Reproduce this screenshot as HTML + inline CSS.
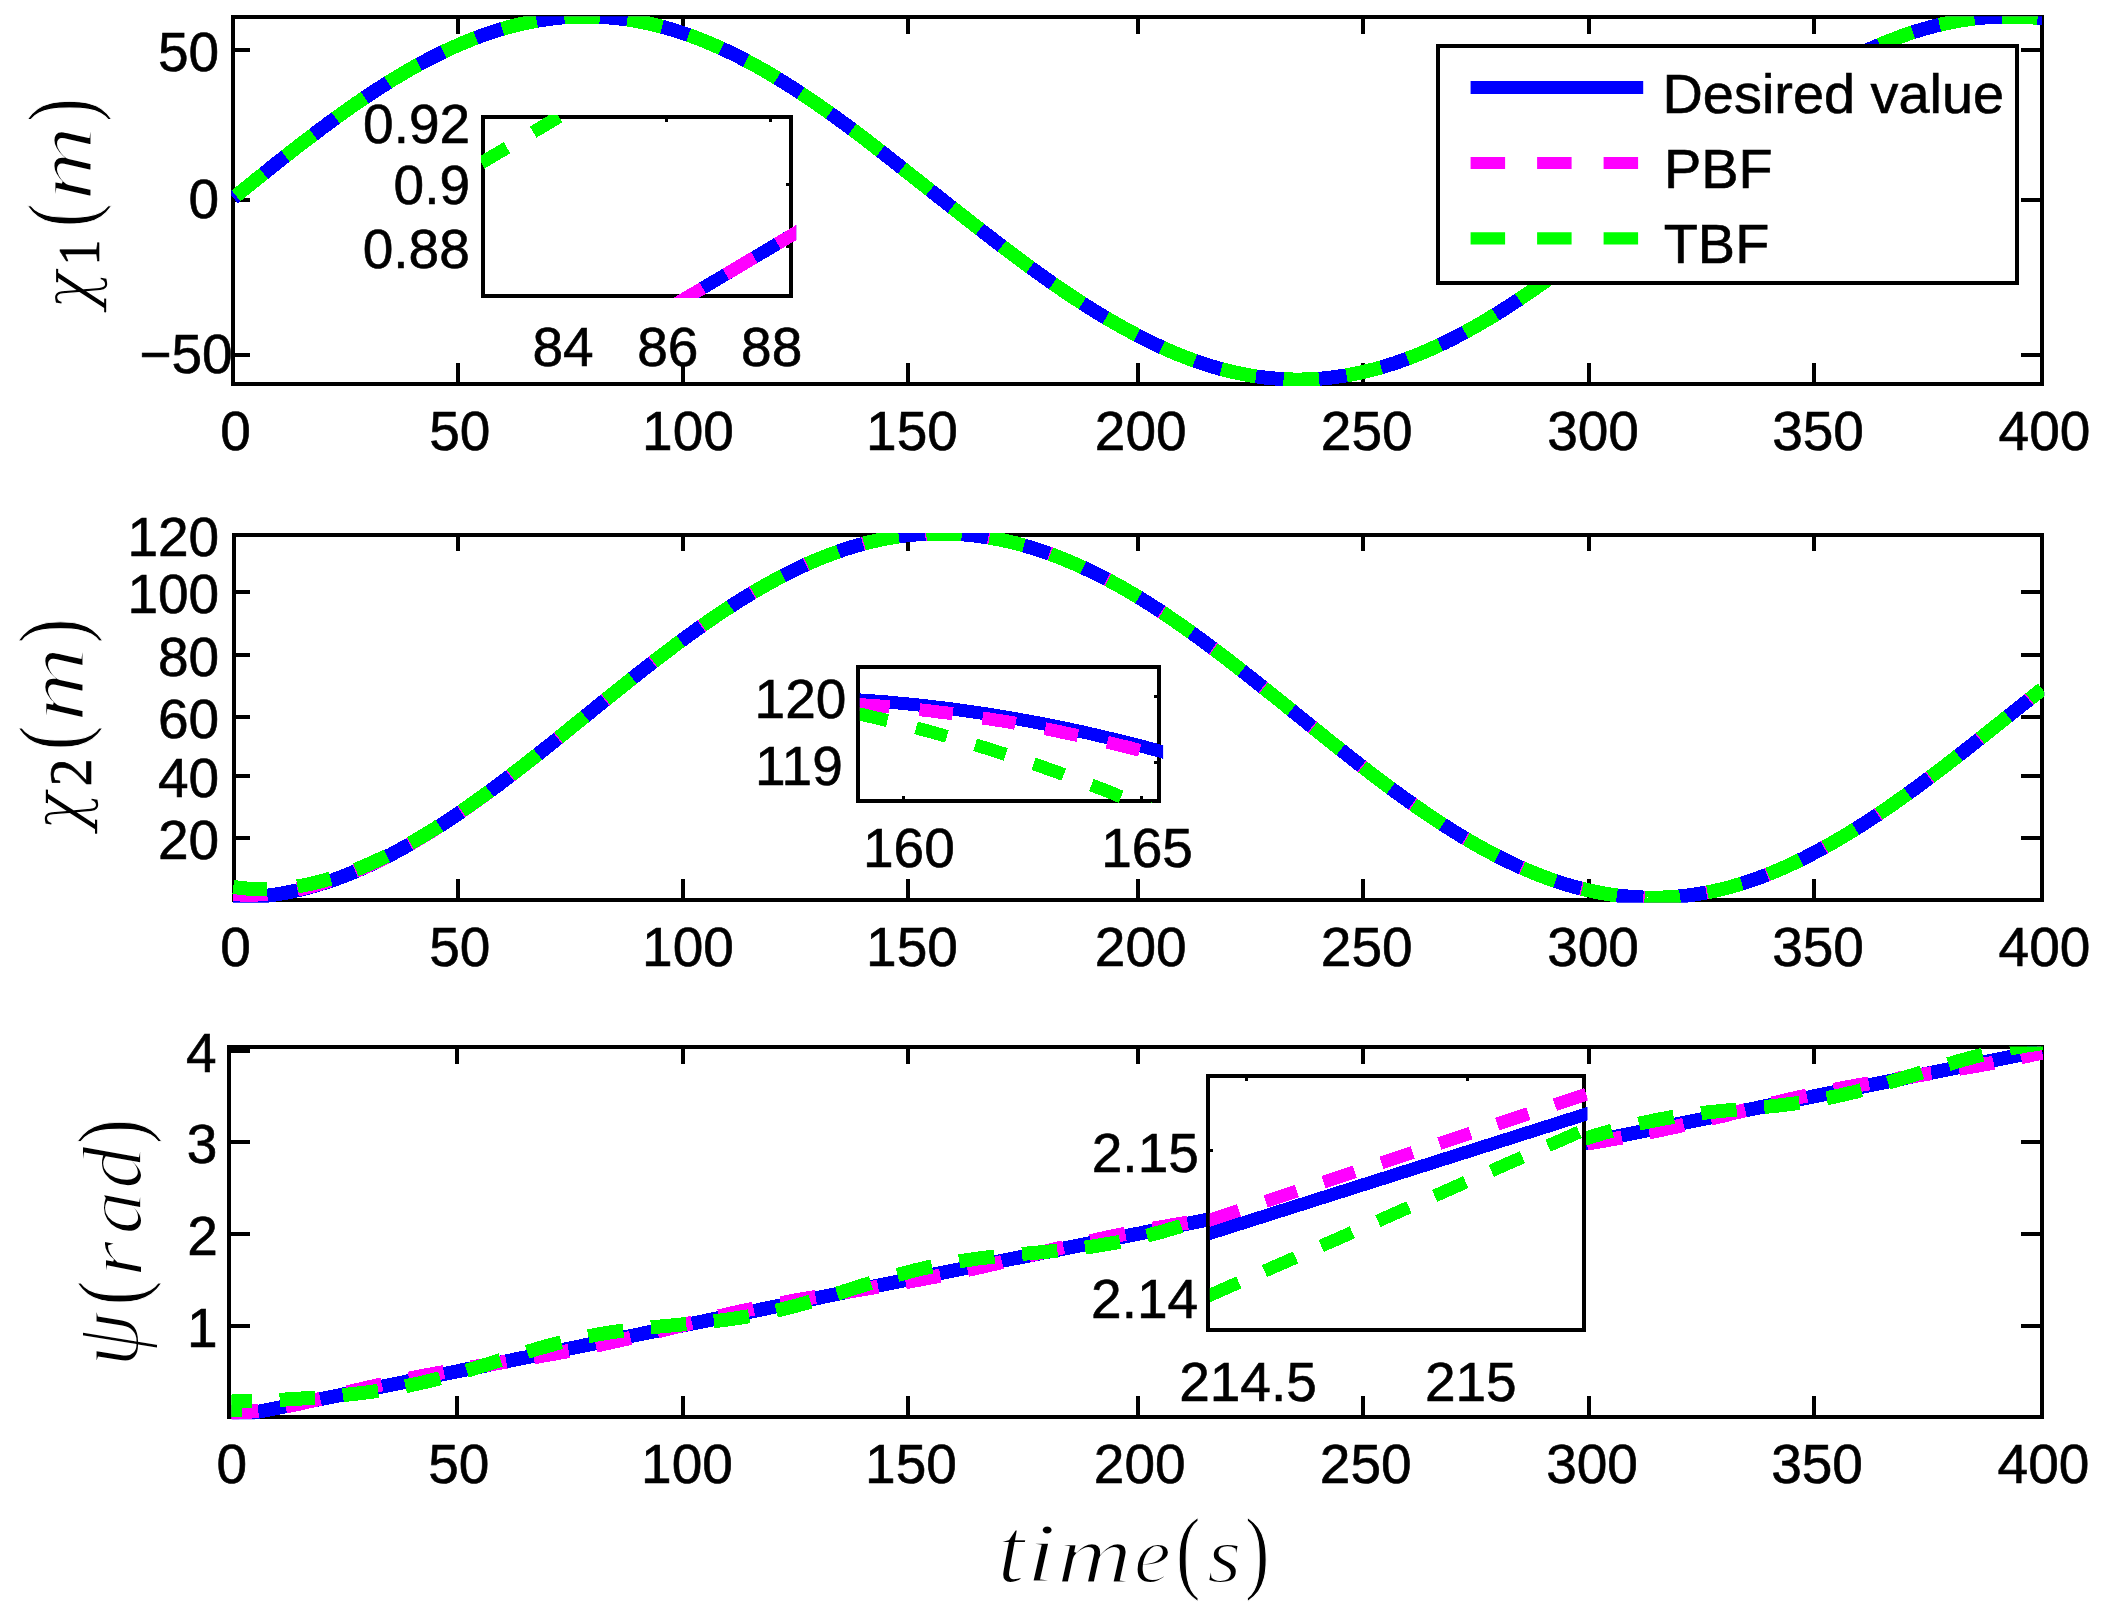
<!DOCTYPE html>
<html><head><meta charset="utf-8"><title>figure</title>
<style>
html,body{margin:0;padding:0;background:#fff;}
svg{display:block}
text{font-family:"Liberation Sans",sans-serif;fill:#000;white-space:pre;stroke:#000;stroke-width:0.6px}
.si{font-family:"Liberation Serif",serif;font-style:italic;stroke:#fff;stroke-width:2px;vector-effect:non-scaling-stroke}
.di{font-family:"DejaVu Serif",serif;font-style:italic;stroke:#fff;stroke-width:1.6px;vector-effect:non-scaling-stroke}
.sd{font-family:"Liberation Serif",serif;font-style:normal}
.sr{font-family:"Liberation Serif",serif;font-style:normal;stroke:#fff;stroke-width:1.2px;vector-effect:non-scaling-stroke}
</style></head>
<body>
<svg width="2111" height="1623" viewBox="0 0 2111 1623">
<rect width="2111" height="1623" fill="#fff"/>
<rect x="233.30" y="17.00" width="1808.90" height="367.00" fill="none" stroke="#000" stroke-width="4" shape-rendering="crispEdges"/>
<line x1="457.70" y1="384.00" x2="457.70" y2="362.50" stroke="#000" stroke-width="4" shape-rendering="crispEdges"/>
<line x1="457.70" y1="17.00" x2="457.70" y2="33.50" stroke="#000" stroke-width="4" shape-rendering="crispEdges"/>
<line x1="682.50" y1="384.00" x2="682.50" y2="362.50" stroke="#000" stroke-width="4" shape-rendering="crispEdges"/>
<line x1="682.50" y1="17.00" x2="682.50" y2="33.50" stroke="#000" stroke-width="4" shape-rendering="crispEdges"/>
<line x1="907.50" y1="384.00" x2="907.50" y2="362.50" stroke="#000" stroke-width="4" shape-rendering="crispEdges"/>
<line x1="907.50" y1="17.00" x2="907.50" y2="33.50" stroke="#000" stroke-width="4" shape-rendering="crispEdges"/>
<line x1="1137.50" y1="384.00" x2="1137.50" y2="362.50" stroke="#000" stroke-width="4" shape-rendering="crispEdges"/>
<line x1="1137.50" y1="17.00" x2="1137.50" y2="33.50" stroke="#000" stroke-width="4" shape-rendering="crispEdges"/>
<line x1="1363.00" y1="384.00" x2="1363.00" y2="362.50" stroke="#000" stroke-width="4" shape-rendering="crispEdges"/>
<line x1="1363.00" y1="17.00" x2="1363.00" y2="33.50" stroke="#000" stroke-width="4" shape-rendering="crispEdges"/>
<line x1="1589.00" y1="384.00" x2="1589.00" y2="362.50" stroke="#000" stroke-width="4" shape-rendering="crispEdges"/>
<line x1="1589.00" y1="17.00" x2="1589.00" y2="33.50" stroke="#000" stroke-width="4" shape-rendering="crispEdges"/>
<line x1="1814.00" y1="384.00" x2="1814.00" y2="362.50" stroke="#000" stroke-width="4" shape-rendering="crispEdges"/>
<line x1="1814.00" y1="17.00" x2="1814.00" y2="33.50" stroke="#000" stroke-width="4" shape-rendering="crispEdges"/>
<line x1="233.30" y1="50.00" x2="249.80" y2="50.00" stroke="#000" stroke-width="4" shape-rendering="crispEdges"/>
<line x1="2042.20" y1="50.00" x2="2020.90" y2="50.00" stroke="#000" stroke-width="4" shape-rendering="crispEdges"/>
<line x1="233.30" y1="199.70" x2="249.80" y2="199.70" stroke="#000" stroke-width="4" shape-rendering="crispEdges"/>
<line x1="2042.20" y1="199.70" x2="2020.90" y2="199.70" stroke="#000" stroke-width="4" shape-rendering="crispEdges"/>
<line x1="233.30" y1="354.50" x2="249.80" y2="354.50" stroke="#000" stroke-width="4" shape-rendering="crispEdges"/>
<line x1="2042.20" y1="354.50" x2="2020.90" y2="354.50" stroke="#000" stroke-width="4" shape-rendering="crispEdges"/>
<clipPath id="c1"><rect x="231.30" y="16.20" width="1812.90" height="369.80"/></clipPath>
<g clip-path="url(#c1)" fill="none" stroke-width="14" stroke-linejoin="round" shape-rendering="crispEdges">
<path d="M233.3,198.0 L235.5,196.2 L237.8,194.4 L240.0,192.6 L242.3,190.7 L244.5,188.9 L246.8,187.1 L249.0,185.3 L251.3,183.5 L253.5,181.7 L255.7,179.9 L258.0,178.1 L260.2,176.3 L262.5,174.5 L264.7,172.7 L267.0,170.9 L269.2,169.1 L271.4,167.3 L273.7,165.5 L275.9,163.7 L278.2,161.9 L280.4,160.2 L282.7,158.4 L284.9,156.6 L287.2,154.9 L289.4,153.1 L291.6,151.3 L293.9,149.6 L296.1,147.8 L298.4,146.1 L300.6,144.4 L302.9,142.6 L305.1,140.9 L307.4,139.2 L309.6,137.5 L311.8,135.8 L314.1,134.1 L316.3,132.4 L318.6,130.7 L320.8,129.0 L323.1,127.3 L325.3,125.7 L327.5,124.0 L329.8,122.3 L332.0,120.7 L334.3,119.1 L336.5,117.4 L338.8,115.8 L341.0,114.2 L343.3,112.6 L345.5,111.0 L347.7,109.4 L350.0,107.8 L352.2,106.2 L354.5,104.7 L356.7,103.1 L359.0,101.6 L361.2,100.1 L363.5,98.5 L365.7,97.0 L367.9,95.5 L370.2,94.0 L372.4,92.5 L374.7,91.1 L376.9,89.6 L379.2,88.2 L381.4,86.7 L383.6,85.3 L385.9,83.9 L388.1,82.5 L390.4,81.1 L392.6,79.7 L394.9,78.3 L397.1,77.0 L399.4,75.6 L401.6,74.3 L403.8,73.0 L406.1,71.7 L408.3,70.4 L410.6,69.1 L412.8,67.8 L415.1,66.5 L417.3,65.3 L419.6,64.1 L421.8,62.8 L424.0,61.6 L426.3,60.5 L428.5,59.3 L430.8,58.1 L433.0,57.0 L435.3,55.8 L437.5,54.7 L439.7,53.6 L442.0,52.5 L444.2,51.4 L446.5,50.4 L448.7,49.3 L451.0,48.3 L453.2,47.3 L455.5,46.3 L457.7,45.3 L459.9,44.3 L462.2,43.3 L464.4,42.4 L466.7,41.5 L468.9,40.6 L471.2,39.7 L473.4,38.8 L475.7,37.9 L477.9,37.1 L480.2,36.2 L482.4,35.4 L484.7,34.6 L486.9,33.8 L489.2,33.1 L491.4,32.3 L493.7,31.6 L495.9,30.9 L498.2,30.2 L500.4,29.5 L502.7,28.8 L504.9,28.2 L507.2,27.6 L509.4,26.9 L511.7,26.3 L513.9,25.8 L516.1,25.2 L518.4,24.6 L520.6,24.1 L522.9,23.6 L525.1,23.1 L527.4,22.6 L529.6,22.2 L531.9,21.7 L534.1,21.3 L536.4,20.9 L538.6,20.5 L540.9,20.1 L543.1,19.8 L545.4,19.5 L547.6,19.1 L549.9,18.8 L552.1,18.6 L554.4,18.3 L556.6,18.1 L558.9,17.8 L561.1,17.6 L563.4,17.4 L565.6,17.2 L567.9,17.1 L570.1,17.0 L572.3,16.8 L574.6,16.7 L576.8,16.7 L579.1,16.6 L581.3,16.5 L583.6,16.5 L585.8,16.5 L588.1,16.5 L590.3,16.5 L592.6,16.6 L594.8,16.6 L597.1,16.7 L599.3,16.8 L601.6,16.9 L603.8,17.1 L606.1,17.2 L608.3,17.4 L610.6,17.6 L612.8,17.8 L615.1,18.0 L617.3,18.3 L619.6,18.5 L621.8,18.8 L624.1,19.1 L626.3,19.4 L628.5,19.7 L630.8,20.1 L633.0,20.5 L635.3,20.8 L637.5,21.2 L639.8,21.7 L642.0,22.1 L644.3,22.6 L646.5,23.0 L648.8,23.5 L651.0,24.0 L653.3,24.6 L655.5,25.1 L657.8,25.7 L660.0,26.2 L662.3,26.8 L664.5,27.5 L666.8,28.1 L669.0,28.7 L671.3,29.4 L673.5,30.1 L675.8,30.8 L678.0,31.5 L680.3,32.2 L682.5,33.0 L684.8,33.7 L687.0,34.5 L689.2,35.3 L691.5,36.1 L693.8,36.9 L696.0,37.8 L698.2,38.6 L700.5,39.5 L702.8,40.4 L705.0,41.3 L707.2,42.3 L709.5,43.2 L711.8,44.1 L714.0,45.1 L716.2,46.1 L718.5,47.1 L720.8,48.1 L723.0,49.2 L725.2,50.2 L727.5,51.3 L729.8,52.3 L732.0,53.4 L734.2,54.5 L736.5,55.6 L738.8,56.8 L741.0,57.9 L743.2,59.1 L745.5,60.3 L747.8,61.5 L750.0,62.7 L752.2,63.9 L754.5,65.1 L756.8,66.3 L759.0,67.6 L761.2,68.9 L763.5,70.1 L765.8,71.4 L768.0,72.8 L770.2,74.1 L772.5,75.4 L774.8,76.7 L777.0,78.1 L779.2,79.5 L781.5,80.9 L783.8,82.2 L786.0,83.6 L788.2,85.1 L790.5,86.5 L792.8,87.9 L795.0,89.4 L797.2,90.8 L799.5,92.3 L801.8,93.8 L804.0,95.3 L806.2,96.8 L808.5,98.3 L810.8,99.8 L813.0,101.3 L815.2,102.9 L817.5,104.4 L819.8,106.0 L822.0,107.6 L824.2,109.1 L826.5,110.7 L828.8,112.3 L831.0,113.9 L833.2,115.5 L835.5,117.2 L837.8,118.8 L840.0,120.4 L842.2,122.1 L844.5,123.7 L846.8,125.4 L849.0,127.1 L851.2,128.7 L853.5,130.4 L855.8,132.1 L858.0,133.8 L860.2,135.5 L862.5,137.2 L864.8,138.9 L867.0,140.6 L869.2,142.4 L871.5,144.1 L873.8,145.8 L876.0,147.6 L878.2,149.3 L880.5,151.1 L882.8,152.8 L885.0,154.6 L887.2,156.3 L889.5,158.1 L891.8,159.9 L894.0,161.7 L896.2,163.4 L898.5,165.2 L900.8,167.0 L903.0,168.8 L905.2,170.6 L907.5,172.4 L909.8,174.2 L912.1,176.0 L914.4,177.8 L916.7,179.6 L919.0,181.4 L921.3,183.2 L923.6,185.0 L925.9,186.8 L928.2,188.6 L930.5,190.5 L932.8,192.3 L935.1,194.1 L937.4,195.9 L939.7,197.7 L942.0,199.5 L944.3,201.3 L946.6,203.2 L948.9,205.0 L951.2,206.8 L953.5,208.6 L955.8,210.4 L958.1,212.2 L960.4,214.0 L962.7,215.8 L965.0,217.6 L967.3,219.4 L969.6,221.2 L971.9,223.0 L974.2,224.8 L976.5,226.6 L978.8,228.4 L981.1,230.2 L983.4,232.0 L985.7,233.8 L988.0,235.6 L990.3,237.3 L992.6,239.1 L994.9,240.9 L997.2,242.6 L999.5,244.4 L1001.8,246.1 L1004.1,247.9 L1006.4,249.6 L1008.7,251.4 L1011.0,253.1 L1013.3,254.8 L1015.6,256.5 L1017.9,258.3 L1020.2,260.0 L1022.5,261.7 L1024.8,263.4 L1027.1,265.1 L1029.4,266.7 L1031.7,268.4 L1034.0,270.1 L1036.3,271.7 L1038.6,273.4 L1040.9,275.0 L1043.2,276.7 L1045.5,278.3 L1047.8,279.9 L1050.1,281.6 L1052.4,283.2 L1054.7,284.8 L1057.0,286.4 L1059.3,287.9 L1061.6,289.5 L1063.9,291.1 L1066.2,292.6 L1068.5,294.2 L1070.8,295.7 L1073.1,297.2 L1075.4,298.7 L1077.7,300.2 L1080.0,301.7 L1082.3,303.2 L1084.6,304.7 L1086.9,306.2 L1089.2,307.6 L1091.5,309.1 L1093.8,310.5 L1096.1,311.9 L1098.4,313.3 L1100.7,314.7 L1103.0,316.1 L1105.3,317.5 L1107.6,318.8 L1109.9,320.2 L1112.2,321.5 L1114.5,322.8 L1116.8,324.1 L1119.1,325.4 L1121.4,326.7 L1123.7,328.0 L1126.0,329.3 L1128.3,330.5 L1130.6,331.7 L1132.9,333.0 L1135.2,334.2 L1137.5,335.4 L1139.8,336.5 L1142.0,337.7 L1144.3,338.9 L1146.5,340.0 L1148.8,341.1 L1151.0,342.2 L1153.3,343.3 L1155.5,344.4 L1157.8,345.5 L1160.0,346.5 L1162.3,347.6 L1164.6,348.6 L1166.8,349.6 L1169.1,350.6 L1171.3,351.5 L1173.6,352.5 L1175.8,353.5 L1178.1,354.4 L1180.3,355.3 L1182.6,356.2 L1184.9,357.1 L1187.1,357.9 L1189.4,358.8 L1191.6,359.6 L1193.9,360.4 L1196.1,361.2 L1198.4,362.0 L1200.6,362.8 L1202.9,363.5 L1205.2,364.3 L1207.4,365.0 L1209.7,365.7 L1211.9,366.4 L1214.2,367.1 L1216.4,367.7 L1218.7,368.3 L1220.9,369.0 L1223.2,369.6 L1225.4,370.1 L1227.7,370.7 L1230.0,371.3 L1232.2,371.8 L1234.5,372.3 L1236.7,372.8 L1239.0,373.3 L1241.2,373.7 L1243.5,374.2 L1245.7,374.6 L1248.0,375.0 L1250.2,375.4 L1252.5,375.8 L1254.8,376.2 L1257.0,376.5 L1259.3,376.8 L1261.5,377.1 L1263.8,377.4 L1266.0,377.7 L1268.3,377.9 L1270.5,378.1 L1272.8,378.4 L1275.1,378.5 L1277.3,378.7 L1279.6,378.9 L1281.8,379.0 L1284.1,379.1 L1286.3,379.3 L1288.6,379.3 L1290.8,379.4 L1293.1,379.5 L1295.3,379.5 L1297.6,379.5 L1299.9,379.5 L1302.1,379.5 L1304.4,379.4 L1306.6,379.4 L1308.9,379.3 L1311.1,379.2 L1313.4,379.1 L1315.6,379.0 L1317.9,378.8 L1320.2,378.6 L1322.4,378.5 L1324.7,378.2 L1326.9,378.0 L1329.2,377.8 L1331.4,377.5 L1333.7,377.3 L1335.9,377.0 L1338.2,376.6 L1340.5,376.3 L1342.7,376.0 L1345.0,375.6 L1347.2,375.2 L1349.5,374.8 L1351.7,374.4 L1354.0,374.0 L1356.2,373.5 L1358.5,373.0 L1360.7,372.6 L1363.0,372.0 L1365.3,371.5 L1367.5,371.0 L1369.8,370.4 L1372.0,369.8 L1374.3,369.3 L1376.6,368.6 L1378.8,368.0 L1381.1,367.4 L1383.3,366.7 L1385.6,366.0 L1387.9,365.3 L1390.1,364.6 L1392.4,363.9 L1394.6,363.2 L1396.9,362.4 L1399.2,361.6 L1401.4,360.8 L1403.7,360.0 L1405.9,359.2 L1408.2,358.3 L1410.5,357.5 L1412.7,356.6 L1415.0,355.7 L1417.2,354.8 L1419.5,353.9 L1421.8,353.0 L1424.0,352.0 L1426.3,351.0 L1428.5,350.1 L1430.8,349.1 L1433.1,348.0 L1435.3,347.0 L1437.6,346.0 L1439.8,344.9 L1442.1,343.8 L1444.4,342.8 L1446.6,341.6 L1448.9,340.5 L1451.1,339.4 L1453.4,338.3 L1455.7,337.1 L1457.9,335.9 L1460.2,334.7 L1462.4,333.5 L1464.7,332.3 L1467.0,331.1 L1469.2,329.9 L1471.5,328.6 L1473.7,327.3 L1476.0,326.1 L1478.3,324.8 L1480.5,323.5 L1482.8,322.1 L1485.0,320.8 L1487.3,319.5 L1489.6,318.1 L1491.8,316.7 L1494.1,315.4 L1496.3,314.0 L1498.6,312.6 L1500.9,311.2 L1503.1,309.7 L1505.4,308.3 L1507.6,306.9 L1509.9,305.4 L1512.2,303.9 L1514.4,302.4 L1516.7,301.0 L1518.9,299.5 L1521.2,297.9 L1523.5,296.4 L1525.7,294.9 L1528.0,293.4 L1530.2,291.8 L1532.5,290.3 L1534.8,288.7 L1537.0,287.1 L1539.3,285.5 L1541.5,283.9 L1543.8,282.3 L1546.1,280.7 L1548.3,279.1 L1550.6,277.5 L1552.8,275.8 L1555.1,274.2 L1557.4,272.5 L1559.6,270.9 L1561.9,269.2 L1564.1,267.5 L1566.4,265.9 L1568.7,264.2 L1570.9,262.5 L1573.2,260.8 L1575.4,259.1 L1577.7,257.4 L1580.0,255.6 L1582.2,253.9 L1584.5,252.2 L1586.7,250.5 L1589.0,248.7 L1591.2,247.0 L1593.5,245.2 L1595.8,243.5 L1598.0,241.7 L1600.2,239.9 L1602.5,238.2 L1604.8,236.4 L1607.0,234.6 L1609.2,232.8 L1611.5,231.1 L1613.8,229.3 L1616.0,227.5 L1618.2,225.7 L1620.5,223.9 L1622.8,222.1 L1625.0,220.3 L1627.2,218.5 L1629.5,216.7 L1631.8,214.9 L1634.0,213.1 L1636.2,211.3 L1638.5,209.5 L1640.8,207.6 L1643.0,205.8 L1645.2,204.0 L1647.5,202.2 L1649.8,200.4 L1652.0,198.6 L1654.2,196.8 L1656.5,194.9 L1658.8,193.1 L1661.0,191.3 L1663.2,189.5 L1665.5,187.7 L1667.8,185.9 L1670.0,184.1 L1672.2,182.3 L1674.5,180.5 L1676.8,178.6 L1679.0,176.8 L1681.2,175.0 L1683.5,173.2 L1685.8,171.4 L1688.0,169.7 L1690.2,167.9 L1692.5,166.1 L1694.8,164.3 L1697.0,162.5 L1699.2,160.7 L1701.5,159.0 L1703.8,157.2 L1706.0,155.4 L1708.2,153.7 L1710.5,151.9 L1712.8,150.1 L1715.0,148.4 L1717.2,146.7 L1719.5,144.9 L1721.8,143.2 L1724.0,141.5 L1726.2,139.7 L1728.5,138.0 L1730.8,136.3 L1733.0,134.6 L1735.2,132.9 L1737.5,131.2 L1739.8,129.5 L1742.0,127.9 L1744.2,126.2 L1746.5,124.5 L1748.8,122.9 L1751.0,121.2 L1753.2,119.6 L1755.5,117.9 L1757.8,116.3 L1760.0,114.7 L1762.2,113.1 L1764.5,111.5 L1766.8,109.9 L1769.0,108.3 L1771.2,106.7 L1773.5,105.2 L1775.8,103.6 L1778.0,102.1 L1780.2,100.5 L1782.5,99.0 L1784.8,97.5 L1787.0,96.0 L1789.2,94.5 L1791.5,93.0 L1793.8,91.5 L1796.0,90.1 L1798.2,88.6 L1800.5,87.2 L1802.8,85.7 L1805.0,84.3 L1807.2,82.9 L1809.5,81.5 L1811.8,80.1 L1814.0,78.8 L1816.3,77.4 L1818.6,76.0 L1820.8,74.7 L1823.1,73.4 L1825.4,72.1 L1827.7,70.8 L1830.0,69.5 L1832.3,68.2 L1834.5,66.9 L1836.8,65.7 L1839.1,64.5 L1841.4,63.2 L1843.7,62.0 L1845.9,60.8 L1848.2,59.6 L1850.5,58.5 L1852.8,57.3 L1855.1,56.2 L1857.4,55.1 L1859.6,53.9 L1861.9,52.9 L1864.2,51.8 L1866.5,50.7 L1868.8,49.6 L1871.0,48.6 L1873.3,47.6 L1875.6,46.6 L1877.9,45.6 L1880.2,44.6 L1882.5,43.6 L1884.7,42.7 L1887.0,41.8 L1889.3,40.9 L1891.6,40.0 L1893.9,39.1 L1896.2,38.2 L1898.4,37.3 L1900.7,36.5 L1903.0,35.7 L1905.3,34.9 L1907.6,34.1 L1909.8,33.3 L1912.1,32.6 L1914.4,31.8 L1916.7,31.1 L1919.0,30.4 L1921.3,29.7 L1923.5,29.0 L1925.8,28.4 L1928.1,27.8 L1930.4,27.1 L1932.7,26.5 L1934.9,25.9 L1937.2,25.4 L1939.5,24.8 L1941.8,24.3 L1944.1,23.8 L1946.4,23.3 L1948.6,22.8 L1950.9,22.3 L1953.2,21.9 L1955.5,21.4 L1957.8,21.0 L1960.0,20.6 L1962.3,20.3 L1964.6,19.9 L1966.9,19.6 L1969.2,19.2 L1971.5,18.9 L1973.7,18.6 L1976.0,18.4 L1978.3,18.1 L1980.6,17.9 L1982.9,17.7 L1985.2,17.5 L1987.4,17.3 L1989.7,17.1 L1992.0,17.0 L1994.3,16.9 L1996.6,16.8 L1998.8,16.7 L2001.1,16.6 L2003.4,16.6 L2005.7,16.5 L2008.0,16.5 L2010.3,16.5 L2012.5,16.5 L2014.8,16.6 L2017.1,16.6 L2019.4,16.7 L2021.7,16.8 L2023.9,16.9 L2026.2,17.0 L2028.5,17.2 L2030.8,17.3 L2033.1,17.5 L2035.4,17.7 L2037.6,17.9 L2039.9,18.2 L2042.2,18.4" stroke="#0000ff"/>
<path d="M233.3,198.0 L235.5,196.2 L237.8,194.4 L240.0,192.6 L242.3,190.7 L244.5,188.9 L246.8,187.1 L249.0,185.3 L251.3,183.5 L253.5,181.7 L255.7,179.9 L258.0,178.1 L260.2,176.3 L262.5,174.5 L264.7,172.7 L267.0,170.9 L269.2,169.1 L271.4,167.3 L273.7,165.5 L275.9,163.7 L278.2,161.9 L280.4,160.2 L282.7,158.4 L284.9,156.6 L287.2,154.9 L289.4,153.1 L291.6,151.3 L293.9,149.6 L296.1,147.8 L298.4,146.1 L300.6,144.4 L302.9,142.6 L305.1,140.9 L307.4,139.2 L309.6,137.5 L311.8,135.8 L314.1,134.1 L316.3,132.4 L318.6,130.7 L320.8,129.0 L323.1,127.3 L325.3,125.7 L327.5,124.0 L329.8,122.3 L332.0,120.7 L334.3,119.1 L336.5,117.4 L338.8,115.8 L341.0,114.2 L343.3,112.6 L345.5,111.0 L347.7,109.4 L350.0,107.8 L352.2,106.2 L354.5,104.7 L356.7,103.1 L359.0,101.6 L361.2,100.1 L363.5,98.5 L365.7,97.0 L367.9,95.5 L370.2,94.0 L372.4,92.5 L374.7,91.1 L376.9,89.6 L379.2,88.2 L381.4,86.7 L383.6,85.3 L385.9,83.9 L388.1,82.5 L390.4,81.1 L392.6,79.7 L394.9,78.3 L397.1,77.0 L399.4,75.6 L401.6,74.3 L403.8,73.0 L406.1,71.7 L408.3,70.4 L410.6,69.1 L412.8,67.8 L415.1,66.5 L417.3,65.3 L419.6,64.1 L421.8,62.8 L424.0,61.6 L426.3,60.5 L428.5,59.3 L430.8,58.1 L433.0,57.0 L435.3,55.8 L437.5,54.7 L439.7,53.6 L442.0,52.5 L444.2,51.4 L446.5,50.4 L448.7,49.3 L451.0,48.3 L453.2,47.3 L455.5,46.3 L457.7,45.3 L459.9,44.3 L462.2,43.3 L464.4,42.4 L466.7,41.5 L468.9,40.6 L471.2,39.7 L473.4,38.8 L475.7,37.9 L477.9,37.1 L480.2,36.2 L482.4,35.4 L484.7,34.6 L486.9,33.8 L489.2,33.1 L491.4,32.3 L493.7,31.6 L495.9,30.9 L498.2,30.2 L500.4,29.5 L502.7,28.8 L504.9,28.2 L507.2,27.6 L509.4,26.9 L511.7,26.3 L513.9,25.8 L516.1,25.2 L518.4,24.6 L520.6,24.1 L522.9,23.6 L525.1,23.1 L527.4,22.6 L529.6,22.2 L531.9,21.7 L534.1,21.3 L536.4,20.9 L538.6,20.5 L540.9,20.1 L543.1,19.8 L545.4,19.5 L547.6,19.1 L549.9,18.8 L552.1,18.6 L554.4,18.3 L556.6,18.1 L558.9,17.8 L561.1,17.6 L563.4,17.4 L565.6,17.2 L567.9,17.1 L570.1,17.0 L572.3,16.8 L574.6,16.7 L576.8,16.7 L579.1,16.6 L581.3,16.5 L583.6,16.5 L585.8,16.5 L588.1,16.5 L590.3,16.5 L592.6,16.6 L594.8,16.6 L597.1,16.7 L599.3,16.8 L601.6,16.9 L603.8,17.1 L606.1,17.2 L608.3,17.4 L610.6,17.6 L612.8,17.8 L615.1,18.0 L617.3,18.3 L619.6,18.5 L621.8,18.8 L624.1,19.1 L626.3,19.4 L628.5,19.7 L630.8,20.1 L633.0,20.5 L635.3,20.8 L637.5,21.2 L639.8,21.7 L642.0,22.1 L644.3,22.6 L646.5,23.0 L648.8,23.5 L651.0,24.0 L653.3,24.6 L655.5,25.1 L657.8,25.7 L660.0,26.2 L662.3,26.8 L664.5,27.5 L666.8,28.1 L669.0,28.7 L671.3,29.4 L673.5,30.1 L675.8,30.8 L678.0,31.5 L680.3,32.2 L682.5,33.0 L684.8,33.7 L687.0,34.5 L689.2,35.3 L691.5,36.1 L693.8,36.9 L696.0,37.8 L698.2,38.6 L700.5,39.5 L702.8,40.4 L705.0,41.3 L707.2,42.3 L709.5,43.2 L711.8,44.1 L714.0,45.1 L716.2,46.1 L718.5,47.1 L720.8,48.1 L723.0,49.2 L725.2,50.2 L727.5,51.3 L729.8,52.3 L732.0,53.4 L734.2,54.5 L736.5,55.6 L738.8,56.8 L741.0,57.9 L743.2,59.1 L745.5,60.3 L747.8,61.5 L750.0,62.7 L752.2,63.9 L754.5,65.1 L756.8,66.3 L759.0,67.6 L761.2,68.9 L763.5,70.1 L765.8,71.4 L768.0,72.8 L770.2,74.1 L772.5,75.4 L774.8,76.7 L777.0,78.1 L779.2,79.5 L781.5,80.9 L783.8,82.2 L786.0,83.6 L788.2,85.1 L790.5,86.5 L792.8,87.9 L795.0,89.4 L797.2,90.8 L799.5,92.3 L801.8,93.8 L804.0,95.3 L806.2,96.8 L808.5,98.3 L810.8,99.8 L813.0,101.3 L815.2,102.9 L817.5,104.4 L819.8,106.0 L822.0,107.6 L824.2,109.1 L826.5,110.7 L828.8,112.3 L831.0,113.9 L833.2,115.5 L835.5,117.2 L837.8,118.8 L840.0,120.4 L842.2,122.1 L844.5,123.7 L846.8,125.4 L849.0,127.1 L851.2,128.7 L853.5,130.4 L855.8,132.1 L858.0,133.8 L860.2,135.5 L862.5,137.2 L864.8,138.9 L867.0,140.6 L869.2,142.4 L871.5,144.1 L873.8,145.8 L876.0,147.6 L878.2,149.3 L880.5,151.1 L882.8,152.8 L885.0,154.6 L887.2,156.3 L889.5,158.1 L891.8,159.9 L894.0,161.7 L896.2,163.4 L898.5,165.2 L900.8,167.0 L903.0,168.8 L905.2,170.6 L907.5,172.4 L909.8,174.2 L912.1,176.0 L914.4,177.8 L916.7,179.6 L919.0,181.4 L921.3,183.2 L923.6,185.0 L925.9,186.8 L928.2,188.6 L930.5,190.5 L932.8,192.3 L935.1,194.1 L937.4,195.9 L939.7,197.7 L942.0,199.5 L944.3,201.3 L946.6,203.2 L948.9,205.0 L951.2,206.8 L953.5,208.6 L955.8,210.4 L958.1,212.2 L960.4,214.0 L962.7,215.8 L965.0,217.6 L967.3,219.4 L969.6,221.2 L971.9,223.0 L974.2,224.8 L976.5,226.6 L978.8,228.4 L981.1,230.2 L983.4,232.0 L985.7,233.8 L988.0,235.6 L990.3,237.3 L992.6,239.1 L994.9,240.9 L997.2,242.6 L999.5,244.4 L1001.8,246.1 L1004.1,247.9 L1006.4,249.6 L1008.7,251.4 L1011.0,253.1 L1013.3,254.8 L1015.6,256.5 L1017.9,258.3 L1020.2,260.0 L1022.5,261.7 L1024.8,263.4 L1027.1,265.1 L1029.4,266.7 L1031.7,268.4 L1034.0,270.1 L1036.3,271.7 L1038.6,273.4 L1040.9,275.0 L1043.2,276.7 L1045.5,278.3 L1047.8,279.9 L1050.1,281.6 L1052.4,283.2 L1054.7,284.8 L1057.0,286.4 L1059.3,287.9 L1061.6,289.5 L1063.9,291.1 L1066.2,292.6 L1068.5,294.2 L1070.8,295.7 L1073.1,297.2 L1075.4,298.7 L1077.7,300.2 L1080.0,301.7 L1082.3,303.2 L1084.6,304.7 L1086.9,306.2 L1089.2,307.6 L1091.5,309.1 L1093.8,310.5 L1096.1,311.9 L1098.4,313.3 L1100.7,314.7 L1103.0,316.1 L1105.3,317.5 L1107.6,318.8 L1109.9,320.2 L1112.2,321.5 L1114.5,322.8 L1116.8,324.1 L1119.1,325.4 L1121.4,326.7 L1123.7,328.0 L1126.0,329.3 L1128.3,330.5 L1130.6,331.7 L1132.9,333.0 L1135.2,334.2 L1137.5,335.4 L1139.8,336.5 L1142.0,337.7 L1144.3,338.9 L1146.5,340.0 L1148.8,341.1 L1151.0,342.2 L1153.3,343.3 L1155.5,344.4 L1157.8,345.5 L1160.0,346.5 L1162.3,347.6 L1164.6,348.6 L1166.8,349.6 L1169.1,350.6 L1171.3,351.5 L1173.6,352.5 L1175.8,353.5 L1178.1,354.4 L1180.3,355.3 L1182.6,356.2 L1184.9,357.1 L1187.1,357.9 L1189.4,358.8 L1191.6,359.6 L1193.9,360.4 L1196.1,361.2 L1198.4,362.0 L1200.6,362.8 L1202.9,363.5 L1205.2,364.3 L1207.4,365.0 L1209.7,365.7 L1211.9,366.4 L1214.2,367.1 L1216.4,367.7 L1218.7,368.3 L1220.9,369.0 L1223.2,369.6 L1225.4,370.1 L1227.7,370.7 L1230.0,371.3 L1232.2,371.8 L1234.5,372.3 L1236.7,372.8 L1239.0,373.3 L1241.2,373.7 L1243.5,374.2 L1245.7,374.6 L1248.0,375.0 L1250.2,375.4 L1252.5,375.8 L1254.8,376.2 L1257.0,376.5 L1259.3,376.8 L1261.5,377.1 L1263.8,377.4 L1266.0,377.7 L1268.3,377.9 L1270.5,378.1 L1272.8,378.4 L1275.1,378.5 L1277.3,378.7 L1279.6,378.9 L1281.8,379.0 L1284.1,379.1 L1286.3,379.3 L1288.6,379.3 L1290.8,379.4 L1293.1,379.5 L1295.3,379.5 L1297.6,379.5 L1299.9,379.5 L1302.1,379.5 L1304.4,379.4 L1306.6,379.4 L1308.9,379.3 L1311.1,379.2 L1313.4,379.1 L1315.6,379.0 L1317.9,378.8 L1320.2,378.6 L1322.4,378.5 L1324.7,378.2 L1326.9,378.0 L1329.2,377.8 L1331.4,377.5 L1333.7,377.3 L1335.9,377.0 L1338.2,376.6 L1340.5,376.3 L1342.7,376.0 L1345.0,375.6 L1347.2,375.2 L1349.5,374.8 L1351.7,374.4 L1354.0,374.0 L1356.2,373.5 L1358.5,373.0 L1360.7,372.6 L1363.0,372.0 L1365.3,371.5 L1367.5,371.0 L1369.8,370.4 L1372.0,369.8 L1374.3,369.3 L1376.6,368.6 L1378.8,368.0 L1381.1,367.4 L1383.3,366.7 L1385.6,366.0 L1387.9,365.3 L1390.1,364.6 L1392.4,363.9 L1394.6,363.2 L1396.9,362.4 L1399.2,361.6 L1401.4,360.8 L1403.7,360.0 L1405.9,359.2 L1408.2,358.3 L1410.5,357.5 L1412.7,356.6 L1415.0,355.7 L1417.2,354.8 L1419.5,353.9 L1421.8,353.0 L1424.0,352.0 L1426.3,351.0 L1428.5,350.1 L1430.8,349.1 L1433.1,348.0 L1435.3,347.0 L1437.6,346.0 L1439.8,344.9 L1442.1,343.8 L1444.4,342.8 L1446.6,341.6 L1448.9,340.5 L1451.1,339.4 L1453.4,338.3 L1455.7,337.1 L1457.9,335.9 L1460.2,334.7 L1462.4,333.5 L1464.7,332.3 L1467.0,331.1 L1469.2,329.9 L1471.5,328.6 L1473.7,327.3 L1476.0,326.1 L1478.3,324.8 L1480.5,323.5 L1482.8,322.1 L1485.0,320.8 L1487.3,319.5 L1489.6,318.1 L1491.8,316.7 L1494.1,315.4 L1496.3,314.0 L1498.6,312.6 L1500.9,311.2 L1503.1,309.7 L1505.4,308.3 L1507.6,306.9 L1509.9,305.4 L1512.2,303.9 L1514.4,302.4 L1516.7,301.0 L1518.9,299.5 L1521.2,297.9 L1523.5,296.4 L1525.7,294.9 L1528.0,293.4 L1530.2,291.8 L1532.5,290.3 L1534.8,288.7 L1537.0,287.1 L1539.3,285.5 L1541.5,283.9 L1543.8,282.3 L1546.1,280.7 L1548.3,279.1 L1550.6,277.5 L1552.8,275.8 L1555.1,274.2 L1557.4,272.5 L1559.6,270.9 L1561.9,269.2 L1564.1,267.5 L1566.4,265.9 L1568.7,264.2 L1570.9,262.5 L1573.2,260.8 L1575.4,259.1 L1577.7,257.4 L1580.0,255.6 L1582.2,253.9 L1584.5,252.2 L1586.7,250.5 L1589.0,248.7 L1591.2,247.0 L1593.5,245.2 L1595.8,243.5 L1598.0,241.7 L1600.2,239.9 L1602.5,238.2 L1604.8,236.4 L1607.0,234.6 L1609.2,232.8 L1611.5,231.1 L1613.8,229.3 L1616.0,227.5 L1618.2,225.7 L1620.5,223.9 L1622.8,222.1 L1625.0,220.3 L1627.2,218.5 L1629.5,216.7 L1631.8,214.9 L1634.0,213.1 L1636.2,211.3 L1638.5,209.5 L1640.8,207.6 L1643.0,205.8 L1645.2,204.0 L1647.5,202.2 L1649.8,200.4 L1652.0,198.6 L1654.2,196.8 L1656.5,194.9 L1658.8,193.1 L1661.0,191.3 L1663.2,189.5 L1665.5,187.7 L1667.8,185.9 L1670.0,184.1 L1672.2,182.3 L1674.5,180.5 L1676.8,178.6 L1679.0,176.8 L1681.2,175.0 L1683.5,173.2 L1685.8,171.4 L1688.0,169.7 L1690.2,167.9 L1692.5,166.1 L1694.8,164.3 L1697.0,162.5 L1699.2,160.7 L1701.5,159.0 L1703.8,157.2 L1706.0,155.4 L1708.2,153.7 L1710.5,151.9 L1712.8,150.1 L1715.0,148.4 L1717.2,146.7 L1719.5,144.9 L1721.8,143.2 L1724.0,141.5 L1726.2,139.7 L1728.5,138.0 L1730.8,136.3 L1733.0,134.6 L1735.2,132.9 L1737.5,131.2 L1739.8,129.5 L1742.0,127.9 L1744.2,126.2 L1746.5,124.5 L1748.8,122.9 L1751.0,121.2 L1753.2,119.6 L1755.5,117.9 L1757.8,116.3 L1760.0,114.7 L1762.2,113.1 L1764.5,111.5 L1766.8,109.9 L1769.0,108.3 L1771.2,106.7 L1773.5,105.2 L1775.8,103.6 L1778.0,102.1 L1780.2,100.5 L1782.5,99.0 L1784.8,97.5 L1787.0,96.0 L1789.2,94.5 L1791.5,93.0 L1793.8,91.5 L1796.0,90.1 L1798.2,88.6 L1800.5,87.2 L1802.8,85.7 L1805.0,84.3 L1807.2,82.9 L1809.5,81.5 L1811.8,80.1 L1814.0,78.8 L1816.3,77.4 L1818.6,76.0 L1820.8,74.7 L1823.1,73.4 L1825.4,72.1 L1827.7,70.8 L1830.0,69.5 L1832.3,68.2 L1834.5,66.9 L1836.8,65.7 L1839.1,64.5 L1841.4,63.2 L1843.7,62.0 L1845.9,60.8 L1848.2,59.6 L1850.5,58.5 L1852.8,57.3 L1855.1,56.2 L1857.4,55.1 L1859.6,53.9 L1861.9,52.9 L1864.2,51.8 L1866.5,50.7 L1868.8,49.6 L1871.0,48.6 L1873.3,47.6 L1875.6,46.6 L1877.9,45.6 L1880.2,44.6 L1882.5,43.6 L1884.7,42.7 L1887.0,41.8 L1889.3,40.9 L1891.6,40.0 L1893.9,39.1 L1896.2,38.2 L1898.4,37.3 L1900.7,36.5 L1903.0,35.7 L1905.3,34.9 L1907.6,34.1 L1909.8,33.3 L1912.1,32.6 L1914.4,31.8 L1916.7,31.1 L1919.0,30.4 L1921.3,29.7 L1923.5,29.0 L1925.8,28.4 L1928.1,27.8 L1930.4,27.1 L1932.7,26.5 L1934.9,25.9 L1937.2,25.4 L1939.5,24.8 L1941.8,24.3 L1944.1,23.8 L1946.4,23.3 L1948.6,22.8 L1950.9,22.3 L1953.2,21.9 L1955.5,21.4 L1957.8,21.0 L1960.0,20.6 L1962.3,20.3 L1964.6,19.9 L1966.9,19.6 L1969.2,19.2 L1971.5,18.9 L1973.7,18.6 L1976.0,18.4 L1978.3,18.1 L1980.6,17.9 L1982.9,17.7 L1985.2,17.5 L1987.4,17.3 L1989.7,17.1 L1992.0,17.0 L1994.3,16.9 L1996.6,16.8 L1998.8,16.7 L2001.1,16.6 L2003.4,16.6 L2005.7,16.5 L2008.0,16.5 L2010.3,16.5 L2012.5,16.5 L2014.8,16.6 L2017.1,16.6 L2019.4,16.7 L2021.7,16.8 L2023.9,16.9 L2026.2,17.0 L2028.5,17.2 L2030.8,17.3 L2033.1,17.5 L2035.4,17.7 L2037.6,17.9 L2039.9,18.2 L2042.2,18.4" stroke="#ff00ff" stroke-dasharray="35.5 27.75" stroke-dashoffset="-3.5"/>
<path d="M233.3,198.0 L235.5,196.2 L237.8,194.4 L240.0,192.6 L242.3,190.7 L244.5,188.9 L246.8,187.1 L249.0,185.3 L251.3,183.5 L253.5,181.7 L255.7,179.9 L258.0,178.1 L260.2,176.3 L262.5,174.5 L264.7,172.7 L267.0,170.9 L269.2,169.1 L271.4,167.3 L273.7,165.5 L275.9,163.7 L278.2,161.9 L280.4,160.2 L282.7,158.4 L284.9,156.6 L287.2,154.9 L289.4,153.1 L291.6,151.3 L293.9,149.6 L296.1,147.8 L298.4,146.1 L300.6,144.4 L302.9,142.6 L305.1,140.9 L307.4,139.2 L309.6,137.5 L311.8,135.8 L314.1,134.1 L316.3,132.4 L318.6,130.7 L320.8,129.0 L323.1,127.3 L325.3,125.7 L327.5,124.0 L329.8,122.3 L332.0,120.7 L334.3,119.1 L336.5,117.4 L338.8,115.8 L341.0,114.2 L343.3,112.6 L345.5,111.0 L347.7,109.4 L350.0,107.8 L352.2,106.2 L354.5,104.7 L356.7,103.1 L359.0,101.6 L361.2,100.1 L363.5,98.5 L365.7,97.0 L367.9,95.5 L370.2,94.0 L372.4,92.5 L374.7,91.1 L376.9,89.6 L379.2,88.2 L381.4,86.7 L383.6,85.3 L385.9,83.9 L388.1,82.5 L390.4,81.1 L392.6,79.7 L394.9,78.3 L397.1,77.0 L399.4,75.6 L401.6,74.3 L403.8,73.0 L406.1,71.7 L408.3,70.4 L410.6,69.1 L412.8,67.8 L415.1,66.5 L417.3,65.3 L419.6,64.1 L421.8,62.8 L424.0,61.6 L426.3,60.5 L428.5,59.3 L430.8,58.1 L433.0,57.0 L435.3,55.8 L437.5,54.7 L439.7,53.6 L442.0,52.5 L444.2,51.4 L446.5,50.4 L448.7,49.3 L451.0,48.3 L453.2,47.3 L455.5,46.3 L457.7,45.3 L459.9,44.3 L462.2,43.3 L464.4,42.4 L466.7,41.5 L468.9,40.6 L471.2,39.7 L473.4,38.8 L475.7,37.9 L477.9,37.1 L480.2,36.2 L482.4,35.4 L484.7,34.6 L486.9,33.8 L489.2,33.1 L491.4,32.3 L493.7,31.6 L495.9,30.9 L498.2,30.2 L500.4,29.5 L502.7,28.8 L504.9,28.2 L507.2,27.6 L509.4,26.9 L511.7,26.3 L513.9,25.8 L516.1,25.2 L518.4,24.6 L520.6,24.1 L522.9,23.6 L525.1,23.1 L527.4,22.6 L529.6,22.2 L531.9,21.7 L534.1,21.3 L536.4,20.9 L538.6,20.5 L540.9,20.1 L543.1,19.8 L545.4,19.5 L547.6,19.1 L549.9,18.8 L552.1,18.6 L554.4,18.3 L556.6,18.1 L558.9,17.8 L561.1,17.6 L563.4,17.4 L565.6,17.2 L567.9,17.1 L570.1,17.0 L572.3,16.8 L574.6,16.7 L576.8,16.7 L579.1,16.6 L581.3,16.5 L583.6,16.5 L585.8,16.5 L588.1,16.5 L590.3,16.5 L592.6,16.6 L594.8,16.6 L597.1,16.7 L599.3,16.8 L601.6,16.9 L603.8,17.1 L606.1,17.2 L608.3,17.4 L610.6,17.6 L612.8,17.8 L615.1,18.0 L617.3,18.3 L619.6,18.5 L621.8,18.8 L624.1,19.1 L626.3,19.4 L628.5,19.7 L630.8,20.1 L633.0,20.5 L635.3,20.8 L637.5,21.2 L639.8,21.7 L642.0,22.1 L644.3,22.6 L646.5,23.0 L648.8,23.5 L651.0,24.0 L653.3,24.6 L655.5,25.1 L657.8,25.7 L660.0,26.2 L662.3,26.8 L664.5,27.5 L666.8,28.1 L669.0,28.7 L671.3,29.4 L673.5,30.1 L675.8,30.8 L678.0,31.5 L680.3,32.2 L682.5,33.0 L684.8,33.7 L687.0,34.5 L689.2,35.3 L691.5,36.1 L693.8,36.9 L696.0,37.8 L698.2,38.6 L700.5,39.5 L702.8,40.4 L705.0,41.3 L707.2,42.3 L709.5,43.2 L711.8,44.1 L714.0,45.1 L716.2,46.1 L718.5,47.1 L720.8,48.1 L723.0,49.2 L725.2,50.2 L727.5,51.3 L729.8,52.3 L732.0,53.4 L734.2,54.5 L736.5,55.6 L738.8,56.8 L741.0,57.9 L743.2,59.1 L745.5,60.3 L747.8,61.5 L750.0,62.7 L752.2,63.9 L754.5,65.1 L756.8,66.3 L759.0,67.6 L761.2,68.9 L763.5,70.1 L765.8,71.4 L768.0,72.8 L770.2,74.1 L772.5,75.4 L774.8,76.7 L777.0,78.1 L779.2,79.5 L781.5,80.9 L783.8,82.2 L786.0,83.6 L788.2,85.1 L790.5,86.5 L792.8,87.9 L795.0,89.4 L797.2,90.8 L799.5,92.3 L801.8,93.8 L804.0,95.3 L806.2,96.8 L808.5,98.3 L810.8,99.8 L813.0,101.3 L815.2,102.9 L817.5,104.4 L819.8,106.0 L822.0,107.6 L824.2,109.1 L826.5,110.7 L828.8,112.3 L831.0,113.9 L833.2,115.5 L835.5,117.2 L837.8,118.8 L840.0,120.4 L842.2,122.1 L844.5,123.7 L846.8,125.4 L849.0,127.1 L851.2,128.7 L853.5,130.4 L855.8,132.1 L858.0,133.8 L860.2,135.5 L862.5,137.2 L864.8,138.9 L867.0,140.6 L869.2,142.4 L871.5,144.1 L873.8,145.8 L876.0,147.6 L878.2,149.3 L880.5,151.1 L882.8,152.8 L885.0,154.6 L887.2,156.3 L889.5,158.1 L891.8,159.9 L894.0,161.7 L896.2,163.4 L898.5,165.2 L900.8,167.0 L903.0,168.8 L905.2,170.6 L907.5,172.4 L909.8,174.2 L912.1,176.0 L914.4,177.8 L916.7,179.6 L919.0,181.4 L921.3,183.2 L923.6,185.0 L925.9,186.8 L928.2,188.6 L930.5,190.5 L932.8,192.3 L935.1,194.1 L937.4,195.9 L939.7,197.7 L942.0,199.5 L944.3,201.3 L946.6,203.2 L948.9,205.0 L951.2,206.8 L953.5,208.6 L955.8,210.4 L958.1,212.2 L960.4,214.0 L962.7,215.8 L965.0,217.6 L967.3,219.4 L969.6,221.2 L971.9,223.0 L974.2,224.8 L976.5,226.6 L978.8,228.4 L981.1,230.2 L983.4,232.0 L985.7,233.8 L988.0,235.6 L990.3,237.3 L992.6,239.1 L994.9,240.9 L997.2,242.6 L999.5,244.4 L1001.8,246.1 L1004.1,247.9 L1006.4,249.6 L1008.7,251.4 L1011.0,253.1 L1013.3,254.8 L1015.6,256.5 L1017.9,258.3 L1020.2,260.0 L1022.5,261.7 L1024.8,263.4 L1027.1,265.1 L1029.4,266.7 L1031.7,268.4 L1034.0,270.1 L1036.3,271.7 L1038.6,273.4 L1040.9,275.0 L1043.2,276.7 L1045.5,278.3 L1047.8,279.9 L1050.1,281.6 L1052.4,283.2 L1054.7,284.8 L1057.0,286.4 L1059.3,287.9 L1061.6,289.5 L1063.9,291.1 L1066.2,292.6 L1068.5,294.2 L1070.8,295.7 L1073.1,297.2 L1075.4,298.7 L1077.7,300.2 L1080.0,301.7 L1082.3,303.2 L1084.6,304.7 L1086.9,306.2 L1089.2,307.6 L1091.5,309.1 L1093.8,310.5 L1096.1,311.9 L1098.4,313.3 L1100.7,314.7 L1103.0,316.1 L1105.3,317.5 L1107.6,318.8 L1109.9,320.2 L1112.2,321.5 L1114.5,322.8 L1116.8,324.1 L1119.1,325.4 L1121.4,326.7 L1123.7,328.0 L1126.0,329.3 L1128.3,330.5 L1130.6,331.7 L1132.9,333.0 L1135.2,334.2 L1137.5,335.4 L1139.8,336.5 L1142.0,337.7 L1144.3,338.9 L1146.5,340.0 L1148.8,341.1 L1151.0,342.2 L1153.3,343.3 L1155.5,344.4 L1157.8,345.5 L1160.0,346.5 L1162.3,347.6 L1164.6,348.6 L1166.8,349.6 L1169.1,350.6 L1171.3,351.5 L1173.6,352.5 L1175.8,353.5 L1178.1,354.4 L1180.3,355.3 L1182.6,356.2 L1184.9,357.1 L1187.1,357.9 L1189.4,358.8 L1191.6,359.6 L1193.9,360.4 L1196.1,361.2 L1198.4,362.0 L1200.6,362.8 L1202.9,363.5 L1205.2,364.3 L1207.4,365.0 L1209.7,365.7 L1211.9,366.4 L1214.2,367.1 L1216.4,367.7 L1218.7,368.3 L1220.9,369.0 L1223.2,369.6 L1225.4,370.1 L1227.7,370.7 L1230.0,371.3 L1232.2,371.8 L1234.5,372.3 L1236.7,372.8 L1239.0,373.3 L1241.2,373.7 L1243.5,374.2 L1245.7,374.6 L1248.0,375.0 L1250.2,375.4 L1252.5,375.8 L1254.8,376.2 L1257.0,376.5 L1259.3,376.8 L1261.5,377.1 L1263.8,377.4 L1266.0,377.7 L1268.3,377.9 L1270.5,378.1 L1272.8,378.4 L1275.1,378.5 L1277.3,378.7 L1279.6,378.9 L1281.8,379.0 L1284.1,379.1 L1286.3,379.3 L1288.6,379.3 L1290.8,379.4 L1293.1,379.5 L1295.3,379.5 L1297.6,379.5 L1299.9,379.5 L1302.1,379.5 L1304.4,379.4 L1306.6,379.4 L1308.9,379.3 L1311.1,379.2 L1313.4,379.1 L1315.6,379.0 L1317.9,378.8 L1320.2,378.6 L1322.4,378.5 L1324.7,378.2 L1326.9,378.0 L1329.2,377.8 L1331.4,377.5 L1333.7,377.3 L1335.9,377.0 L1338.2,376.6 L1340.5,376.3 L1342.7,376.0 L1345.0,375.6 L1347.2,375.2 L1349.5,374.8 L1351.7,374.4 L1354.0,374.0 L1356.2,373.5 L1358.5,373.0 L1360.7,372.6 L1363.0,372.0 L1365.3,371.5 L1367.5,371.0 L1369.8,370.4 L1372.0,369.8 L1374.3,369.3 L1376.6,368.6 L1378.8,368.0 L1381.1,367.4 L1383.3,366.7 L1385.6,366.0 L1387.9,365.3 L1390.1,364.6 L1392.4,363.9 L1394.6,363.2 L1396.9,362.4 L1399.2,361.6 L1401.4,360.8 L1403.7,360.0 L1405.9,359.2 L1408.2,358.3 L1410.5,357.5 L1412.7,356.6 L1415.0,355.7 L1417.2,354.8 L1419.5,353.9 L1421.8,353.0 L1424.0,352.0 L1426.3,351.0 L1428.5,350.1 L1430.8,349.1 L1433.1,348.0 L1435.3,347.0 L1437.6,346.0 L1439.8,344.9 L1442.1,343.8 L1444.4,342.8 L1446.6,341.6 L1448.9,340.5 L1451.1,339.4 L1453.4,338.3 L1455.7,337.1 L1457.9,335.9 L1460.2,334.7 L1462.4,333.5 L1464.7,332.3 L1467.0,331.1 L1469.2,329.9 L1471.5,328.6 L1473.7,327.3 L1476.0,326.1 L1478.3,324.8 L1480.5,323.5 L1482.8,322.1 L1485.0,320.8 L1487.3,319.5 L1489.6,318.1 L1491.8,316.7 L1494.1,315.4 L1496.3,314.0 L1498.6,312.6 L1500.9,311.2 L1503.1,309.7 L1505.4,308.3 L1507.6,306.9 L1509.9,305.4 L1512.2,303.9 L1514.4,302.4 L1516.7,301.0 L1518.9,299.5 L1521.2,297.9 L1523.5,296.4 L1525.7,294.9 L1528.0,293.4 L1530.2,291.8 L1532.5,290.3 L1534.8,288.7 L1537.0,287.1 L1539.3,285.5 L1541.5,283.9 L1543.8,282.3 L1546.1,280.7 L1548.3,279.1 L1550.6,277.5 L1552.8,275.8 L1555.1,274.2 L1557.4,272.5 L1559.6,270.9 L1561.9,269.2 L1564.1,267.5 L1566.4,265.9 L1568.7,264.2 L1570.9,262.5 L1573.2,260.8 L1575.4,259.1 L1577.7,257.4 L1580.0,255.6 L1582.2,253.9 L1584.5,252.2 L1586.7,250.5 L1589.0,248.7 L1591.2,247.0 L1593.5,245.2 L1595.8,243.5 L1598.0,241.7 L1600.2,239.9 L1602.5,238.2 L1604.8,236.4 L1607.0,234.6 L1609.2,232.8 L1611.5,231.1 L1613.8,229.3 L1616.0,227.5 L1618.2,225.7 L1620.5,223.9 L1622.8,222.1 L1625.0,220.3 L1627.2,218.5 L1629.5,216.7 L1631.8,214.9 L1634.0,213.1 L1636.2,211.3 L1638.5,209.5 L1640.8,207.6 L1643.0,205.8 L1645.2,204.0 L1647.5,202.2 L1649.8,200.4 L1652.0,198.6 L1654.2,196.8 L1656.5,194.9 L1658.8,193.1 L1661.0,191.3 L1663.2,189.5 L1665.5,187.7 L1667.8,185.9 L1670.0,184.1 L1672.2,182.3 L1674.5,180.5 L1676.8,178.6 L1679.0,176.8 L1681.2,175.0 L1683.5,173.2 L1685.8,171.4 L1688.0,169.7 L1690.2,167.9 L1692.5,166.1 L1694.8,164.3 L1697.0,162.5 L1699.2,160.7 L1701.5,159.0 L1703.8,157.2 L1706.0,155.4 L1708.2,153.7 L1710.5,151.9 L1712.8,150.1 L1715.0,148.4 L1717.2,146.7 L1719.5,144.9 L1721.8,143.2 L1724.0,141.5 L1726.2,139.7 L1728.5,138.0 L1730.8,136.3 L1733.0,134.6 L1735.2,132.9 L1737.5,131.2 L1739.8,129.5 L1742.0,127.9 L1744.2,126.2 L1746.5,124.5 L1748.8,122.9 L1751.0,121.2 L1753.2,119.6 L1755.5,117.9 L1757.8,116.3 L1760.0,114.7 L1762.2,113.1 L1764.5,111.5 L1766.8,109.9 L1769.0,108.3 L1771.2,106.7 L1773.5,105.2 L1775.8,103.6 L1778.0,102.1 L1780.2,100.5 L1782.5,99.0 L1784.8,97.5 L1787.0,96.0 L1789.2,94.5 L1791.5,93.0 L1793.8,91.5 L1796.0,90.1 L1798.2,88.6 L1800.5,87.2 L1802.8,85.7 L1805.0,84.3 L1807.2,82.9 L1809.5,81.5 L1811.8,80.1 L1814.0,78.8 L1816.3,77.4 L1818.6,76.0 L1820.8,74.7 L1823.1,73.4 L1825.4,72.1 L1827.7,70.8 L1830.0,69.5 L1832.3,68.2 L1834.5,66.9 L1836.8,65.7 L1839.1,64.5 L1841.4,63.2 L1843.7,62.0 L1845.9,60.8 L1848.2,59.6 L1850.5,58.5 L1852.8,57.3 L1855.1,56.2 L1857.4,55.1 L1859.6,53.9 L1861.9,52.9 L1864.2,51.8 L1866.5,50.7 L1868.8,49.6 L1871.0,48.6 L1873.3,47.6 L1875.6,46.6 L1877.9,45.6 L1880.2,44.6 L1882.5,43.6 L1884.7,42.7 L1887.0,41.8 L1889.3,40.9 L1891.6,40.0 L1893.9,39.1 L1896.2,38.2 L1898.4,37.3 L1900.7,36.5 L1903.0,35.7 L1905.3,34.9 L1907.6,34.1 L1909.8,33.3 L1912.1,32.6 L1914.4,31.8 L1916.7,31.1 L1919.0,30.4 L1921.3,29.7 L1923.5,29.0 L1925.8,28.4 L1928.1,27.8 L1930.4,27.1 L1932.7,26.5 L1934.9,25.9 L1937.2,25.4 L1939.5,24.8 L1941.8,24.3 L1944.1,23.8 L1946.4,23.3 L1948.6,22.8 L1950.9,22.3 L1953.2,21.9 L1955.5,21.4 L1957.8,21.0 L1960.0,20.6 L1962.3,20.3 L1964.6,19.9 L1966.9,19.6 L1969.2,19.2 L1971.5,18.9 L1973.7,18.6 L1976.0,18.4 L1978.3,18.1 L1980.6,17.9 L1982.9,17.7 L1985.2,17.5 L1987.4,17.3 L1989.7,17.1 L1992.0,17.0 L1994.3,16.9 L1996.6,16.8 L1998.8,16.7 L2001.1,16.6 L2003.4,16.6 L2005.7,16.5 L2008.0,16.5 L2010.3,16.5 L2012.5,16.5 L2014.8,16.6 L2017.1,16.6 L2019.4,16.7 L2021.7,16.8 L2023.9,16.9 L2026.2,17.0 L2028.5,17.2 L2030.8,17.3 L2033.1,17.5 L2035.4,17.7 L2037.6,17.9 L2039.9,18.2 L2042.2,18.4" stroke="#00ff00" stroke-dasharray="35.5 27.75" stroke-dashoffset="-3.5"/>
</g>
<text transform="translate(220.21,450.00) scale(1.0,1)" font-size="55.0">0</text>
<text transform="translate(429.18,450.00) scale(1.0,1)" font-size="55.0">50</text>
<text transform="translate(642.10,450.00) scale(1.0,1)" font-size="55.0">100</text>
<text transform="translate(866.10,450.00) scale(1.0,1)" font-size="55.0">150</text>
<text transform="translate(1094.81,450.00) scale(1.0,1)" font-size="55.0">200</text>
<text transform="translate(1320.81,450.00) scale(1.0,1)" font-size="55.0">250</text>
<text transform="translate(1547.14,450.00) scale(1.0,1)" font-size="55.0">300</text>
<text transform="translate(1772.14,450.00) scale(1.0,1)" font-size="55.0">350</text>
<text transform="translate(1998.56,450.00) scale(1.0,1)" font-size="55.0">400</text>
<text transform="translate(157.97,71.00) scale(1.0,1)" font-size="55.0">50</text>
<text transform="translate(188.56,218.00) scale(1.0,1)" font-size="55.0">0</text>
<text transform="translate(139.35,373.30) scale(1.0,1)" font-size="55.0">−50</text>
<rect x="233.50" y="534.50" width="1808.70" height="365.80" fill="none" stroke="#000" stroke-width="4" shape-rendering="crispEdges"/>
<line x1="457.70" y1="900.30" x2="457.70" y2="878.80" stroke="#000" stroke-width="4" shape-rendering="crispEdges"/>
<line x1="457.70" y1="534.50" x2="457.70" y2="551.00" stroke="#000" stroke-width="4" shape-rendering="crispEdges"/>
<line x1="682.50" y1="900.30" x2="682.50" y2="878.80" stroke="#000" stroke-width="4" shape-rendering="crispEdges"/>
<line x1="682.50" y1="534.50" x2="682.50" y2="551.00" stroke="#000" stroke-width="4" shape-rendering="crispEdges"/>
<line x1="907.50" y1="900.30" x2="907.50" y2="878.80" stroke="#000" stroke-width="4" shape-rendering="crispEdges"/>
<line x1="907.50" y1="534.50" x2="907.50" y2="551.00" stroke="#000" stroke-width="4" shape-rendering="crispEdges"/>
<line x1="1137.50" y1="900.30" x2="1137.50" y2="878.80" stroke="#000" stroke-width="4" shape-rendering="crispEdges"/>
<line x1="1137.50" y1="534.50" x2="1137.50" y2="551.00" stroke="#000" stroke-width="4" shape-rendering="crispEdges"/>
<line x1="1363.00" y1="900.30" x2="1363.00" y2="878.80" stroke="#000" stroke-width="4" shape-rendering="crispEdges"/>
<line x1="1363.00" y1="534.50" x2="1363.00" y2="551.00" stroke="#000" stroke-width="4" shape-rendering="crispEdges"/>
<line x1="1589.00" y1="900.30" x2="1589.00" y2="878.80" stroke="#000" stroke-width="4" shape-rendering="crispEdges"/>
<line x1="1589.00" y1="534.50" x2="1589.00" y2="551.00" stroke="#000" stroke-width="4" shape-rendering="crispEdges"/>
<line x1="1814.00" y1="900.30" x2="1814.00" y2="878.80" stroke="#000" stroke-width="4" shape-rendering="crispEdges"/>
<line x1="1814.00" y1="534.50" x2="1814.00" y2="551.00" stroke="#000" stroke-width="4" shape-rendering="crispEdges"/>
<line x1="233.50" y1="837.90" x2="250.00" y2="837.90" stroke="#000" stroke-width="4" shape-rendering="crispEdges"/>
<line x1="2042.20" y1="837.90" x2="2020.90" y2="837.90" stroke="#000" stroke-width="4" shape-rendering="crispEdges"/>
<line x1="233.50" y1="775.80" x2="250.00" y2="775.80" stroke="#000" stroke-width="4" shape-rendering="crispEdges"/>
<line x1="2042.20" y1="775.80" x2="2020.90" y2="775.80" stroke="#000" stroke-width="4" shape-rendering="crispEdges"/>
<line x1="233.50" y1="716.90" x2="250.00" y2="716.90" stroke="#000" stroke-width="4" shape-rendering="crispEdges"/>
<line x1="2042.20" y1="716.90" x2="2020.90" y2="716.90" stroke="#000" stroke-width="4" shape-rendering="crispEdges"/>
<line x1="233.50" y1="654.80" x2="250.00" y2="654.80" stroke="#000" stroke-width="4" shape-rendering="crispEdges"/>
<line x1="2042.20" y1="654.80" x2="2020.90" y2="654.80" stroke="#000" stroke-width="4" shape-rendering="crispEdges"/>
<line x1="233.50" y1="591.60" x2="250.00" y2="591.60" stroke="#000" stroke-width="4" shape-rendering="crispEdges"/>
<line x1="2042.20" y1="591.60" x2="2020.90" y2="591.60" stroke="#000" stroke-width="4" shape-rendering="crispEdges"/>
<clipPath id="c2"><rect x="231.50" y="533.00" width="1812.70" height="369.80"/></clipPath>
<g clip-path="url(#c2)" fill="none" stroke-width="14" stroke-linejoin="round" shape-rendering="crispEdges">
<path d="M233.3,897.7 L235.5,897.7 L237.8,897.7 L240.0,897.6 L242.3,897.6 L244.5,897.5 L246.8,897.4 L249.0,897.3 L251.3,897.1 L253.5,897.0 L255.7,896.8 L258.0,896.6 L260.2,896.4 L262.5,896.2 L264.7,895.9 L267.0,895.7 L269.2,895.4 L271.4,895.1 L273.7,894.8 L275.9,894.4 L278.2,894.1 L280.4,893.7 L282.7,893.3 L284.9,892.9 L287.2,892.5 L289.4,892.0 L291.6,891.6 L293.9,891.1 L296.1,890.6 L298.4,890.1 L300.6,889.6 L302.9,889.0 L305.1,888.5 L307.4,887.9 L309.6,887.3 L311.8,886.7 L314.1,886.0 L316.3,885.4 L318.6,884.7 L320.8,884.0 L323.1,883.3 L325.3,882.6 L327.5,881.9 L329.8,881.1 L332.0,880.4 L334.3,879.6 L336.5,878.8 L338.8,878.0 L341.0,877.1 L343.3,876.3 L345.5,875.4 L347.7,874.5 L350.0,873.6 L352.2,872.7 L354.5,871.8 L356.7,870.8 L359.0,869.9 L361.2,868.9 L363.5,867.9 L365.7,866.9 L367.9,865.9 L370.2,864.9 L372.4,863.8 L374.7,862.7 L376.9,861.7 L379.2,860.6 L381.4,859.5 L383.6,858.3 L385.9,857.2 L388.1,856.0 L390.4,854.9 L392.6,853.7 L394.9,852.5 L397.1,851.3 L399.4,850.1 L401.6,848.8 L403.8,847.6 L406.1,846.3 L408.3,845.1 L410.6,843.8 L412.8,842.5 L415.1,841.2 L417.3,839.8 L419.6,838.5 L421.8,837.1 L424.0,835.8 L426.3,834.4 L428.5,833.0 L430.8,831.6 L433.0,830.2 L435.3,828.8 L437.5,827.4 L439.7,825.9 L442.0,824.5 L444.2,823.0 L446.5,821.5 L448.7,820.0 L451.0,818.5 L453.2,817.0 L455.5,815.5 L457.7,814.0 L459.9,812.5 L462.2,810.9 L464.4,809.3 L466.7,807.8 L468.9,806.2 L471.2,804.6 L473.4,803.0 L475.7,801.4 L477.9,799.8 L480.2,798.2 L482.4,796.6 L484.7,794.9 L486.9,793.3 L489.2,791.6 L491.4,790.0 L493.7,788.3 L495.9,786.6 L498.2,785.0 L500.4,783.3 L502.7,781.6 L504.9,779.9 L507.2,778.2 L509.4,776.5 L511.7,774.7 L513.9,773.0 L516.1,771.3 L518.4,769.6 L520.6,767.8 L522.9,766.1 L525.1,764.3 L527.4,762.6 L529.6,760.8 L531.9,759.0 L534.1,757.3 L536.4,755.5 L538.6,753.7 L540.9,751.9 L543.1,750.1 L545.4,748.3 L547.6,746.6 L549.9,744.8 L552.1,743.0 L554.4,741.2 L556.6,739.4 L558.9,737.5 L561.1,735.7 L563.4,733.9 L565.6,732.1 L567.9,730.3 L570.1,728.5 L572.3,726.7 L574.6,724.8 L576.8,723.0 L579.1,721.2 L581.3,719.4 L583.6,717.6 L585.8,715.7 L588.1,713.9 L590.3,712.1 L592.6,710.3 L594.8,708.5 L597.1,706.6 L599.3,704.8 L601.6,703.0 L603.8,701.2 L606.1,699.4 L608.3,697.6 L610.6,695.8 L612.8,693.9 L615.1,692.1 L617.3,690.3 L619.6,688.5 L621.8,686.7 L624.1,684.9 L626.3,683.1 L628.5,681.4 L630.8,679.6 L633.0,677.8 L635.3,676.0 L637.5,674.2 L639.8,672.5 L642.0,670.7 L644.3,668.9 L646.5,667.2 L648.8,665.4 L651.0,663.7 L653.3,661.9 L655.5,660.2 L657.8,658.5 L660.0,656.7 L662.3,655.0 L664.5,653.3 L666.8,651.6 L669.0,649.9 L671.3,648.2 L673.5,646.5 L675.8,644.8 L678.0,643.1 L680.3,641.5 L682.5,639.8 L684.8,638.2 L687.0,636.5 L689.2,634.9 L691.5,633.3 L693.8,631.6 L696.0,630.0 L698.2,628.4 L700.5,626.8 L702.8,625.2 L705.0,623.7 L707.2,622.1 L709.5,620.5 L711.8,619.0 L714.0,617.5 L716.2,615.9 L718.5,614.4 L720.8,612.9 L723.0,611.4 L725.2,609.9 L727.5,608.4 L729.8,607.0 L732.0,605.5 L734.2,604.1 L736.5,602.6 L738.8,601.2 L741.0,599.8 L743.2,598.4 L745.5,597.0 L747.8,595.6 L750.0,594.3 L752.2,592.9 L754.5,591.6 L756.8,590.3 L759.0,588.9 L761.2,587.6 L763.5,586.3 L765.8,585.1 L768.0,583.8 L770.2,582.6 L772.5,581.3 L774.8,580.1 L777.0,578.9 L779.2,577.7 L781.5,576.5 L783.8,575.3 L786.0,574.2 L788.2,573.0 L790.5,571.9 L792.8,570.8 L795.0,569.7 L797.2,568.6 L799.5,567.6 L801.8,566.5 L804.0,565.5 L806.2,564.4 L808.5,563.4 L810.8,562.4 L813.0,561.5 L815.2,560.5 L817.5,559.6 L819.8,558.6 L822.0,557.7 L824.2,556.8 L826.5,555.9 L828.8,555.1 L831.0,554.2 L833.2,553.4 L835.5,552.6 L837.8,551.8 L840.0,551.0 L842.2,550.2 L844.5,549.4 L846.8,548.7 L849.0,548.0 L851.2,547.3 L853.5,546.6 L855.8,545.9 L858.0,545.3 L860.2,544.6 L862.5,544.0 L864.8,543.4 L867.0,542.8 L869.2,542.3 L871.5,541.7 L873.8,541.2 L876.0,540.7 L878.2,540.2 L880.5,539.7 L882.8,539.2 L885.0,538.8 L887.2,538.4 L889.5,538.0 L891.8,537.6 L894.0,537.2 L896.2,536.8 L898.5,536.5 L900.8,536.2 L903.0,535.9 L905.2,535.6 L907.5,535.3 L909.8,535.1 L912.1,534.8 L914.4,534.6 L916.7,534.4 L919.0,534.3 L921.3,534.1 L923.6,534.0 L925.9,533.8 L928.2,533.7 L930.5,533.7 L932.8,533.6 L935.1,533.5 L937.4,533.5 L939.7,533.5 L942.0,533.5 L944.3,533.5 L946.6,533.6 L948.9,533.6 L951.2,533.7 L953.5,533.8 L955.8,533.9 L958.1,534.1 L960.4,534.2 L962.7,534.4 L965.0,534.6 L967.3,534.8 L969.6,535.0 L971.9,535.2 L974.2,535.5 L976.5,535.8 L978.8,536.1 L981.1,536.4 L983.4,536.7 L985.7,537.1 L988.0,537.4 L990.3,537.8 L992.6,538.2 L994.9,538.7 L997.2,539.1 L999.5,539.5 L1001.8,540.0 L1004.1,540.5 L1006.4,541.0 L1008.7,541.5 L1011.0,542.1 L1013.3,542.7 L1015.6,543.2 L1017.9,543.8 L1020.2,544.4 L1022.5,545.1 L1024.8,545.7 L1027.1,546.4 L1029.4,547.1 L1031.7,547.8 L1034.0,548.5 L1036.3,549.2 L1038.6,550.0 L1040.9,550.7 L1043.2,551.5 L1045.5,552.3 L1047.8,553.1 L1050.1,553.9 L1052.4,554.8 L1054.7,555.7 L1057.0,556.5 L1059.3,557.4 L1061.6,558.3 L1063.9,559.3 L1066.2,560.2 L1068.5,561.2 L1070.8,562.1 L1073.1,563.1 L1075.4,564.1 L1077.7,565.1 L1080.0,566.2 L1082.3,567.2 L1084.6,568.3 L1086.9,569.4 L1089.2,570.5 L1091.5,571.6 L1093.8,572.7 L1096.1,573.8 L1098.4,575.0 L1100.7,576.1 L1103.0,577.3 L1105.3,578.5 L1107.6,579.7 L1109.9,580.9 L1112.2,582.2 L1114.5,583.4 L1116.8,584.7 L1119.1,585.9 L1121.4,587.2 L1123.7,588.5 L1126.0,589.8 L1128.3,591.2 L1130.6,592.5 L1132.9,593.8 L1135.2,595.2 L1137.5,596.6 L1139.8,598.0 L1142.0,599.4 L1144.3,600.8 L1146.5,602.2 L1148.8,603.6 L1151.0,605.0 L1153.3,606.5 L1155.5,608.0 L1157.8,609.4 L1160.0,610.9 L1162.3,612.4 L1164.6,613.9 L1166.8,615.4 L1169.1,617.0 L1171.3,618.5 L1173.6,620.0 L1175.8,621.6 L1178.1,623.2 L1180.3,624.7 L1182.6,626.3 L1184.9,627.9 L1187.1,629.5 L1189.4,631.1 L1191.6,632.7 L1193.9,634.4 L1196.1,636.0 L1198.4,637.6 L1200.6,639.3 L1202.9,640.9 L1205.2,642.6 L1207.4,644.3 L1209.7,646.0 L1211.9,647.7 L1214.2,649.3 L1216.4,651.0 L1218.7,652.7 L1220.9,654.5 L1223.2,656.2 L1225.4,657.9 L1227.7,659.6 L1230.0,661.4 L1232.2,663.1 L1234.5,664.9 L1236.7,666.6 L1239.0,668.4 L1241.2,670.1 L1243.5,671.9 L1245.7,673.7 L1248.0,675.4 L1250.2,677.2 L1252.5,679.0 L1254.8,680.8 L1257.0,682.6 L1259.3,684.4 L1261.5,686.2 L1263.8,688.0 L1266.0,689.8 L1268.3,691.6 L1270.5,693.4 L1272.8,695.2 L1275.1,697.0 L1277.3,698.8 L1279.6,700.6 L1281.8,702.4 L1284.1,704.2 L1286.3,706.1 L1288.6,707.9 L1290.8,709.7 L1293.1,711.5 L1295.3,713.3 L1297.6,715.2 L1299.9,717.0 L1302.1,718.8 L1304.4,720.6 L1306.6,722.4 L1308.9,724.3 L1311.1,726.1 L1313.4,727.9 L1315.6,729.7 L1317.9,731.5 L1320.2,733.3 L1322.4,735.2 L1324.7,737.0 L1326.9,738.8 L1329.2,740.6 L1331.4,742.4 L1333.7,744.2 L1335.9,746.0 L1338.2,747.8 L1340.5,749.6 L1342.7,751.4 L1345.0,753.1 L1347.2,754.9 L1349.5,756.7 L1351.7,758.5 L1354.0,760.2 L1356.2,762.0 L1358.5,763.8 L1360.7,765.5 L1363.0,767.3 L1365.3,769.0 L1367.5,770.7 L1369.8,772.5 L1372.0,774.2 L1374.3,775.9 L1376.6,777.6 L1378.8,779.3 L1381.1,781.0 L1383.3,782.7 L1385.6,784.4 L1387.9,786.1 L1390.1,787.8 L1392.4,789.5 L1394.6,791.1 L1396.9,792.8 L1399.2,794.4 L1401.4,796.1 L1403.7,797.7 L1405.9,799.3 L1408.2,800.9 L1410.5,802.5 L1412.7,804.1 L1415.0,805.7 L1417.2,807.3 L1419.5,808.9 L1421.8,810.4 L1424.0,812.0 L1426.3,813.5 L1428.5,815.0 L1430.8,816.6 L1433.1,818.1 L1435.3,819.6 L1437.6,821.1 L1439.8,822.5 L1442.1,824.0 L1444.4,825.5 L1446.6,826.9 L1448.9,828.3 L1451.1,829.8 L1453.4,831.2 L1455.7,832.6 L1457.9,834.0 L1460.2,835.3 L1462.4,836.7 L1464.7,838.1 L1467.0,839.4 L1469.2,840.7 L1471.5,842.1 L1473.7,843.4 L1476.0,844.6 L1478.3,845.9 L1480.5,847.2 L1482.8,848.4 L1485.0,849.7 L1487.3,850.9 L1489.6,852.1 L1491.8,853.3 L1494.1,854.5 L1496.3,855.7 L1498.6,856.8 L1500.9,858.0 L1503.1,859.1 L1505.4,860.2 L1507.6,861.3 L1509.9,862.4 L1512.2,863.5 L1514.4,864.5 L1516.7,865.6 L1518.9,866.6 L1521.2,867.6 L1523.5,868.6 L1525.7,869.6 L1528.0,870.5 L1530.2,871.5 L1532.5,872.4 L1534.8,873.3 L1537.0,874.2 L1539.3,875.1 L1541.5,876.0 L1543.8,876.9 L1546.1,877.7 L1548.3,878.5 L1550.6,879.3 L1552.8,880.1 L1555.1,880.9 L1557.4,881.6 L1559.6,882.4 L1561.9,883.1 L1564.1,883.8 L1566.4,884.5 L1568.7,885.2 L1570.9,885.8 L1573.2,886.5 L1575.4,887.1 L1577.7,887.7 L1580.0,888.3 L1582.2,888.8 L1584.5,889.4 L1586.7,889.9 L1589.0,890.4 L1591.2,890.9 L1593.5,891.4 L1595.8,891.9 L1598.0,892.3 L1600.2,892.8 L1602.5,893.2 L1604.8,893.6 L1607.0,894.0 L1609.2,894.3 L1611.5,894.7 L1613.8,895.0 L1616.0,895.3 L1618.2,895.6 L1620.5,895.8 L1622.8,896.1 L1625.0,896.3 L1627.2,896.5 L1629.5,896.7 L1631.8,896.9 L1634.0,897.1 L1636.2,897.2 L1638.5,897.3 L1640.8,897.4 L1643.0,897.5 L1645.2,897.6 L1647.5,897.7 L1649.8,897.7 L1652.0,897.7 L1654.2,897.7 L1656.5,897.7 L1658.8,897.6 L1661.0,897.6 L1663.2,897.5 L1665.5,897.4 L1667.8,897.3 L1670.0,897.2 L1672.2,897.0 L1674.5,896.8 L1676.8,896.7 L1679.0,896.5 L1681.2,896.2 L1683.5,896.0 L1685.8,895.7 L1688.0,895.5 L1690.2,895.2 L1692.5,894.9 L1694.8,894.5 L1697.0,894.2 L1699.2,893.8 L1701.5,893.4 L1703.8,893.0 L1706.0,892.6 L1708.2,892.2 L1710.5,891.7 L1712.8,891.3 L1715.0,890.8 L1717.2,890.3 L1719.5,889.7 L1721.8,889.2 L1724.0,888.6 L1726.2,888.1 L1728.5,887.5 L1730.8,886.9 L1733.0,886.2 L1735.2,885.6 L1737.5,884.9 L1739.8,884.2 L1742.0,883.6 L1744.2,882.8 L1746.5,882.1 L1748.8,881.4 L1751.0,880.6 L1753.2,879.8 L1755.5,879.0 L1757.8,878.2 L1760.0,877.4 L1762.2,876.5 L1764.5,875.7 L1766.8,874.8 L1769.0,873.9 L1771.2,873.0 L1773.5,872.1 L1775.8,871.1 L1778.0,870.2 L1780.2,869.2 L1782.5,868.2 L1784.8,867.2 L1787.0,866.2 L1789.2,865.2 L1791.5,864.1 L1793.8,863.1 L1796.0,862.0 L1798.2,860.9 L1800.5,859.8 L1802.8,858.7 L1805.0,857.6 L1807.2,856.4 L1809.5,855.3 L1811.8,854.1 L1814.0,852.9 L1816.3,851.7 L1818.6,850.5 L1820.8,849.2 L1823.1,848.0 L1825.4,846.7 L1827.7,845.5 L1830.0,844.2 L1832.3,842.9 L1834.5,841.6 L1836.8,840.3 L1839.1,838.9 L1841.4,837.6 L1843.7,836.2 L1845.9,834.8 L1848.2,833.5 L1850.5,832.1 L1852.8,830.7 L1855.1,829.2 L1857.4,827.8 L1859.6,826.4 L1861.9,824.9 L1864.2,823.5 L1866.5,822.0 L1868.8,820.5 L1871.0,819.0 L1873.3,817.5 L1875.6,816.0 L1877.9,814.5 L1880.2,812.9 L1882.5,811.4 L1884.7,809.8 L1887.0,808.3 L1889.3,806.7 L1891.6,805.1 L1893.9,803.5 L1896.2,801.9 L1898.4,800.3 L1900.7,798.7 L1903.0,797.1 L1905.3,795.5 L1907.6,793.8 L1909.8,792.2 L1912.1,790.5 L1914.4,788.9 L1916.7,787.2 L1919.0,785.5 L1921.3,783.8 L1923.5,782.1 L1925.8,780.4 L1928.1,778.7 L1930.4,777.0 L1932.7,775.3 L1934.9,773.6 L1937.2,771.8 L1939.5,770.1 L1941.8,768.4 L1944.1,766.6 L1946.4,764.9 L1948.6,763.1 L1950.9,761.4 L1953.2,759.6 L1955.5,757.8 L1957.8,756.0 L1960.0,754.3 L1962.3,752.5 L1964.6,750.7 L1966.9,748.9 L1969.2,747.1 L1971.5,745.3 L1973.7,743.5 L1976.0,741.7 L1978.3,739.9 L1980.6,738.1 L1982.9,736.3 L1985.2,734.5 L1987.4,732.7 L1989.7,730.9 L1992.0,729.1 L1994.3,727.2 L1996.6,725.4 L1998.8,723.6 L2001.1,721.8 L2003.4,720.0 L2005.7,718.1 L2008.0,716.3 L2010.3,714.5 L2012.5,712.7 L2014.8,710.9 L2017.1,709.0 L2019.4,707.2 L2021.7,705.4 L2023.9,703.6 L2026.2,701.8 L2028.5,700.0 L2030.8,698.1 L2033.1,696.3 L2035.4,694.5 L2037.6,692.7 L2039.9,690.9 L2042.2,689.1" stroke="#0000ff"/>
<path d="M233.3,894.1 L235.5,894.2 L237.8,894.4 L240.0,894.5 L242.3,894.6 L244.5,894.6 L246.8,894.7 L249.0,894.7 L251.3,894.7 L253.5,894.6 L255.7,894.6 L258.0,894.5 L260.2,894.4 L262.5,894.3 L264.7,894.1 L267.0,893.9 L269.2,893.7 L271.4,893.5 L273.7,893.3 L275.9,893.0 L278.2,892.7 L280.4,892.4 L282.7,892.1 L284.9,891.8 L287.2,891.4 L289.4,891.0 L291.6,890.6 L293.9,890.2 L296.1,889.7 L298.4,889.2 L300.6,888.8 L302.9,888.2 L305.1,887.7 L307.4,887.2 L309.6,886.6 L311.8,886.0 L314.1,885.4 L316.3,884.8 L318.6,884.2 L320.8,883.5 L323.1,882.8 L325.3,882.1 L327.5,881.4 L329.8,880.7 L332.0,880.0 L334.3,879.2 L336.5,878.4 L338.8,877.6 L341.0,876.8 L343.3,876.0 L345.5,875.1 L347.7,874.2 L350.0,873.4 L352.2,872.5 L354.5,871.5 L356.7,870.6 L359.0,869.7 L361.2,868.7 L363.5,867.7 L365.7,866.7 L367.9,865.7 L370.2,864.7 L372.4,863.6 L374.7,862.6 L376.9,861.5 L379.2,860.4 L381.4,859.3 L383.6,858.2 L385.9,857.1 L388.1,855.9 L390.4,854.8 L392.6,853.6 L394.9,852.4 L397.1,851.2 L399.4,850.0 L401.6,848.8 L403.8,847.5 L406.1,846.3 L408.3,845.0 L410.6,843.7 L412.8,842.4 L415.1,841.1 L417.3,839.8 L419.6,838.4 L421.8,837.1 L424.0,835.7 L426.3,834.4 L428.5,833.0 L430.8,831.6 L433.0,830.2 L435.3,828.8 L437.5,827.3 L439.7,825.9 L442.0,824.4 L444.2,823.0 L446.5,821.5 L448.7,820.0 L451.0,818.5 L453.2,817.0 L455.5,815.5 L457.7,814.0 L459.9,812.4 L462.2,810.9 L464.4,809.3 L466.7,807.8 L468.9,806.2 L471.2,804.6 L473.4,803.0 L475.7,801.4 L477.9,799.8 L480.2,798.2 L482.4,796.6 L484.7,794.9 L486.9,793.3 L489.2,791.6 L491.4,790.0 L493.7,788.3 L495.9,786.6 L498.2,785.0 L500.4,783.3 L502.7,781.6 L504.9,779.9 L507.2,778.2 L509.4,776.5 L511.7,774.7 L513.9,773.0 L516.1,771.3 L518.4,769.5 L520.6,767.8 L522.9,766.1 L525.1,764.3 L527.4,762.5 L529.6,760.8 L531.9,759.0 L534.1,757.3 L536.4,755.5 L538.6,753.7 L540.9,751.9 L543.1,750.1 L545.4,748.3 L547.6,746.5 L549.9,744.8 L552.1,743.0 L554.4,741.2 L556.6,739.3 L558.9,737.5 L561.1,735.7 L563.4,733.9 L565.6,732.1 L567.9,730.3 L570.1,728.5 L572.3,726.7 L574.6,724.8 L576.8,723.0 L579.1,721.2 L581.3,719.4 L583.6,717.6 L585.8,715.7 L588.1,713.9 L590.3,712.1 L592.6,710.3 L594.8,708.5 L597.1,706.6 L599.3,704.8 L601.6,703.0 L603.8,701.2 L606.1,699.4 L608.3,697.6 L610.6,695.8 L612.8,693.9 L615.1,692.1 L617.3,690.3 L619.6,688.5 L621.8,686.7 L624.1,684.9 L626.3,683.1 L628.5,681.4 L630.8,679.6 L633.0,677.8 L635.3,676.0 L637.5,674.2 L639.8,672.5 L642.0,670.7 L644.3,668.9 L646.5,667.2 L648.8,665.4 L651.0,663.7 L653.3,661.9 L655.5,660.2 L657.8,658.5 L660.0,656.7 L662.3,655.0 L664.5,653.3 L666.8,651.6 L669.0,649.9 L671.3,648.2 L673.5,646.5 L675.8,644.8 L678.0,643.1 L680.3,641.5 L682.5,639.8 L684.8,638.2 L687.0,636.5 L689.2,634.9 L691.5,633.3 L693.8,631.6 L696.0,630.0 L698.2,628.4 L700.5,626.8 L702.8,625.2 L705.0,623.7 L707.2,622.1 L709.5,620.5 L711.8,619.0 L714.0,617.5 L716.2,615.9 L718.5,614.4 L720.8,612.9 L723.0,611.4 L725.2,609.9 L727.5,608.4 L729.8,607.0 L732.0,605.5 L734.2,604.1 L736.5,602.6 L738.8,601.2 L741.0,599.8 L743.2,598.4 L745.5,597.0 L747.8,595.6 L750.0,594.3 L752.2,592.9 L754.5,591.6 L756.8,590.3 L759.0,588.9 L761.2,587.6 L763.5,586.3 L765.8,585.1 L768.0,583.8 L770.2,582.6 L772.5,581.3 L774.8,580.1 L777.0,578.9 L779.2,577.7 L781.5,576.5 L783.8,575.3 L786.0,574.2 L788.2,573.0 L790.5,571.9 L792.8,570.8 L795.0,569.7 L797.2,568.6 L799.5,567.6 L801.8,566.5 L804.0,565.5 L806.2,564.4 L808.5,563.4 L810.8,562.4 L813.0,561.5 L815.2,560.5 L817.5,559.6 L819.8,558.6 L822.0,557.7 L824.2,556.8 L826.5,555.9 L828.8,555.1 L831.0,554.2 L833.2,553.4 L835.5,552.6 L837.8,551.8 L840.0,551.0 L842.2,550.2 L844.5,549.4 L846.8,548.7 L849.0,548.0 L851.2,547.3 L853.5,546.6 L855.8,545.9 L858.0,545.3 L860.2,544.6 L862.5,544.0 L864.8,543.4 L867.0,542.8 L869.2,542.3 L871.5,541.7 L873.8,541.2 L876.0,540.7 L878.2,540.2 L880.5,539.7 L882.8,539.2 L885.0,538.8 L887.2,538.4 L889.5,538.0 L891.8,537.6 L894.0,537.2 L896.2,536.8 L898.5,536.5 L900.8,536.2 L903.0,535.9 L905.2,535.6 L907.5,535.3 L909.8,535.1 L912.1,534.8 L914.4,534.6 L916.7,534.4 L919.0,534.3 L921.3,534.1 L923.6,534.0 L925.9,533.8 L928.2,533.7 L930.5,533.7 L932.8,533.6 L935.1,533.5 L937.4,533.5 L939.7,533.5 L942.0,533.5 L944.3,533.5 L946.6,533.6 L948.9,533.6 L951.2,533.7 L953.5,533.8 L955.8,533.9 L958.1,534.1 L960.4,534.2 L962.7,534.4 L965.0,534.6 L967.3,534.8 L969.6,535.0 L971.9,535.2 L974.2,535.5 L976.5,535.8 L978.8,536.1 L981.1,536.4 L983.4,536.7 L985.7,537.1 L988.0,537.4 L990.3,537.8 L992.6,538.2 L994.9,538.7 L997.2,539.1 L999.5,539.5 L1001.8,540.0 L1004.1,540.5 L1006.4,541.0 L1008.7,541.5 L1011.0,542.1 L1013.3,542.7 L1015.6,543.2 L1017.9,543.8 L1020.2,544.4 L1022.5,545.1 L1024.8,545.7 L1027.1,546.4 L1029.4,547.1 L1031.7,547.8 L1034.0,548.5 L1036.3,549.2 L1038.6,550.0 L1040.9,550.7 L1043.2,551.5 L1045.5,552.3 L1047.8,553.1 L1050.1,553.9 L1052.4,554.8 L1054.7,555.7 L1057.0,556.5 L1059.3,557.4 L1061.6,558.3 L1063.9,559.3 L1066.2,560.2 L1068.5,561.2 L1070.8,562.1 L1073.1,563.1 L1075.4,564.1 L1077.7,565.1 L1080.0,566.2 L1082.3,567.2 L1084.6,568.3 L1086.9,569.4 L1089.2,570.5 L1091.5,571.6 L1093.8,572.7 L1096.1,573.8 L1098.4,575.0 L1100.7,576.1 L1103.0,577.3 L1105.3,578.5 L1107.6,579.7 L1109.9,580.9 L1112.2,582.2 L1114.5,583.4 L1116.8,584.7 L1119.1,585.9 L1121.4,587.2 L1123.7,588.5 L1126.0,589.8 L1128.3,591.2 L1130.6,592.5 L1132.9,593.8 L1135.2,595.2 L1137.5,596.6 L1139.8,598.0 L1142.0,599.4 L1144.3,600.8 L1146.5,602.2 L1148.8,603.6 L1151.0,605.0 L1153.3,606.5 L1155.5,608.0 L1157.8,609.4 L1160.0,610.9 L1162.3,612.4 L1164.6,613.9 L1166.8,615.4 L1169.1,617.0 L1171.3,618.5 L1173.6,620.0 L1175.8,621.6 L1178.1,623.2 L1180.3,624.7 L1182.6,626.3 L1184.9,627.9 L1187.1,629.5 L1189.4,631.1 L1191.6,632.7 L1193.9,634.4 L1196.1,636.0 L1198.4,637.6 L1200.6,639.3 L1202.9,640.9 L1205.2,642.6 L1207.4,644.3 L1209.7,646.0 L1211.9,647.7 L1214.2,649.3 L1216.4,651.0 L1218.7,652.7 L1220.9,654.5 L1223.2,656.2 L1225.4,657.9 L1227.7,659.6 L1230.0,661.4 L1232.2,663.1 L1234.5,664.9 L1236.7,666.6 L1239.0,668.4 L1241.2,670.1 L1243.5,671.9 L1245.7,673.7 L1248.0,675.4 L1250.2,677.2 L1252.5,679.0 L1254.8,680.8 L1257.0,682.6 L1259.3,684.4 L1261.5,686.2 L1263.8,688.0 L1266.0,689.8 L1268.3,691.6 L1270.5,693.4 L1272.8,695.2 L1275.1,697.0 L1277.3,698.8 L1279.6,700.6 L1281.8,702.4 L1284.1,704.2 L1286.3,706.1 L1288.6,707.9 L1290.8,709.7 L1293.1,711.5 L1295.3,713.3 L1297.6,715.2 L1299.9,717.0 L1302.1,718.8 L1304.4,720.6 L1306.6,722.4 L1308.9,724.3 L1311.1,726.1 L1313.4,727.9 L1315.6,729.7 L1317.9,731.5 L1320.2,733.3 L1322.4,735.2 L1324.7,737.0 L1326.9,738.8 L1329.2,740.6 L1331.4,742.4 L1333.7,744.2 L1335.9,746.0 L1338.2,747.8 L1340.5,749.6 L1342.7,751.4 L1345.0,753.1 L1347.2,754.9 L1349.5,756.7 L1351.7,758.5 L1354.0,760.2 L1356.2,762.0 L1358.5,763.8 L1360.7,765.5 L1363.0,767.3 L1365.3,769.0 L1367.5,770.7 L1369.8,772.5 L1372.0,774.2 L1374.3,775.9 L1376.6,777.6 L1378.8,779.3 L1381.1,781.0 L1383.3,782.7 L1385.6,784.4 L1387.9,786.1 L1390.1,787.8 L1392.4,789.5 L1394.6,791.1 L1396.9,792.8 L1399.2,794.4 L1401.4,796.1 L1403.7,797.7 L1405.9,799.3 L1408.2,800.9 L1410.5,802.5 L1412.7,804.1 L1415.0,805.7 L1417.2,807.3 L1419.5,808.9 L1421.8,810.4 L1424.0,812.0 L1426.3,813.5 L1428.5,815.0 L1430.8,816.6 L1433.1,818.1 L1435.3,819.6 L1437.6,821.1 L1439.8,822.5 L1442.1,824.0 L1444.4,825.5 L1446.6,826.9 L1448.9,828.3 L1451.1,829.8 L1453.4,831.2 L1455.7,832.6 L1457.9,834.0 L1460.2,835.3 L1462.4,836.7 L1464.7,838.1 L1467.0,839.4 L1469.2,840.7 L1471.5,842.1 L1473.7,843.4 L1476.0,844.6 L1478.3,845.9 L1480.5,847.2 L1482.8,848.4 L1485.0,849.7 L1487.3,850.9 L1489.6,852.1 L1491.8,853.3 L1494.1,854.5 L1496.3,855.7 L1498.6,856.8 L1500.9,858.0 L1503.1,859.1 L1505.4,860.2 L1507.6,861.3 L1509.9,862.4 L1512.2,863.5 L1514.4,864.5 L1516.7,865.6 L1518.9,866.6 L1521.2,867.6 L1523.5,868.6 L1525.7,869.6 L1528.0,870.5 L1530.2,871.5 L1532.5,872.4 L1534.8,873.3 L1537.0,874.2 L1539.3,875.1 L1541.5,876.0 L1543.8,876.9 L1546.1,877.7 L1548.3,878.5 L1550.6,879.3 L1552.8,880.1 L1555.1,880.9 L1557.4,881.6 L1559.6,882.4 L1561.9,883.1 L1564.1,883.8 L1566.4,884.5 L1568.7,885.2 L1570.9,885.8 L1573.2,886.5 L1575.4,887.1 L1577.7,887.7 L1580.0,888.3 L1582.2,888.8 L1584.5,889.4 L1586.7,889.9 L1589.0,890.4 L1591.2,890.9 L1593.5,891.4 L1595.8,891.9 L1598.0,892.3 L1600.2,892.8 L1602.5,893.2 L1604.8,893.6 L1607.0,894.0 L1609.2,894.3 L1611.5,894.7 L1613.8,895.0 L1616.0,895.3 L1618.2,895.6 L1620.5,895.8 L1622.8,896.1 L1625.0,896.3 L1627.2,896.5 L1629.5,896.7 L1631.8,896.9 L1634.0,897.1 L1636.2,897.2 L1638.5,897.3 L1640.8,897.4 L1643.0,897.5 L1645.2,897.6 L1647.5,897.7 L1649.8,897.7 L1652.0,897.7 L1654.2,897.7 L1656.5,897.7 L1658.8,897.6 L1661.0,897.6 L1663.2,897.5 L1665.5,897.4 L1667.8,897.3 L1670.0,897.2 L1672.2,897.0 L1674.5,896.8 L1676.8,896.7 L1679.0,896.5 L1681.2,896.2 L1683.5,896.0 L1685.8,895.7 L1688.0,895.5 L1690.2,895.2 L1692.5,894.9 L1694.8,894.5 L1697.0,894.2 L1699.2,893.8 L1701.5,893.4 L1703.8,893.0 L1706.0,892.6 L1708.2,892.2 L1710.5,891.7 L1712.8,891.3 L1715.0,890.8 L1717.2,890.3 L1719.5,889.7 L1721.8,889.2 L1724.0,888.6 L1726.2,888.1 L1728.5,887.5 L1730.8,886.9 L1733.0,886.2 L1735.2,885.6 L1737.5,884.9 L1739.8,884.2 L1742.0,883.6 L1744.2,882.8 L1746.5,882.1 L1748.8,881.4 L1751.0,880.6 L1753.2,879.8 L1755.5,879.0 L1757.8,878.2 L1760.0,877.4 L1762.2,876.5 L1764.5,875.7 L1766.8,874.8 L1769.0,873.9 L1771.2,873.0 L1773.5,872.1 L1775.8,871.1 L1778.0,870.2 L1780.2,869.2 L1782.5,868.2 L1784.8,867.2 L1787.0,866.2 L1789.2,865.2 L1791.5,864.1 L1793.8,863.1 L1796.0,862.0 L1798.2,860.9 L1800.5,859.8 L1802.8,858.7 L1805.0,857.6 L1807.2,856.4 L1809.5,855.3 L1811.8,854.1 L1814.0,852.9 L1816.3,851.7 L1818.6,850.5 L1820.8,849.2 L1823.1,848.0 L1825.4,846.7 L1827.7,845.5 L1830.0,844.2 L1832.3,842.9 L1834.5,841.6 L1836.8,840.3 L1839.1,838.9 L1841.4,837.6 L1843.7,836.2 L1845.9,834.8 L1848.2,833.5 L1850.5,832.1 L1852.8,830.7 L1855.1,829.2 L1857.4,827.8 L1859.6,826.4 L1861.9,824.9 L1864.2,823.5 L1866.5,822.0 L1868.8,820.5 L1871.0,819.0 L1873.3,817.5 L1875.6,816.0 L1877.9,814.5 L1880.2,812.9 L1882.5,811.4 L1884.7,809.8 L1887.0,808.3 L1889.3,806.7 L1891.6,805.1 L1893.9,803.5 L1896.2,801.9 L1898.4,800.3 L1900.7,798.7 L1903.0,797.1 L1905.3,795.5 L1907.6,793.8 L1909.8,792.2 L1912.1,790.5 L1914.4,788.9 L1916.7,787.2 L1919.0,785.5 L1921.3,783.8 L1923.5,782.1 L1925.8,780.4 L1928.1,778.7 L1930.4,777.0 L1932.7,775.3 L1934.9,773.6 L1937.2,771.8 L1939.5,770.1 L1941.8,768.4 L1944.1,766.6 L1946.4,764.9 L1948.6,763.1 L1950.9,761.4 L1953.2,759.6 L1955.5,757.8 L1957.8,756.0 L1960.0,754.3 L1962.3,752.5 L1964.6,750.7 L1966.9,748.9 L1969.2,747.1 L1971.5,745.3 L1973.7,743.5 L1976.0,741.7 L1978.3,739.9 L1980.6,738.1 L1982.9,736.3 L1985.2,734.5 L1987.4,732.7 L1989.7,730.9 L1992.0,729.1 L1994.3,727.2 L1996.6,725.4 L1998.8,723.6 L2001.1,721.8 L2003.4,720.0 L2005.7,718.1 L2008.0,716.3 L2010.3,714.5 L2012.5,712.7 L2014.8,710.9 L2017.1,709.0 L2019.4,707.2 L2021.7,705.4 L2023.9,703.6 L2026.2,701.8 L2028.5,700.0 L2030.8,698.1 L2033.1,696.3 L2035.4,694.5 L2037.6,692.7 L2039.9,690.9 L2042.2,689.1" stroke="#ff00ff" stroke-dasharray="34 30.5 34 26.75 34 26.75 34 26.75 34 26.75 34 26.75 34 26.75 34 26.75 34 26.75 34 26.75 34 26.75 34 26.75 35.5 27.75 35.5 27.75 35.5 27.75 35.5 27.75 35.5 27.75 35.5 27.75 35.5 27.75 35.5 27.75 35.5 27.75 35.5 27.75 35.5 27.75 35.5 27.75 35.5 27.75 35.5 27.75 35.5 27.75 35.5 27.75 35.5 27.75 35.5 27.75 35.5 27.75 35.5 27.75 35.5 27.75 35.5 27.75 35.5 27.75 35.5 27.75 35.5 27.75 35.5 27.75 35.5 27.75 35.5 27.75 35.5 27.75 35.5 27.75"/>
<path d="M233.3,886.8 L235.5,887.1 L237.8,887.5 L240.0,887.8 L242.3,888.1 L244.5,888.3 L246.8,888.6 L249.0,888.7 L251.3,888.9 L253.5,889.0 L255.7,889.1 L258.0,889.2 L260.2,889.3 L262.5,889.3 L264.7,889.3 L267.0,889.3 L269.2,889.2 L271.4,889.1 L273.7,889.0 L275.9,888.9 L278.2,888.7 L280.4,888.5 L282.7,888.3 L284.9,888.1 L287.2,887.8 L289.4,887.6 L291.6,887.3 L293.9,886.9 L296.1,886.6 L298.4,886.2 L300.6,885.8 L302.9,885.4 L305.1,885.0 L307.4,884.5 L309.6,884.0 L311.8,883.5 L314.1,883.0 L316.3,882.5 L318.6,881.9 L320.8,881.3 L323.1,880.7 L325.3,880.1 L327.5,879.4 L329.8,878.8 L332.0,878.1 L334.3,877.4 L336.5,876.7 L338.8,875.9 L341.0,875.2 L343.3,874.4 L345.5,873.6 L347.7,872.8 L350.0,871.9 L352.2,871.1 L354.5,870.2 L356.7,869.3 L359.0,868.4 L361.2,867.5 L363.5,866.5 L365.7,865.6 L367.9,864.6 L370.2,863.6 L372.4,862.6 L374.7,861.6 L376.9,860.6 L379.2,859.5 L381.4,858.4 L383.6,857.3 L385.9,856.2 L388.1,855.1 L390.4,854.0 L392.6,852.8 L394.9,851.7 L397.1,850.5 L399.4,849.3 L401.6,848.1 L403.8,846.9 L406.1,845.6 L408.3,844.4 L410.6,843.1 L412.8,841.8 L415.1,840.6 L417.3,839.2 L419.6,837.9 L421.8,836.6 L424.0,835.3 L426.3,833.9 L428.5,832.5 L430.8,831.2 L433.0,829.8 L435.3,828.4 L437.5,826.9 L439.7,825.5 L442.0,824.1 L444.2,822.6 L446.5,821.2 L448.7,819.7 L451.0,818.2 L453.2,816.7 L455.5,815.2 L457.7,813.7 L459.9,812.2 L462.2,810.6 L464.4,809.1 L466.7,807.5 L468.9,806.0 L471.2,804.4 L473.4,802.8 L475.7,801.2 L477.9,799.6 L480.2,798.0 L482.4,796.4 L484.7,794.7 L486.9,793.1 L489.2,791.5 L491.4,789.8 L493.7,788.1 L495.9,786.5 L498.2,784.8 L500.4,783.1 L502.7,781.4 L504.9,779.7 L507.2,778.0 L509.4,776.3 L511.7,774.6 L513.9,772.9 L516.1,771.2 L518.4,769.4 L520.6,767.7 L522.9,766.0 L525.1,764.2 L527.4,762.5 L529.6,760.7 L531.9,758.9 L534.1,757.2 L536.4,755.4 L538.6,753.6 L540.9,751.8 L543.1,750.1 L545.4,748.3 L547.6,746.5 L549.9,744.7 L552.1,742.9 L554.4,741.1 L556.6,739.3 L558.9,737.5 L561.1,735.7 L563.4,733.9 L565.6,732.1 L567.9,730.2 L570.1,728.4 L572.3,726.6 L574.6,724.8 L576.8,723.0 L579.1,721.2 L581.3,719.3 L583.6,717.5 L585.8,715.7 L588.1,713.9 L590.3,712.1 L592.6,710.2 L594.8,708.4 L597.1,706.6 L599.3,704.8 L601.6,703.0 L603.8,701.2 L606.1,699.3 L608.3,697.5 L610.6,695.7 L612.8,693.9 L615.1,692.1 L617.3,690.3 L619.6,688.5 L621.8,686.7 L624.1,684.9 L626.3,683.1 L628.5,681.3 L630.8,679.5 L633.0,677.8 L635.3,676.0 L637.5,674.2 L639.8,672.4 L642.0,670.7 L644.3,668.9 L646.5,667.2 L648.8,665.4 L651.0,663.7 L653.3,661.9 L655.5,660.2 L657.8,658.4 L660.0,656.7 L662.3,655.0 L664.5,653.3 L666.8,651.6 L669.0,649.9 L671.3,648.2 L673.5,646.5 L675.8,644.8 L678.0,643.1 L680.3,641.5 L682.5,639.8 L684.8,638.2 L687.0,636.5 L689.2,634.9 L691.5,633.3 L693.8,631.6 L696.0,630.0 L698.2,628.4 L700.5,626.8 L702.8,625.2 L705.0,623.7 L707.2,622.1 L709.5,620.5 L711.8,619.0 L714.0,617.4 L716.2,615.9 L718.5,614.4 L720.8,612.9 L723.0,611.4 L725.2,609.9 L727.5,608.4 L729.8,607.0 L732.0,605.5 L734.2,604.1 L736.5,602.6 L738.8,601.2 L741.0,599.8 L743.2,598.4 L745.5,597.0 L747.8,595.6 L750.0,594.3 L752.2,592.9 L754.5,591.6 L756.8,590.2 L759.0,588.9 L761.2,587.6 L763.5,586.3 L765.8,585.1 L768.0,583.8 L770.2,582.6 L772.5,581.3 L774.8,580.1 L777.0,578.9 L779.2,577.7 L781.5,576.5 L783.8,575.3 L786.0,574.2 L788.2,573.0 L790.5,571.9 L792.8,570.8 L795.0,569.7 L797.2,568.6 L799.5,567.6 L801.8,566.5 L804.0,565.5 L806.2,564.4 L808.5,563.4 L810.8,562.4 L813.0,561.5 L815.2,560.5 L817.5,559.6 L819.8,558.6 L822.0,557.7 L824.2,556.8 L826.5,555.9 L828.8,555.1 L831.0,554.2 L833.2,553.4 L835.5,552.6 L837.8,551.8 L840.0,551.0 L842.2,550.2 L844.5,549.4 L846.8,548.7 L849.0,548.0 L851.2,547.3 L853.5,546.6 L855.8,545.9 L858.0,545.3 L860.2,544.6 L862.5,544.0 L864.8,543.4 L867.0,542.8 L869.2,542.3 L871.5,541.7 L873.8,541.2 L876.0,540.7 L878.2,540.2 L880.5,539.7 L882.8,539.2 L885.0,538.8 L887.2,538.4 L889.5,538.0 L891.8,537.6 L894.0,537.2 L896.2,536.8 L898.5,536.5 L900.8,536.2 L903.0,535.9 L905.2,535.6 L907.5,535.3 L909.8,535.1 L912.1,534.8 L914.4,534.6 L916.7,534.4 L919.0,534.3 L921.3,534.1 L923.6,534.0 L925.9,533.8 L928.2,533.7 L930.5,533.7 L932.8,533.6 L935.1,533.5 L937.4,533.5 L939.7,533.5 L942.0,533.5 L944.3,533.5 L946.6,533.6 L948.9,533.6 L951.2,533.7 L953.5,533.8 L955.8,533.9 L958.1,534.1 L960.4,534.2 L962.7,534.4 L965.0,534.6 L967.3,534.8 L969.6,535.0 L971.9,535.2 L974.2,535.5 L976.5,535.8 L978.8,536.1 L981.1,536.4 L983.4,536.7 L985.7,537.1 L988.0,537.4 L990.3,537.8 L992.6,538.2 L994.9,538.7 L997.2,539.1 L999.5,539.5 L1001.8,540.0 L1004.1,540.5 L1006.4,541.0 L1008.7,541.5 L1011.0,542.1 L1013.3,542.7 L1015.6,543.2 L1017.9,543.8 L1020.2,544.4 L1022.5,545.1 L1024.8,545.7 L1027.1,546.4 L1029.4,547.1 L1031.7,547.8 L1034.0,548.5 L1036.3,549.2 L1038.6,550.0 L1040.9,550.7 L1043.2,551.5 L1045.5,552.3 L1047.8,553.1 L1050.1,553.9 L1052.4,554.8 L1054.7,555.7 L1057.0,556.5 L1059.3,557.4 L1061.6,558.3 L1063.9,559.3 L1066.2,560.2 L1068.5,561.2 L1070.8,562.1 L1073.1,563.1 L1075.4,564.1 L1077.7,565.1 L1080.0,566.2 L1082.3,567.2 L1084.6,568.3 L1086.9,569.4 L1089.2,570.5 L1091.5,571.6 L1093.8,572.7 L1096.1,573.8 L1098.4,575.0 L1100.7,576.1 L1103.0,577.3 L1105.3,578.5 L1107.6,579.7 L1109.9,580.9 L1112.2,582.2 L1114.5,583.4 L1116.8,584.7 L1119.1,585.9 L1121.4,587.2 L1123.7,588.5 L1126.0,589.8 L1128.3,591.2 L1130.6,592.5 L1132.9,593.8 L1135.2,595.2 L1137.5,596.6 L1139.8,598.0 L1142.0,599.4 L1144.3,600.8 L1146.5,602.2 L1148.8,603.6 L1151.0,605.0 L1153.3,606.5 L1155.5,608.0 L1157.8,609.4 L1160.0,610.9 L1162.3,612.4 L1164.6,613.9 L1166.8,615.4 L1169.1,617.0 L1171.3,618.5 L1173.6,620.0 L1175.8,621.6 L1178.1,623.2 L1180.3,624.7 L1182.6,626.3 L1184.9,627.9 L1187.1,629.5 L1189.4,631.1 L1191.6,632.7 L1193.9,634.4 L1196.1,636.0 L1198.4,637.6 L1200.6,639.3 L1202.9,640.9 L1205.2,642.6 L1207.4,644.3 L1209.7,646.0 L1211.9,647.7 L1214.2,649.3 L1216.4,651.0 L1218.7,652.7 L1220.9,654.5 L1223.2,656.2 L1225.4,657.9 L1227.7,659.6 L1230.0,661.4 L1232.2,663.1 L1234.5,664.9 L1236.7,666.6 L1239.0,668.4 L1241.2,670.1 L1243.5,671.9 L1245.7,673.7 L1248.0,675.4 L1250.2,677.2 L1252.5,679.0 L1254.8,680.8 L1257.0,682.6 L1259.3,684.4 L1261.5,686.2 L1263.8,688.0 L1266.0,689.8 L1268.3,691.6 L1270.5,693.4 L1272.8,695.2 L1275.1,697.0 L1277.3,698.8 L1279.6,700.6 L1281.8,702.4 L1284.1,704.2 L1286.3,706.1 L1288.6,707.9 L1290.8,709.7 L1293.1,711.5 L1295.3,713.3 L1297.6,715.2 L1299.9,717.0 L1302.1,718.8 L1304.4,720.6 L1306.6,722.4 L1308.9,724.3 L1311.1,726.1 L1313.4,727.9 L1315.6,729.7 L1317.9,731.5 L1320.2,733.3 L1322.4,735.2 L1324.7,737.0 L1326.9,738.8 L1329.2,740.6 L1331.4,742.4 L1333.7,744.2 L1335.9,746.0 L1338.2,747.8 L1340.5,749.6 L1342.7,751.4 L1345.0,753.1 L1347.2,754.9 L1349.5,756.7 L1351.7,758.5 L1354.0,760.2 L1356.2,762.0 L1358.5,763.8 L1360.7,765.5 L1363.0,767.3 L1365.3,769.0 L1367.5,770.7 L1369.8,772.5 L1372.0,774.2 L1374.3,775.9 L1376.6,777.6 L1378.8,779.3 L1381.1,781.0 L1383.3,782.7 L1385.6,784.4 L1387.9,786.1 L1390.1,787.8 L1392.4,789.5 L1394.6,791.1 L1396.9,792.8 L1399.2,794.4 L1401.4,796.1 L1403.7,797.7 L1405.9,799.3 L1408.2,800.9 L1410.5,802.5 L1412.7,804.1 L1415.0,805.7 L1417.2,807.3 L1419.5,808.9 L1421.8,810.4 L1424.0,812.0 L1426.3,813.5 L1428.5,815.0 L1430.8,816.6 L1433.1,818.1 L1435.3,819.6 L1437.6,821.1 L1439.8,822.5 L1442.1,824.0 L1444.4,825.5 L1446.6,826.9 L1448.9,828.3 L1451.1,829.8 L1453.4,831.2 L1455.7,832.6 L1457.9,834.0 L1460.2,835.3 L1462.4,836.7 L1464.7,838.1 L1467.0,839.4 L1469.2,840.7 L1471.5,842.1 L1473.7,843.4 L1476.0,844.6 L1478.3,845.9 L1480.5,847.2 L1482.8,848.4 L1485.0,849.7 L1487.3,850.9 L1489.6,852.1 L1491.8,853.3 L1494.1,854.5 L1496.3,855.7 L1498.6,856.8 L1500.9,858.0 L1503.1,859.1 L1505.4,860.2 L1507.6,861.3 L1509.9,862.4 L1512.2,863.5 L1514.4,864.5 L1516.7,865.6 L1518.9,866.6 L1521.2,867.6 L1523.5,868.6 L1525.7,869.6 L1528.0,870.5 L1530.2,871.5 L1532.5,872.4 L1534.8,873.3 L1537.0,874.2 L1539.3,875.1 L1541.5,876.0 L1543.8,876.9 L1546.1,877.7 L1548.3,878.5 L1550.6,879.3 L1552.8,880.1 L1555.1,880.9 L1557.4,881.6 L1559.6,882.4 L1561.9,883.1 L1564.1,883.8 L1566.4,884.5 L1568.7,885.2 L1570.9,885.8 L1573.2,886.5 L1575.4,887.1 L1577.7,887.7 L1580.0,888.3 L1582.2,888.8 L1584.5,889.4 L1586.7,889.9 L1589.0,890.4 L1591.2,890.9 L1593.5,891.4 L1595.8,891.9 L1598.0,892.3 L1600.2,892.8 L1602.5,893.2 L1604.8,893.6 L1607.0,894.0 L1609.2,894.3 L1611.5,894.7 L1613.8,895.0 L1616.0,895.3 L1618.2,895.6 L1620.5,895.8 L1622.8,896.1 L1625.0,896.3 L1627.2,896.5 L1629.5,896.7 L1631.8,896.9 L1634.0,897.1 L1636.2,897.2 L1638.5,897.3 L1640.8,897.4 L1643.0,897.5 L1645.2,897.6 L1647.5,897.7 L1649.8,897.7 L1652.0,897.7 L1654.2,897.7 L1656.5,897.7 L1658.8,897.6 L1661.0,897.6 L1663.2,897.5 L1665.5,897.4 L1667.8,897.3 L1670.0,897.2 L1672.2,897.0 L1674.5,896.8 L1676.8,896.7 L1679.0,896.5 L1681.2,896.2 L1683.5,896.0 L1685.8,895.7 L1688.0,895.5 L1690.2,895.2 L1692.5,894.9 L1694.8,894.5 L1697.0,894.2 L1699.2,893.8 L1701.5,893.4 L1703.8,893.0 L1706.0,892.6 L1708.2,892.2 L1710.5,891.7 L1712.8,891.3 L1715.0,890.8 L1717.2,890.3 L1719.5,889.7 L1721.8,889.2 L1724.0,888.6 L1726.2,888.1 L1728.5,887.5 L1730.8,886.9 L1733.0,886.2 L1735.2,885.6 L1737.5,884.9 L1739.8,884.2 L1742.0,883.6 L1744.2,882.8 L1746.5,882.1 L1748.8,881.4 L1751.0,880.6 L1753.2,879.8 L1755.5,879.0 L1757.8,878.2 L1760.0,877.4 L1762.2,876.5 L1764.5,875.7 L1766.8,874.8 L1769.0,873.9 L1771.2,873.0 L1773.5,872.1 L1775.8,871.1 L1778.0,870.2 L1780.2,869.2 L1782.5,868.2 L1784.8,867.2 L1787.0,866.2 L1789.2,865.2 L1791.5,864.1 L1793.8,863.1 L1796.0,862.0 L1798.2,860.9 L1800.5,859.8 L1802.8,858.7 L1805.0,857.6 L1807.2,856.4 L1809.5,855.3 L1811.8,854.1 L1814.0,852.9 L1816.3,851.7 L1818.6,850.5 L1820.8,849.2 L1823.1,848.0 L1825.4,846.7 L1827.7,845.5 L1830.0,844.2 L1832.3,842.9 L1834.5,841.6 L1836.8,840.3 L1839.1,838.9 L1841.4,837.6 L1843.7,836.2 L1845.9,834.8 L1848.2,833.5 L1850.5,832.1 L1852.8,830.7 L1855.1,829.2 L1857.4,827.8 L1859.6,826.4 L1861.9,824.9 L1864.2,823.5 L1866.5,822.0 L1868.8,820.5 L1871.0,819.0 L1873.3,817.5 L1875.6,816.0 L1877.9,814.5 L1880.2,812.9 L1882.5,811.4 L1884.7,809.8 L1887.0,808.3 L1889.3,806.7 L1891.6,805.1 L1893.9,803.5 L1896.2,801.9 L1898.4,800.3 L1900.7,798.7 L1903.0,797.1 L1905.3,795.5 L1907.6,793.8 L1909.8,792.2 L1912.1,790.5 L1914.4,788.9 L1916.7,787.2 L1919.0,785.5 L1921.3,783.8 L1923.5,782.1 L1925.8,780.4 L1928.1,778.7 L1930.4,777.0 L1932.7,775.3 L1934.9,773.6 L1937.2,771.8 L1939.5,770.1 L1941.8,768.4 L1944.1,766.6 L1946.4,764.9 L1948.6,763.1 L1950.9,761.4 L1953.2,759.6 L1955.5,757.8 L1957.8,756.0 L1960.0,754.3 L1962.3,752.5 L1964.6,750.7 L1966.9,748.9 L1969.2,747.1 L1971.5,745.3 L1973.7,743.5 L1976.0,741.7 L1978.3,739.9 L1980.6,738.1 L1982.9,736.3 L1985.2,734.5 L1987.4,732.7 L1989.7,730.9 L1992.0,729.1 L1994.3,727.2 L1996.6,725.4 L1998.8,723.6 L2001.1,721.8 L2003.4,720.0 L2005.7,718.1 L2008.0,716.3 L2010.3,714.5 L2012.5,712.7 L2014.8,710.9 L2017.1,709.0 L2019.4,707.2 L2021.7,705.4 L2023.9,703.6 L2026.2,701.8 L2028.5,700.0 L2030.8,698.1 L2033.1,696.3 L2035.4,694.5 L2037.6,692.7 L2039.9,690.9 L2042.2,689.1" stroke="#00ff00" stroke-dasharray="34 30.5 34 26.75 34 26.75 34 26.75 34 26.75 34 26.75 34 26.75 34 26.75 34 26.75 34 26.75 34 26.75 34 26.75 35.5 27.75 35.5 27.75 35.5 27.75 35.5 27.75 35.5 27.75 35.5 27.75 35.5 27.75 35.5 27.75 35.5 27.75 35.5 27.75 35.5 27.75 35.5 27.75 35.5 27.75 35.5 27.75 35.5 27.75 35.5 27.75 35.5 27.75 35.5 27.75 35.5 27.75 35.5 27.75 35.5 27.75 35.5 27.75 35.5 27.75 35.5 27.75 35.5 27.75 35.5 27.75 35.5 27.75 35.5 27.75 35.5 27.75 35.5 27.75"/>
</g>
<text transform="translate(220.21,966.00) scale(1.0,1)" font-size="55.0">0</text>
<text transform="translate(429.18,966.00) scale(1.0,1)" font-size="55.0">50</text>
<text transform="translate(642.10,966.00) scale(1.0,1)" font-size="55.0">100</text>
<text transform="translate(866.10,966.00) scale(1.0,1)" font-size="55.0">150</text>
<text transform="translate(1094.81,966.00) scale(1.0,1)" font-size="55.0">200</text>
<text transform="translate(1320.81,966.00) scale(1.0,1)" font-size="55.0">250</text>
<text transform="translate(1547.14,966.00) scale(1.0,1)" font-size="55.0">300</text>
<text transform="translate(1772.14,966.00) scale(1.0,1)" font-size="55.0">350</text>
<text transform="translate(1998.56,966.00) scale(1.0,1)" font-size="55.0">400</text>
<text transform="translate(157.97,858.90) scale(1.0,1)" font-size="55.0">20</text>
<text transform="translate(157.97,796.80) scale(1.0,1)" font-size="55.0">40</text>
<text transform="translate(157.97,737.90) scale(1.0,1)" font-size="55.0">60</text>
<text transform="translate(157.97,675.80) scale(1.0,1)" font-size="55.0">80</text>
<text transform="translate(127.38,612.60) scale(1.0,1)" font-size="55.0">100</text>
<text transform="translate(127.38,555.50) scale(1.0,1)" font-size="55.0">120</text>
<rect x="229.20" y="1047.20" width="1813.00" height="370.00" fill="none" stroke="#000" stroke-width="4" shape-rendering="crispEdges"/>
<line x1="457.00" y1="1417.20" x2="457.00" y2="1395.70" stroke="#000" stroke-width="4" shape-rendering="crispEdges"/>
<line x1="457.00" y1="1047.20" x2="457.00" y2="1063.70" stroke="#000" stroke-width="4" shape-rendering="crispEdges"/>
<line x1="682.50" y1="1417.20" x2="682.50" y2="1395.70" stroke="#000" stroke-width="4" shape-rendering="crispEdges"/>
<line x1="682.50" y1="1047.20" x2="682.50" y2="1063.70" stroke="#000" stroke-width="4" shape-rendering="crispEdges"/>
<line x1="907.50" y1="1417.20" x2="907.50" y2="1395.70" stroke="#000" stroke-width="4" shape-rendering="crispEdges"/>
<line x1="907.50" y1="1047.20" x2="907.50" y2="1063.70" stroke="#000" stroke-width="4" shape-rendering="crispEdges"/>
<line x1="1137.50" y1="1417.20" x2="1137.50" y2="1395.70" stroke="#000" stroke-width="4" shape-rendering="crispEdges"/>
<line x1="1137.50" y1="1047.20" x2="1137.50" y2="1063.70" stroke="#000" stroke-width="4" shape-rendering="crispEdges"/>
<line x1="1363.00" y1="1417.20" x2="1363.00" y2="1395.70" stroke="#000" stroke-width="4" shape-rendering="crispEdges"/>
<line x1="1363.00" y1="1047.20" x2="1363.00" y2="1063.70" stroke="#000" stroke-width="4" shape-rendering="crispEdges"/>
<line x1="1589.00" y1="1417.20" x2="1589.00" y2="1395.70" stroke="#000" stroke-width="4" shape-rendering="crispEdges"/>
<line x1="1589.00" y1="1047.20" x2="1589.00" y2="1063.70" stroke="#000" stroke-width="4" shape-rendering="crispEdges"/>
<line x1="1814.00" y1="1417.20" x2="1814.00" y2="1395.70" stroke="#000" stroke-width="4" shape-rendering="crispEdges"/>
<line x1="1814.00" y1="1047.20" x2="1814.00" y2="1063.70" stroke="#000" stroke-width="4" shape-rendering="crispEdges"/>
<line x1="229.20" y1="1325.80" x2="250.00" y2="1325.80" stroke="#000" stroke-width="4" shape-rendering="crispEdges"/>
<line x1="2042.20" y1="1325.80" x2="2020.90" y2="1325.80" stroke="#000" stroke-width="4" shape-rendering="crispEdges"/>
<line x1="229.20" y1="1234.20" x2="250.00" y2="1234.20" stroke="#000" stroke-width="4" shape-rendering="crispEdges"/>
<line x1="2042.20" y1="1234.20" x2="2020.90" y2="1234.20" stroke="#000" stroke-width="4" shape-rendering="crispEdges"/>
<line x1="229.20" y1="1141.60" x2="250.00" y2="1141.60" stroke="#000" stroke-width="4" shape-rendering="crispEdges"/>
<line x1="2042.20" y1="1141.60" x2="2020.90" y2="1141.60" stroke="#000" stroke-width="4" shape-rendering="crispEdges"/>
<line x1="229.20" y1="1050.50" x2="250.00" y2="1050.50" stroke="#000" stroke-width="4" shape-rendering="crispEdges"/>
<line x1="2042.20" y1="1050.50" x2="2020.90" y2="1050.50" stroke="#000" stroke-width="4" shape-rendering="crispEdges"/>
<clipPath id="c3"><rect x="231.20" y="1046.40" width="1813.00" height="372.80"/></clipPath>
<g clip-path="url(#c3)" fill="none" stroke-width="14" stroke-linejoin="round" shape-rendering="crispEdges">
<path d="M231.5,1417.2 L233.8,1416.7 L236.0,1416.3 L238.3,1415.8 L240.5,1415.4 L242.8,1414.9 L245.0,1414.4 L247.3,1414.0 L249.5,1413.5 L251.8,1413.1 L254.1,1412.6 L256.3,1412.2 L258.6,1411.7 L260.8,1411.2 L263.1,1410.8 L265.3,1410.3 L267.6,1409.9 L269.8,1409.4 L272.1,1408.9 L274.3,1408.5 L276.6,1408.0 L278.9,1407.6 L281.1,1407.1 L283.4,1406.7 L285.6,1406.2 L287.9,1405.7 L290.1,1405.3 L292.4,1404.8 L294.6,1404.4 L296.9,1403.9 L299.1,1403.4 L301.4,1403.0 L303.7,1402.5 L305.9,1402.1 L308.2,1401.6 L310.4,1401.2 L312.7,1400.7 L314.9,1400.2 L317.2,1399.8 L319.4,1399.3 L321.7,1398.9 L324.0,1398.4 L326.2,1397.9 L328.5,1397.5 L330.7,1397.0 L333.0,1396.6 L335.2,1396.1 L337.5,1395.7 L339.7,1395.2 L342.0,1394.7 L344.2,1394.3 L346.5,1393.8 L348.8,1393.4 L351.0,1392.9 L353.3,1392.4 L355.5,1392.0 L357.8,1391.5 L360.0,1391.1 L362.3,1390.6 L364.5,1390.2 L366.8,1389.7 L369.1,1389.2 L371.3,1388.8 L373.6,1388.3 L375.8,1387.9 L378.1,1387.4 L380.3,1386.9 L382.6,1386.5 L384.8,1386.0 L387.1,1385.6 L389.4,1385.1 L391.6,1384.7 L393.9,1384.2 L396.1,1383.7 L398.4,1383.3 L400.6,1382.8 L402.9,1382.4 L405.1,1381.9 L407.4,1381.4 L409.6,1381.0 L411.9,1380.5 L414.2,1380.1 L416.4,1379.6 L418.7,1379.2 L420.9,1378.7 L423.2,1378.2 L425.4,1377.8 L427.7,1377.3 L429.9,1376.9 L432.2,1376.4 L434.5,1375.9 L436.7,1375.5 L439.0,1375.0 L441.2,1374.6 L443.5,1374.1 L445.7,1373.7 L448.0,1373.2 L450.2,1372.7 L452.5,1372.3 L454.7,1371.8 L457.0,1371.4 L459.3,1370.9 L461.5,1370.4 L463.8,1370.0 L466.0,1369.5 L468.3,1369.1 L470.5,1368.6 L472.8,1368.2 L475.0,1367.7 L477.3,1367.2 L479.6,1366.8 L481.8,1366.3 L484.1,1365.9 L486.3,1365.4 L488.6,1364.9 L490.8,1364.5 L493.1,1364.0 L495.3,1363.6 L497.6,1363.1 L499.8,1362.7 L502.1,1362.2 L504.4,1361.7 L506.6,1361.3 L508.9,1360.8 L511.1,1360.4 L513.4,1359.9 L515.6,1359.4 L517.9,1359.0 L520.1,1358.5 L522.4,1358.1 L524.6,1357.6 L526.9,1357.2 L529.2,1356.7 L531.4,1356.2 L533.7,1355.8 L535.9,1355.3 L538.2,1354.9 L540.4,1354.4 L542.7,1353.9 L544.9,1353.5 L547.2,1353.0 L549.5,1352.6 L551.7,1352.1 L554.0,1351.7 L556.2,1351.2 L558.5,1350.7 L560.7,1350.3 L563.0,1349.8 L565.2,1349.4 L567.5,1348.9 L569.8,1348.4 L572.0,1348.0 L574.3,1347.5 L576.5,1347.1 L578.8,1346.6 L581.0,1346.2 L583.3,1345.7 L585.5,1345.2 L587.8,1344.8 L590.0,1344.3 L592.3,1343.9 L594.6,1343.4 L596.8,1342.9 L599.1,1342.5 L601.3,1342.0 L603.6,1341.6 L605.8,1341.1 L608.1,1340.7 L610.3,1340.2 L612.6,1339.7 L614.9,1339.3 L617.1,1338.8 L619.4,1338.4 L621.6,1337.9 L623.9,1337.4 L626.1,1337.0 L628.4,1336.5 L630.6,1336.1 L632.9,1335.6 L635.1,1335.2 L637.4,1334.7 L639.7,1334.2 L641.9,1333.8 L644.2,1333.3 L646.4,1332.9 L648.7,1332.4 L650.9,1331.9 L653.2,1331.5 L655.4,1331.0 L657.7,1330.6 L660.0,1330.1 L662.2,1329.7 L664.5,1329.2 L666.7,1328.7 L669.0,1328.3 L671.2,1327.8 L673.5,1327.4 L675.7,1326.9 L678.0,1326.4 L680.2,1326.0 L682.5,1325.5 L684.8,1325.1 L687.0,1324.6 L689.2,1324.1 L691.5,1323.7 L693.8,1323.2 L696.0,1322.8 L698.2,1322.3 L700.5,1321.9 L702.8,1321.4 L705.0,1320.9 L707.2,1320.5 L709.5,1320.0 L711.8,1319.6 L714.0,1319.1 L716.2,1318.6 L718.5,1318.2 L720.8,1317.7 L723.0,1317.3 L725.2,1316.8 L727.5,1316.4 L729.8,1315.9 L732.0,1315.4 L734.2,1315.0 L736.5,1314.5 L738.8,1314.1 L741.0,1313.6 L743.2,1313.1 L745.5,1312.7 L747.8,1312.2 L750.0,1311.8 L752.2,1311.3 L754.5,1310.9 L756.8,1310.4 L759.0,1309.9 L761.2,1309.5 L763.5,1309.0 L765.8,1308.6 L768.0,1308.1 L770.2,1307.6 L772.5,1307.2 L774.8,1306.7 L777.0,1306.3 L779.2,1305.8 L781.5,1305.4 L783.8,1304.9 L786.0,1304.4 L788.2,1304.0 L790.5,1303.5 L792.8,1303.1 L795.0,1302.6 L797.2,1302.1 L799.5,1301.7 L801.8,1301.2 L804.0,1300.8 L806.2,1300.3 L808.5,1299.9 L810.8,1299.4 L813.0,1298.9 L815.2,1298.5 L817.5,1298.0 L819.8,1297.6 L822.0,1297.1 L824.2,1296.6 L826.5,1296.2 L828.8,1295.7 L831.0,1295.3 L833.2,1294.8 L835.5,1294.4 L837.8,1293.9 L840.0,1293.4 L842.2,1293.0 L844.5,1292.5 L846.8,1292.1 L849.0,1291.6 L851.2,1291.1 L853.5,1290.7 L855.8,1290.2 L858.0,1289.8 L860.2,1289.3 L862.5,1288.9 L864.8,1288.4 L867.0,1287.9 L869.2,1287.5 L871.5,1287.0 L873.8,1286.6 L876.0,1286.1 L878.2,1285.6 L880.5,1285.2 L882.8,1284.7 L885.0,1284.3 L887.2,1283.8 L889.5,1283.4 L891.8,1282.9 L894.0,1282.4 L896.2,1282.0 L898.5,1281.5 L900.8,1281.1 L903.0,1280.6 L905.2,1280.1 L907.5,1279.7 L909.8,1279.2 L912.1,1278.8 L914.4,1278.3 L916.7,1277.9 L919.0,1277.4 L921.3,1276.9 L923.6,1276.5 L925.9,1276.0 L928.2,1275.6 L930.5,1275.1 L932.8,1274.6 L935.1,1274.2 L937.4,1273.7 L939.7,1273.3 L942.0,1272.8 L944.3,1272.4 L946.6,1271.9 L948.9,1271.4 L951.2,1271.0 L953.5,1270.5 L955.8,1270.1 L958.1,1269.6 L960.4,1269.1 L962.7,1268.7 L965.0,1268.2 L967.3,1267.8 L969.6,1267.3 L971.9,1266.9 L974.2,1266.4 L976.5,1265.9 L978.8,1265.5 L981.1,1265.0 L983.4,1264.6 L985.7,1264.1 L988.0,1263.6 L990.3,1263.2 L992.6,1262.7 L994.9,1262.3 L997.2,1261.8 L999.5,1261.4 L1001.8,1260.9 L1004.1,1260.4 L1006.4,1260.0 L1008.7,1259.5 L1011.0,1259.1 L1013.3,1258.6 L1015.6,1258.1 L1017.9,1257.7 L1020.2,1257.2 L1022.5,1256.8 L1024.8,1256.3 L1027.1,1255.9 L1029.4,1255.4 L1031.7,1254.9 L1034.0,1254.5 L1036.3,1254.0 L1038.6,1253.6 L1040.9,1253.1 L1043.2,1252.6 L1045.5,1252.2 L1047.8,1251.7 L1050.1,1251.3 L1052.4,1250.8 L1054.7,1250.4 L1057.0,1249.9 L1059.3,1249.4 L1061.6,1249.0 L1063.9,1248.5 L1066.2,1248.1 L1068.5,1247.6 L1070.8,1247.1 L1073.1,1246.7 L1075.4,1246.2 L1077.7,1245.8 L1080.0,1245.3 L1082.3,1244.9 L1084.6,1244.4 L1086.9,1243.9 L1089.2,1243.5 L1091.5,1243.0 L1093.8,1242.6 L1096.1,1242.1 L1098.4,1241.6 L1100.7,1241.2 L1103.0,1240.7 L1105.3,1240.3 L1107.6,1239.8 L1109.9,1239.4 L1112.2,1238.9 L1114.5,1238.4 L1116.8,1238.0 L1119.1,1237.5 L1121.4,1237.1 L1123.7,1236.6 L1126.0,1236.1 L1128.3,1235.7 L1130.6,1235.2 L1132.9,1234.8 L1135.2,1234.3 L1137.5,1233.9 L1139.8,1233.4 L1142.0,1232.9 L1144.3,1232.5 L1146.5,1232.0 L1148.8,1231.6 L1151.0,1231.1 L1153.3,1230.6 L1155.5,1230.2 L1157.8,1229.7 L1160.0,1229.3 L1162.3,1228.8 L1164.6,1228.3 L1166.8,1227.9 L1169.1,1227.4 L1171.3,1227.0 L1173.6,1226.5 L1175.8,1226.1 L1178.1,1225.6 L1180.3,1225.1 L1182.6,1224.7 L1184.9,1224.2 L1187.1,1223.8 L1189.4,1223.3 L1191.6,1222.8 L1193.9,1222.4 L1196.1,1221.9 L1198.4,1221.5 L1200.6,1221.0 L1202.9,1220.6 L1205.2,1220.1 L1207.4,1219.6 L1209.7,1219.2 L1211.9,1218.7 L1214.2,1218.3 L1216.4,1217.8 L1218.7,1217.3 L1220.9,1216.9 L1223.2,1216.4 L1225.4,1216.0 L1227.7,1215.5 L1230.0,1215.1 L1232.2,1214.6 L1234.5,1214.1 L1236.7,1213.7 L1239.0,1213.2 L1241.2,1212.8 L1243.5,1212.3 L1245.7,1211.8 L1248.0,1211.4 L1250.2,1210.9 L1252.5,1210.5 L1254.8,1210.0 L1257.0,1209.6 L1259.3,1209.1 L1261.5,1208.6 L1263.8,1208.2 L1266.0,1207.7 L1268.3,1207.3 L1270.5,1206.8 L1272.8,1206.3 L1275.1,1205.9 L1277.3,1205.4 L1279.6,1205.0 L1281.8,1204.5 L1284.1,1204.1 L1286.3,1203.6 L1288.6,1203.1 L1290.8,1202.7 L1293.1,1202.2 L1295.3,1201.8 L1297.6,1201.3 L1299.9,1200.8 L1302.1,1200.4 L1304.4,1199.9 L1306.6,1199.5 L1308.9,1199.0 L1311.1,1198.6 L1313.4,1198.1 L1315.6,1197.6 L1317.9,1197.2 L1320.2,1196.7 L1322.4,1196.3 L1324.7,1195.8 L1326.9,1195.3 L1329.2,1194.9 L1331.4,1194.4 L1333.7,1194.0 L1335.9,1193.5 L1338.2,1193.1 L1340.5,1192.6 L1342.7,1192.1 L1345.0,1191.7 L1347.2,1191.2 L1349.5,1190.8 L1351.7,1190.3 L1354.0,1189.8 L1356.2,1189.4 L1358.5,1188.9 L1360.7,1188.5 L1363.0,1188.0 L1365.3,1187.6 L1367.5,1187.1 L1369.8,1186.6 L1372.0,1186.2 L1374.3,1185.7 L1376.6,1185.3 L1378.8,1184.8 L1381.1,1184.3 L1383.3,1183.9 L1385.6,1183.4 L1387.9,1183.0 L1390.1,1182.5 L1392.4,1182.1 L1394.6,1181.6 L1396.9,1181.1 L1399.2,1180.7 L1401.4,1180.2 L1403.7,1179.8 L1405.9,1179.3 L1408.2,1178.8 L1410.5,1178.4 L1412.7,1177.9 L1415.0,1177.5 L1417.2,1177.0 L1419.5,1176.6 L1421.8,1176.1 L1424.0,1175.6 L1426.3,1175.2 L1428.5,1174.7 L1430.8,1174.3 L1433.1,1173.8 L1435.3,1173.3 L1437.6,1172.9 L1439.8,1172.4 L1442.1,1172.0 L1444.4,1171.5 L1446.6,1171.1 L1448.9,1170.6 L1451.1,1170.1 L1453.4,1169.7 L1455.7,1169.2 L1457.9,1168.8 L1460.2,1168.3 L1462.4,1167.8 L1464.7,1167.4 L1467.0,1166.9 L1469.2,1166.5 L1471.5,1166.0 L1473.7,1165.6 L1476.0,1165.1 L1478.3,1164.6 L1480.5,1164.2 L1482.8,1163.7 L1485.0,1163.3 L1487.3,1162.8 L1489.6,1162.3 L1491.8,1161.9 L1494.1,1161.4 L1496.3,1161.0 L1498.6,1160.5 L1500.9,1160.1 L1503.1,1159.6 L1505.4,1159.1 L1507.6,1158.7 L1509.9,1158.2 L1512.2,1157.8 L1514.4,1157.3 L1516.7,1156.8 L1518.9,1156.4 L1521.2,1155.9 L1523.5,1155.5 L1525.7,1155.0 L1528.0,1154.6 L1530.2,1154.1 L1532.5,1153.6 L1534.8,1153.2 L1537.0,1152.7 L1539.3,1152.3 L1541.5,1151.8 L1543.8,1151.3 L1546.1,1150.9 L1548.3,1150.4 L1550.6,1150.0 L1552.8,1149.5 L1555.1,1149.1 L1557.4,1148.6 L1559.6,1148.1 L1561.9,1147.7 L1564.1,1147.2 L1566.4,1146.8 L1568.7,1146.3 L1570.9,1145.8 L1573.2,1145.4 L1575.4,1144.9 L1577.7,1144.5 L1580.0,1144.0 L1582.2,1143.6 L1584.5,1143.1 L1586.7,1142.6 L1589.0,1142.2 L1591.2,1141.7 L1593.5,1141.3 L1595.8,1140.8 L1598.0,1140.3 L1600.2,1139.9 L1602.5,1139.4 L1604.8,1139.0 L1607.0,1138.5 L1609.2,1138.0 L1611.5,1137.6 L1613.8,1137.1 L1616.0,1136.7 L1618.2,1136.2 L1620.5,1135.8 L1622.8,1135.3 L1625.0,1134.8 L1627.2,1134.4 L1629.5,1133.9 L1631.8,1133.5 L1634.0,1133.0 L1636.2,1132.5 L1638.5,1132.1 L1640.8,1131.6 L1643.0,1131.2 L1645.2,1130.7 L1647.5,1130.3 L1649.8,1129.8 L1652.0,1129.3 L1654.2,1128.9 L1656.5,1128.4 L1658.8,1128.0 L1661.0,1127.5 L1663.2,1127.0 L1665.5,1126.6 L1667.8,1126.1 L1670.0,1125.7 L1672.2,1125.2 L1674.5,1124.8 L1676.8,1124.3 L1679.0,1123.8 L1681.2,1123.4 L1683.5,1122.9 L1685.8,1122.5 L1688.0,1122.0 L1690.2,1121.5 L1692.5,1121.1 L1694.8,1120.6 L1697.0,1120.2 L1699.2,1119.7 L1701.5,1119.3 L1703.8,1118.8 L1706.0,1118.3 L1708.2,1117.9 L1710.5,1117.4 L1712.8,1117.0 L1715.0,1116.5 L1717.2,1116.0 L1719.5,1115.6 L1721.8,1115.1 L1724.0,1114.7 L1726.2,1114.2 L1728.5,1113.8 L1730.8,1113.3 L1733.0,1112.8 L1735.2,1112.4 L1737.5,1111.9 L1739.8,1111.5 L1742.0,1111.0 L1744.2,1110.5 L1746.5,1110.1 L1748.8,1109.6 L1751.0,1109.2 L1753.2,1108.7 L1755.5,1108.3 L1757.8,1107.8 L1760.0,1107.3 L1762.2,1106.9 L1764.5,1106.4 L1766.8,1106.0 L1769.0,1105.5 L1771.2,1105.0 L1773.5,1104.6 L1775.8,1104.1 L1778.0,1103.7 L1780.2,1103.2 L1782.5,1102.8 L1784.8,1102.3 L1787.0,1101.8 L1789.2,1101.4 L1791.5,1100.9 L1793.8,1100.5 L1796.0,1100.0 L1798.2,1099.5 L1800.5,1099.1 L1802.8,1098.6 L1805.0,1098.2 L1807.2,1097.7 L1809.5,1097.3 L1811.8,1096.8 L1814.0,1096.3 L1816.3,1095.9 L1818.6,1095.4 L1820.8,1095.0 L1823.1,1094.5 L1825.4,1094.0 L1827.7,1093.6 L1830.0,1093.1 L1832.3,1092.7 L1834.5,1092.2 L1836.8,1091.8 L1839.1,1091.3 L1841.4,1090.8 L1843.7,1090.4 L1845.9,1089.9 L1848.2,1089.5 L1850.5,1089.0 L1852.8,1088.5 L1855.1,1088.1 L1857.4,1087.6 L1859.6,1087.2 L1861.9,1086.7 L1864.2,1086.3 L1866.5,1085.8 L1868.8,1085.3 L1871.0,1084.9 L1873.3,1084.4 L1875.6,1084.0 L1877.9,1083.5 L1880.2,1083.0 L1882.5,1082.6 L1884.7,1082.1 L1887.0,1081.7 L1889.3,1081.2 L1891.6,1080.8 L1893.9,1080.3 L1896.2,1079.8 L1898.4,1079.4 L1900.7,1078.9 L1903.0,1078.5 L1905.3,1078.0 L1907.6,1077.5 L1909.8,1077.1 L1912.1,1076.6 L1914.4,1076.2 L1916.7,1075.7 L1919.0,1075.3 L1921.3,1074.8 L1923.5,1074.3 L1925.8,1073.9 L1928.1,1073.4 L1930.4,1073.0 L1932.7,1072.5 L1934.9,1072.0 L1937.2,1071.6 L1939.5,1071.1 L1941.8,1070.7 L1944.1,1070.2 L1946.4,1069.8 L1948.6,1069.3 L1950.9,1068.8 L1953.2,1068.4 L1955.5,1067.9 L1957.8,1067.5 L1960.0,1067.0 L1962.3,1066.5 L1964.6,1066.1 L1966.9,1065.6 L1969.2,1065.2 L1971.5,1064.7 L1973.7,1064.3 L1976.0,1063.8 L1978.3,1063.3 L1980.6,1062.9 L1982.9,1062.4 L1985.2,1062.0 L1987.4,1061.5 L1989.7,1061.0 L1992.0,1060.6 L1994.3,1060.1 L1996.6,1059.7 L1998.8,1059.2 L2001.1,1058.8 L2003.4,1058.3 L2005.7,1057.8 L2008.0,1057.4 L2010.3,1056.9 L2012.5,1056.5 L2014.8,1056.0 L2017.1,1055.5 L2019.4,1055.1 L2021.7,1054.6 L2023.9,1054.2 L2026.2,1053.7 L2028.5,1053.3 L2030.8,1052.8 L2033.1,1052.3 L2035.4,1051.9 L2037.6,1051.4 L2039.9,1051.0 L2042.2,1050.5" stroke="#0000ff"/>
<path d="M231.5,1417.2 L231.5,1419.7 L233.8,1411.6 L236.0,1411.8 L238.3,1411.9 L240.5,1411.9 L242.8,1411.9 L245.0,1411.8 L247.3,1411.8 L249.5,1411.6 L251.8,1411.5 L254.1,1411.3 L256.3,1411.1 L258.6,1410.9 L260.8,1410.6 L263.1,1410.3 L265.3,1410.0 L267.6,1409.7 L269.8,1409.3 L272.1,1409.0 L274.3,1408.6 L276.6,1408.2 L278.9,1407.8 L281.1,1407.4 L283.4,1406.9 L285.6,1406.5 L287.9,1406.1 L290.1,1405.6 L292.4,1405.1 L294.6,1404.6 L296.9,1404.2 L299.1,1403.7 L301.4,1403.2 L303.7,1402.7 L305.9,1402.2 L308.2,1401.6 L310.4,1401.1 L312.7,1400.6 L314.9,1400.1 L317.2,1399.6 L319.4,1399.0 L321.7,1398.5 L324.0,1398.0 L326.2,1397.4 L328.5,1396.9 L330.7,1396.4 L333.0,1395.8 L335.2,1395.3 L337.5,1394.7 L339.7,1394.2 L342.0,1393.7 L344.2,1393.1 L346.5,1392.6 L348.8,1392.0 L351.0,1391.5 L353.3,1391.0 L355.5,1390.4 L357.8,1389.9 L360.0,1389.4 L362.3,1388.9 L364.5,1388.3 L366.8,1387.8 L369.1,1387.3 L371.3,1386.8 L373.6,1386.3 L375.8,1385.8 L378.1,1385.2 L380.3,1384.7 L382.6,1384.2 L384.8,1383.7 L387.1,1383.2 L389.4,1382.8 L391.6,1382.3 L393.9,1381.8 L396.1,1381.3 L398.4,1380.8 L400.6,1380.4 L402.9,1379.9 L405.1,1379.4 L407.4,1379.0 L409.6,1378.5 L411.9,1378.0 L414.2,1377.6 L416.4,1377.2 L418.7,1376.7 L420.9,1376.3 L423.2,1375.8 L425.4,1375.4 L427.7,1375.0 L429.9,1374.6 L432.2,1374.1 L434.5,1373.7 L436.7,1373.3 L439.0,1372.9 L441.2,1372.5 L443.5,1372.1 L445.7,1371.7 L448.0,1371.3 L450.2,1370.9 L452.5,1370.5 L454.7,1370.1 L457.0,1369.7 L459.3,1369.4 L461.5,1369.0 L463.8,1368.6 L466.0,1368.2 L468.3,1367.9 L470.5,1367.5 L472.8,1367.1 L475.0,1366.7 L477.3,1366.4 L479.6,1366.0 L481.8,1365.7 L484.1,1365.3 L486.3,1364.9 L488.6,1364.6 L490.8,1364.2 L493.1,1363.8 L495.3,1363.5 L497.6,1363.1 L499.8,1362.8 L502.1,1362.4 L504.4,1362.1 L506.6,1361.7 L508.9,1361.3 L511.1,1361.0 L513.4,1360.6 L515.6,1360.2 L517.9,1359.9 L520.1,1359.5 L522.4,1359.1 L524.6,1358.8 L526.9,1358.4 L529.2,1358.0 L531.4,1357.6 L533.7,1357.3 L535.9,1356.9 L538.2,1356.5 L540.4,1356.1 L542.7,1355.7 L544.9,1355.3 L547.2,1354.9 L549.5,1354.5 L551.7,1354.1 L554.0,1353.7 L556.2,1353.3 L558.5,1352.9 L560.7,1352.5 L563.0,1352.1 L565.2,1351.7 L567.5,1351.2 L569.8,1350.8 L572.0,1350.4 L574.3,1350.0 L576.5,1349.5 L578.8,1349.1 L581.0,1348.6 L583.3,1348.2 L585.5,1347.7 L587.8,1347.3 L590.0,1346.8 L592.3,1346.3 L594.6,1345.8 L596.8,1345.4 L599.1,1344.9 L601.3,1344.4 L603.6,1343.9 L605.8,1343.4 L608.1,1342.9 L610.3,1342.4 L612.6,1341.9 L614.9,1341.4 L617.1,1340.9 L619.4,1340.4 L621.6,1339.9 L623.9,1339.4 L626.1,1338.9 L628.4,1338.3 L630.6,1337.8 L632.9,1337.3 L635.1,1336.7 L637.4,1336.2 L639.7,1335.7 L641.9,1335.1 L644.2,1334.6 L646.4,1334.0 L648.7,1333.5 L650.9,1332.9 L653.2,1332.4 L655.4,1331.8 L657.7,1331.3 L660.0,1330.7 L662.2,1330.2 L664.5,1329.6 L666.7,1329.1 L669.0,1328.5 L671.2,1328.0 L673.5,1327.4 L675.7,1326.8 L678.0,1326.3 L680.2,1325.7 L682.5,1325.2 L684.8,1324.6 L687.0,1324.1 L689.2,1323.5 L691.5,1322.9 L693.8,1322.4 L696.0,1321.8 L698.2,1321.3 L700.5,1320.7 L702.8,1320.2 L705.0,1319.7 L707.2,1319.1 L709.5,1318.6 L711.8,1318.0 L714.0,1317.5 L716.2,1317.0 L718.5,1316.4 L720.8,1315.9 L723.0,1315.4 L725.2,1314.9 L727.5,1314.3 L729.8,1313.8 L732.0,1313.3 L734.2,1312.8 L736.5,1312.3 L738.8,1311.8 L741.0,1311.3 L743.2,1310.8 L745.5,1310.3 L747.8,1309.8 L750.0,1309.4 L752.2,1308.9 L754.5,1308.4 L756.8,1307.9 L759.0,1307.5 L761.2,1307.0 L763.5,1306.5 L765.8,1306.1 L768.0,1305.6 L770.2,1305.2 L772.5,1304.8 L774.8,1304.3 L777.0,1303.9 L779.2,1303.4 L781.5,1303.0 L783.8,1302.6 L786.0,1302.2 L788.2,1301.8 L790.5,1301.3 L792.8,1300.9 L795.0,1300.5 L797.2,1300.1 L799.5,1299.7 L801.8,1299.3 L804.0,1298.9 L806.2,1298.5 L808.5,1298.2 L810.8,1297.8 L813.0,1297.4 L815.2,1297.0 L817.5,1296.6 L819.8,1296.3 L822.0,1295.9 L824.2,1295.5 L826.5,1295.1 L828.8,1294.8 L831.0,1294.4 L833.2,1294.0 L835.5,1293.7 L837.8,1293.3 L840.0,1293.0 L842.2,1292.6 L844.5,1292.2 L846.8,1291.9 L849.0,1291.5 L851.2,1291.2 L853.5,1290.8 L855.8,1290.4 L858.0,1290.1 L860.2,1289.7 L862.5,1289.4 L864.8,1289.0 L867.0,1288.6 L869.2,1288.3 L871.5,1287.9 L873.8,1287.5 L876.0,1287.2 L878.2,1286.8 L880.5,1286.4 L882.8,1286.1 L885.0,1285.7 L887.2,1285.3 L889.5,1284.9 L891.8,1284.5 L894.0,1284.2 L896.2,1283.8 L898.5,1283.4 L900.8,1283.0 L903.0,1282.6 L905.2,1282.2 L907.5,1281.8 L909.8,1281.4 L912.1,1281.0 L914.4,1280.5 L916.7,1280.1 L919.0,1279.7 L921.3,1279.3 L923.6,1278.9 L925.9,1278.4 L928.2,1278.0 L930.5,1277.5 L932.8,1277.1 L935.1,1276.7 L937.4,1276.2 L939.7,1275.7 L942.0,1275.3 L944.3,1274.8 L946.6,1274.4 L948.9,1273.9 L951.2,1273.4 L953.5,1272.9 L955.8,1272.4 L958.1,1272.0 L960.4,1271.5 L962.7,1271.0 L965.0,1270.5 L967.3,1270.0 L969.6,1269.5 L971.9,1269.0 L974.2,1268.4 L976.5,1267.9 L978.8,1267.4 L981.1,1266.9 L983.4,1266.4 L985.7,1265.8 L988.0,1265.3 L990.3,1264.8 L992.6,1264.2 L994.9,1263.7 L997.2,1263.2 L999.5,1262.6 L1001.8,1262.1 L1004.1,1261.5 L1006.4,1261.0 L1008.7,1260.4 L1011.0,1259.9 L1013.3,1259.3 L1015.6,1258.8 L1017.9,1258.2 L1020.2,1257.7 L1022.5,1257.1 L1024.8,1256.6 L1027.1,1256.0 L1029.4,1255.4 L1031.7,1254.9 L1034.0,1254.3 L1036.3,1253.8 L1038.6,1253.2 L1040.9,1252.7 L1043.2,1252.1 L1045.5,1251.5 L1047.8,1251.0 L1050.1,1250.4 L1052.4,1249.9 L1054.7,1249.3 L1057.0,1248.8 L1059.3,1248.2 L1061.6,1247.7 L1063.9,1247.2 L1066.2,1246.6 L1068.5,1246.1 L1070.8,1245.5 L1073.1,1245.0 L1075.4,1244.5 L1077.7,1244.0 L1080.0,1243.4 L1082.3,1242.9 L1084.6,1242.4 L1086.9,1241.9 L1089.2,1241.4 L1091.5,1240.9 L1093.8,1240.4 L1096.1,1239.8 L1098.4,1239.4 L1100.7,1238.9 L1103.0,1238.4 L1105.3,1237.9 L1107.6,1237.4 L1109.9,1236.9 L1112.2,1236.4 L1114.5,1236.0 L1116.8,1235.5 L1119.1,1235.0 L1121.4,1234.6 L1123.7,1234.1 L1126.0,1233.7 L1128.3,1233.2 L1130.6,1232.8 L1132.9,1232.3 L1135.2,1231.9 L1137.5,1231.5 L1139.8,1231.1 L1142.0,1230.6 L1144.3,1230.2 L1146.5,1229.8 L1148.8,1229.4 L1151.0,1229.0 L1153.3,1228.6 L1155.5,1228.2 L1157.8,1227.8 L1160.0,1227.4 L1162.3,1227.0 L1164.6,1226.6 L1166.8,1226.2 L1169.1,1225.8 L1171.3,1225.4 L1173.6,1225.0 L1175.8,1224.7 L1178.1,1224.3 L1180.3,1223.9 L1182.6,1223.5 L1184.9,1223.2 L1187.1,1222.8 L1189.4,1222.4 L1191.6,1222.1 L1193.9,1221.7 L1196.1,1221.3 L1198.4,1221.0 L1200.6,1220.6 L1202.9,1220.3 L1205.2,1219.9 L1207.4,1219.5 L1209.7,1219.2 L1211.9,1218.8 L1214.2,1218.5 L1216.4,1218.1 L1218.7,1217.7 L1220.9,1217.4 L1223.2,1217.0 L1225.4,1216.7 L1227.7,1216.3 L1230.0,1215.9 L1232.2,1215.6 L1234.5,1215.2 L1236.7,1214.8 L1239.0,1214.5 L1241.2,1214.1 L1243.5,1213.7 L1245.7,1213.3 L1248.0,1212.9 L1250.2,1212.6 L1252.5,1212.2 L1254.8,1211.8 L1257.0,1211.4 L1259.3,1211.0 L1261.5,1210.6 L1263.8,1210.2 L1266.0,1209.8 L1268.3,1209.4 L1270.5,1209.0 L1272.8,1208.6 L1275.1,1208.2 L1277.3,1207.7 L1279.6,1207.3 L1281.8,1206.9 L1284.1,1206.5 L1286.3,1206.0 L1288.6,1205.6 L1290.8,1205.1 L1293.1,1204.7 L1295.3,1204.2 L1297.6,1203.8 L1299.9,1203.3 L1302.1,1202.9 L1304.4,1202.4 L1306.6,1201.9 L1308.9,1201.4 L1311.1,1201.0 L1313.4,1200.5 L1315.6,1200.0 L1317.9,1199.5 L1320.2,1199.0 L1322.4,1198.5 L1324.7,1198.0 L1326.9,1197.5 L1329.2,1197.0 L1331.4,1196.5 L1333.7,1196.0 L1335.9,1195.5 L1338.2,1194.9 L1340.5,1194.4 L1342.7,1193.9 L1345.0,1193.3 L1347.2,1192.8 L1349.5,1192.3 L1351.7,1191.7 L1354.0,1191.2 L1356.2,1190.7 L1358.5,1190.1 L1360.7,1189.6 L1363.0,1189.0 L1365.3,1188.5 L1367.5,1187.9 L1369.8,1187.4 L1372.0,1186.8 L1374.3,1186.3 L1376.6,1185.7 L1378.8,1185.2 L1381.1,1184.6 L1383.3,1184.0 L1385.6,1183.5 L1387.9,1182.9 L1390.1,1182.4 L1392.4,1181.8 L1394.6,1181.3 L1396.9,1180.7 L1399.2,1180.1 L1401.4,1179.6 L1403.7,1179.0 L1405.9,1178.5 L1408.2,1177.9 L1410.5,1177.4 L1412.7,1176.8 L1415.0,1176.3 L1417.2,1175.7 L1419.5,1175.2 L1421.8,1174.7 L1424.0,1174.1 L1426.3,1173.6 L1428.5,1173.1 L1430.8,1172.5 L1433.1,1172.0 L1435.3,1171.5 L1437.6,1170.9 L1439.8,1170.4 L1442.1,1169.9 L1444.4,1169.4 L1446.6,1168.9 L1448.9,1168.4 L1451.1,1167.9 L1453.4,1167.4 L1455.7,1166.9 L1457.9,1166.4 L1460.2,1165.9 L1462.4,1165.4 L1464.7,1165.0 L1467.0,1164.5 L1469.2,1164.0 L1471.5,1163.5 L1473.7,1163.1 L1476.0,1162.6 L1478.3,1162.2 L1480.5,1161.7 L1482.8,1161.3 L1485.0,1160.8 L1487.3,1160.4 L1489.6,1159.9 L1491.8,1159.5 L1494.1,1159.1 L1496.3,1158.7 L1498.6,1158.2 L1500.9,1157.8 L1503.1,1157.4 L1505.4,1157.0 L1507.6,1156.6 L1509.9,1156.2 L1512.2,1155.8 L1514.4,1155.4 L1516.7,1155.0 L1518.9,1154.6 L1521.2,1154.2 L1523.5,1153.8 L1525.7,1153.4 L1528.0,1153.1 L1530.2,1152.7 L1532.5,1152.3 L1534.8,1151.9 L1537.0,1151.6 L1539.3,1151.2 L1541.5,1150.8 L1543.8,1150.5 L1546.1,1150.1 L1548.3,1149.7 L1550.6,1149.4 L1552.8,1149.0 L1555.1,1148.7 L1557.4,1148.3 L1559.6,1147.9 L1561.9,1147.6 L1564.1,1147.2 L1566.4,1146.9 L1568.7,1146.5 L1570.9,1146.1 L1573.2,1145.8 L1575.4,1145.4 L1577.7,1145.1 L1580.0,1144.7 L1582.2,1144.3 L1584.5,1144.0 L1586.7,1143.6 L1589.0,1143.2 L1591.2,1142.9 L1593.5,1142.5 L1595.8,1142.1 L1598.0,1141.7 L1600.2,1141.4 L1602.5,1141.0 L1604.8,1140.6 L1607.0,1140.2 L1609.2,1139.8 L1611.5,1139.4 L1613.8,1139.0 L1616.0,1138.6 L1618.2,1138.2 L1620.5,1137.8 L1622.8,1137.4 L1625.0,1137.0 L1627.2,1136.6 L1629.5,1136.2 L1631.8,1135.8 L1634.0,1135.3 L1636.2,1134.9 L1638.5,1134.5 L1640.8,1134.1 L1643.0,1133.6 L1645.2,1133.2 L1647.5,1132.7 L1649.8,1132.3 L1652.0,1131.8 L1654.2,1131.4 L1656.5,1130.9 L1658.8,1130.4 L1661.0,1130.0 L1663.2,1129.5 L1665.5,1129.0 L1667.8,1128.5 L1670.0,1128.0 L1672.2,1127.5 L1674.5,1127.0 L1676.8,1126.6 L1679.0,1126.0 L1681.2,1125.5 L1683.5,1125.0 L1685.8,1124.5 L1688.0,1124.0 L1690.2,1123.5 L1692.5,1123.0 L1694.8,1122.4 L1697.0,1121.9 L1699.2,1121.4 L1701.5,1120.9 L1703.8,1120.3 L1706.0,1119.8 L1708.2,1119.2 L1710.5,1118.7 L1712.8,1118.2 L1715.0,1117.6 L1717.2,1117.1 L1719.5,1116.5 L1721.8,1116.0 L1724.0,1115.4 L1726.2,1114.9 L1728.5,1114.3 L1730.8,1113.7 L1733.0,1113.2 L1735.2,1112.6 L1737.5,1112.1 L1739.8,1111.5 L1742.0,1111.0 L1744.2,1110.4 L1746.5,1109.9 L1748.8,1109.3 L1751.0,1108.7 L1753.2,1108.2 L1755.5,1107.6 L1757.8,1107.1 L1760.0,1106.5 L1762.2,1106.0 L1764.5,1105.4 L1766.8,1104.9 L1769.0,1104.3 L1771.2,1103.8 L1773.5,1103.2 L1775.8,1102.7 L1778.0,1102.2 L1780.2,1101.6 L1782.5,1101.1 L1784.8,1100.6 L1787.0,1100.0 L1789.2,1099.5 L1791.5,1099.0 L1793.8,1098.5 L1796.0,1098.0 L1798.2,1097.4 L1800.5,1096.9 L1802.8,1096.4 L1805.0,1095.9 L1807.2,1095.4 L1809.5,1094.9 L1811.8,1094.4 L1814.0,1094.0 L1816.3,1093.5 L1818.6,1093.0 L1820.8,1092.5 L1823.1,1092.0 L1825.4,1091.6 L1827.7,1091.1 L1830.0,1090.7 L1832.3,1090.2 L1834.5,1089.7 L1836.8,1089.3 L1839.1,1088.9 L1841.4,1088.4 L1843.7,1088.0 L1845.9,1087.5 L1848.2,1087.1 L1850.5,1086.7 L1852.8,1086.3 L1855.1,1085.9 L1857.4,1085.4 L1859.6,1085.0 L1861.9,1084.6 L1864.2,1084.2 L1866.5,1083.8 L1868.8,1083.4 L1871.0,1083.0 L1873.3,1082.6 L1875.6,1082.2 L1877.9,1081.9 L1880.2,1081.5 L1882.5,1081.1 L1884.7,1080.7 L1887.0,1080.3 L1889.3,1080.0 L1891.6,1079.6 L1893.9,1079.2 L1896.2,1078.9 L1898.4,1078.5 L1900.7,1078.1 L1903.0,1077.8 L1905.3,1077.4 L1907.6,1077.0 L1909.8,1076.7 L1912.1,1076.3 L1914.4,1076.0 L1916.7,1075.6 L1919.0,1075.2 L1921.3,1074.9 L1923.5,1074.5 L1925.8,1074.2 L1928.1,1073.8 L1930.4,1073.4 L1932.7,1073.1 L1934.9,1072.7 L1937.2,1072.4 L1939.5,1072.0 L1941.8,1071.6 L1944.1,1071.3 L1946.4,1070.9 L1948.6,1070.5 L1950.9,1070.1 L1953.2,1069.8 L1955.5,1069.4 L1957.8,1069.0 L1960.0,1068.6 L1962.3,1068.2 L1964.6,1067.9 L1966.9,1067.5 L1969.2,1067.1 L1971.5,1066.7 L1973.7,1066.3 L1976.0,1065.9 L1978.3,1065.5 L1980.6,1065.1 L1982.9,1064.6 L1985.2,1064.2 L1987.4,1063.8 L1989.7,1063.4 L1992.0,1063.0 L1994.3,1062.5 L1996.6,1062.1 L1998.8,1061.6 L2001.1,1061.2 L2003.4,1060.8 L2005.7,1060.3 L2008.0,1059.9 L2010.3,1059.4 L2012.5,1058.9 L2014.8,1058.5 L2017.1,1058.0 L2019.4,1057.5 L2021.7,1057.0 L2023.9,1056.6 L2026.2,1056.1 L2028.5,1055.6 L2030.8,1055.1 L2033.1,1054.6 L2035.4,1054.1 L2037.6,1053.6 L2039.9,1053.1 L2042.2,1052.6" stroke="#ff00ff" stroke-dasharray="35.5 27.75"/>
<path d="M235.0,1417.2 L235.0,1401.2 L233.8,1401.2 L236.0,1401.2 L238.3,1401.3 L240.5,1401.3 L242.8,1401.3 L245.0,1401.3 L247.3,1401.2 L249.5,1401.2 L251.8,1401.1 L254.1,1401.1 L256.3,1401.0 L258.6,1400.9 L260.8,1400.8 L263.1,1400.8 L265.3,1400.7 L267.6,1400.6 L269.8,1400.4 L272.1,1400.3 L274.3,1400.2 L276.6,1400.1 L278.9,1400.0 L281.1,1399.8 L283.4,1399.7 L285.6,1399.5 L287.9,1399.4 L290.1,1399.3 L292.4,1399.1 L294.6,1399.0 L296.9,1398.8 L299.1,1398.7 L301.4,1398.5 L303.7,1398.4 L305.9,1398.2 L308.2,1398.0 L310.4,1397.9 L312.7,1397.7 L314.9,1397.5 L317.2,1397.4 L319.4,1397.2 L321.7,1397.0 L324.0,1396.8 L326.2,1396.6 L328.5,1396.4 L330.7,1396.2 L333.0,1396.0 L335.2,1395.8 L337.5,1395.6 L339.7,1395.4 L342.0,1395.2 L344.2,1394.9 L346.5,1394.7 L348.8,1394.5 L351.0,1394.2 L353.3,1394.0 L355.5,1393.7 L357.8,1393.5 L360.0,1393.2 L362.3,1393.0 L364.5,1392.7 L366.8,1392.4 L369.1,1392.1 L371.3,1391.8 L373.6,1391.5 L375.8,1391.2 L378.1,1390.9 L380.3,1390.6 L382.6,1390.2 L384.8,1389.9 L387.1,1389.5 L389.4,1389.1 L391.6,1388.8 L393.9,1388.4 L396.1,1388.0 L398.4,1387.6 L400.6,1387.2 L402.9,1386.7 L405.1,1386.3 L407.4,1385.8 L409.6,1385.4 L411.9,1384.9 L414.2,1384.4 L416.4,1384.0 L418.7,1383.5 L420.9,1382.9 L423.2,1382.4 L425.4,1381.9 L427.7,1381.4 L429.9,1380.8 L432.2,1380.3 L434.5,1379.7 L436.7,1379.1 L439.0,1378.5 L441.2,1377.9 L443.5,1377.3 L445.7,1376.7 L448.0,1376.1 L450.2,1375.5 L452.5,1374.8 L454.7,1374.2 L457.0,1373.5 L459.3,1372.9 L461.5,1372.2 L463.8,1371.6 L466.0,1370.9 L468.3,1370.2 L470.5,1369.5 L472.8,1368.8 L475.0,1368.1 L477.3,1367.4 L479.6,1366.7 L481.8,1366.0 L484.1,1365.3 L486.3,1364.6 L488.6,1363.9 L490.8,1363.2 L493.1,1362.5 L495.3,1361.8 L497.6,1361.0 L499.8,1360.3 L502.1,1359.6 L504.4,1358.9 L506.6,1358.2 L508.9,1357.5 L511.1,1356.8 L513.4,1356.1 L515.6,1355.4 L517.9,1354.7 L520.1,1354.0 L522.4,1353.3 L524.6,1352.6 L526.9,1351.9 L529.2,1351.2 L531.4,1350.6 L533.7,1349.9 L535.9,1349.2 L538.2,1348.6 L540.4,1347.9 L542.7,1347.3 L544.9,1346.7 L547.2,1346.0 L549.5,1345.4 L551.7,1344.8 L554.0,1344.2 L556.2,1343.6 L558.5,1343.0 L560.7,1342.5 L563.0,1341.9 L565.2,1341.3 L567.5,1340.8 L569.8,1340.3 L572.0,1339.7 L574.3,1339.2 L576.5,1338.7 L578.8,1338.2 L581.0,1337.7 L583.3,1337.3 L585.5,1336.8 L587.8,1336.3 L590.0,1335.9 L592.3,1335.5 L594.6,1335.0 L596.8,1334.6 L599.1,1334.2 L601.3,1333.8 L603.6,1333.5 L605.8,1333.1 L608.1,1332.7 L610.3,1332.4 L612.6,1332.0 L614.9,1331.7 L617.1,1331.4 L619.4,1331.0 L621.6,1330.7 L623.9,1330.4 L626.1,1330.1 L628.4,1329.8 L630.6,1329.6 L632.9,1329.3 L635.1,1329.0 L637.4,1328.8 L639.7,1328.5 L641.9,1328.3 L644.2,1328.0 L646.4,1327.8 L648.7,1327.6 L650.9,1327.3 L653.2,1327.1 L655.4,1326.9 L657.7,1326.7 L660.0,1326.5 L662.2,1326.3 L664.5,1326.1 L666.7,1325.9 L669.0,1325.7 L671.2,1325.5 L673.5,1325.3 L675.7,1325.1 L678.0,1324.8 L680.2,1324.6 L682.5,1324.4 L684.8,1324.2 L687.0,1324.0 L689.2,1323.8 L691.5,1323.6 L693.8,1323.4 L696.0,1323.2 L698.2,1323.0 L700.5,1322.7 L702.8,1322.5 L705.0,1322.3 L707.2,1322.0 L709.5,1321.8 L711.8,1321.5 L714.0,1321.3 L716.2,1321.0 L718.5,1320.7 L720.8,1320.4 L723.0,1320.1 L725.2,1319.8 L727.5,1319.5 L729.8,1319.2 L732.0,1318.9 L734.2,1318.6 L736.5,1318.2 L738.8,1317.9 L741.0,1317.5 L743.2,1317.2 L745.5,1316.8 L747.8,1316.4 L750.0,1316.0 L752.2,1315.6 L754.5,1315.2 L756.8,1314.8 L759.0,1314.3 L761.2,1313.9 L763.5,1313.4 L765.8,1313.0 L768.0,1312.5 L770.2,1312.0 L772.5,1311.5 L774.8,1311.0 L777.0,1310.5 L779.2,1309.9 L781.5,1309.4 L783.8,1308.9 L786.0,1308.3 L788.2,1307.7 L790.5,1307.2 L792.8,1306.6 L795.0,1306.0 L797.2,1305.4 L799.5,1304.8 L801.8,1304.1 L804.0,1303.5 L806.2,1302.9 L808.5,1302.2 L810.8,1301.6 L813.0,1300.9 L815.2,1300.3 L817.5,1299.6 L819.8,1298.9 L822.0,1298.3 L824.2,1297.6 L826.5,1296.9 L828.8,1296.2 L831.0,1295.5 L833.2,1294.8 L835.5,1294.1 L837.8,1293.4 L840.0,1292.7 L842.2,1292.0 L844.5,1291.2 L846.8,1290.5 L849.0,1289.8 L851.2,1289.1 L853.5,1288.4 L855.8,1287.7 L858.0,1287.0 L860.2,1286.2 L862.5,1285.5 L864.8,1284.8 L867.0,1284.1 L869.2,1283.4 L871.5,1282.7 L873.8,1282.0 L876.0,1281.3 L878.2,1280.6 L880.5,1280.0 L882.8,1279.3 L885.0,1278.6 L887.2,1277.9 L889.5,1277.3 L891.8,1276.6 L894.0,1276.0 L896.2,1275.3 L898.5,1274.7 L900.8,1274.1 L903.0,1273.5 L905.2,1272.9 L907.5,1272.3 L909.8,1271.7 L912.1,1271.1 L914.4,1270.5 L916.7,1269.9 L919.0,1269.4 L921.3,1268.8 L923.6,1268.3 L925.9,1267.8 L928.2,1267.3 L930.5,1266.8 L932.8,1266.3 L935.1,1265.8 L937.4,1265.3 L939.7,1264.8 L942.0,1264.4 L944.3,1263.9 L946.6,1263.5 L948.9,1263.1 L951.2,1262.7 L953.5,1262.3 L955.8,1261.9 L958.1,1261.5 L960.4,1261.1 L962.7,1260.7 L965.0,1260.4 L967.3,1260.0 L969.6,1259.7 L971.9,1259.4 L974.2,1259.1 L976.5,1258.7 L978.8,1258.4 L981.1,1258.2 L983.4,1257.9 L985.7,1257.6 L988.0,1257.3 L990.3,1257.0 L992.6,1256.8 L994.9,1256.5 L997.2,1256.3 L999.5,1256.1 L1001.8,1255.8 L1004.1,1255.6 L1006.4,1255.4 L1008.7,1255.1 L1011.0,1254.9 L1013.3,1254.7 L1015.6,1254.5 L1017.9,1254.3 L1020.2,1254.1 L1022.5,1253.9 L1024.8,1253.7 L1027.1,1253.5 L1029.4,1253.3 L1031.7,1253.1 L1034.0,1252.9 L1036.3,1252.7 L1038.6,1252.5 L1040.9,1252.3 L1043.2,1252.0 L1045.5,1251.8 L1047.8,1251.6 L1050.1,1251.4 L1052.4,1251.2 L1054.7,1251.0 L1057.0,1250.7 L1059.3,1250.5 L1061.6,1250.3 L1063.9,1250.0 L1066.2,1249.8 L1068.5,1249.5 L1070.8,1249.3 L1073.1,1249.0 L1075.4,1248.7 L1077.7,1248.5 L1080.0,1248.2 L1082.3,1247.9 L1084.6,1247.6 L1086.9,1247.3 L1089.2,1246.9 L1091.5,1246.6 L1093.8,1246.3 L1096.1,1245.9 L1098.4,1245.6 L1100.7,1245.2 L1103.0,1244.8 L1105.3,1244.4 L1107.6,1244.0 L1109.9,1243.6 L1112.2,1243.2 L1114.5,1242.8 L1116.8,1242.4 L1119.1,1241.9 L1121.4,1241.5 L1123.7,1241.0 L1126.0,1240.5 L1128.3,1240.0 L1130.6,1239.5 L1132.9,1239.0 L1135.2,1238.5 L1137.5,1238.0 L1139.8,1237.4 L1142.0,1236.9 L1144.3,1236.3 L1146.5,1235.8 L1148.8,1235.2 L1151.0,1234.6 L1153.3,1234.0 L1155.5,1233.4 L1157.8,1232.8 L1160.0,1232.2 L1162.3,1231.6 L1164.6,1230.9 L1166.8,1230.3 L1169.1,1229.6 L1171.3,1229.0 L1173.6,1228.3 L1175.8,1227.7 L1178.1,1227.0 L1180.3,1226.3 L1182.6,1225.6 L1184.9,1224.9 L1187.1,1224.2 L1189.4,1223.5 L1191.6,1222.8 L1193.9,1222.1 L1196.1,1221.4 L1198.4,1220.7 L1200.6,1220.0 L1202.9,1219.3 L1205.2,1218.6 L1207.4,1217.9 L1209.7,1217.2 L1211.9,1216.4 L1214.2,1215.7 L1216.4,1215.0 L1218.7,1214.3 L1220.9,1213.6 L1223.2,1212.9 L1225.4,1212.2 L1227.7,1211.5 L1230.0,1210.8 L1232.2,1210.1 L1234.5,1209.4 L1236.7,1208.7 L1239.0,1208.0 L1241.2,1207.3 L1243.5,1206.7 L1245.7,1206.0 L1248.0,1205.3 L1250.2,1204.7 L1252.5,1204.0 L1254.8,1203.4 L1257.0,1202.8 L1259.3,1202.1 L1261.5,1201.5 L1263.8,1200.9 L1266.0,1200.3 L1268.3,1199.7 L1270.5,1199.1 L1272.8,1198.6 L1275.1,1198.0 L1277.3,1197.4 L1279.6,1196.9 L1281.8,1196.3 L1284.1,1195.8 L1286.3,1195.3 L1288.6,1194.8 L1290.8,1194.3 L1293.1,1193.8 L1295.3,1193.3 L1297.6,1192.9 L1299.9,1192.4 L1302.1,1192.0 L1304.4,1191.5 L1306.6,1191.1 L1308.9,1190.7 L1311.1,1190.3 L1313.4,1189.9 L1315.6,1189.5 L1317.9,1189.1 L1320.2,1188.8 L1322.4,1188.4 L1324.7,1188.1 L1326.9,1187.7 L1329.2,1187.4 L1331.4,1187.1 L1333.7,1186.8 L1335.9,1186.5 L1338.2,1186.2 L1340.5,1185.9 L1342.7,1185.6 L1345.0,1185.3 L1347.2,1185.1 L1349.5,1184.8 L1351.7,1184.6 L1354.0,1184.3 L1356.2,1184.1 L1358.5,1183.8 L1360.7,1183.6 L1363.0,1183.4 L1365.3,1183.2 L1367.5,1182.9 L1369.8,1182.7 L1372.0,1182.5 L1374.3,1182.3 L1376.6,1182.1 L1378.8,1181.9 L1381.1,1181.7 L1383.3,1181.5 L1385.6,1181.3 L1387.9,1181.1 L1390.1,1180.9 L1392.4,1180.7 L1394.6,1180.5 L1396.9,1180.3 L1399.2,1180.1 L1401.4,1179.9 L1403.7,1179.6 L1405.9,1179.4 L1408.2,1179.2 L1410.5,1179.0 L1412.7,1178.8 L1415.0,1178.5 L1417.2,1178.3 L1419.5,1178.1 L1421.8,1177.8 L1424.0,1177.6 L1426.3,1177.3 L1428.5,1177.0 L1430.8,1176.8 L1433.1,1176.5 L1435.3,1176.2 L1437.6,1175.9 L1439.8,1175.6 L1442.1,1175.3 L1444.4,1175.0 L1446.6,1174.6 L1448.9,1174.3 L1451.1,1173.9 L1453.4,1173.6 L1455.7,1173.2 L1457.9,1172.9 L1460.2,1172.5 L1462.4,1172.1 L1464.7,1171.7 L1467.0,1171.3 L1469.2,1170.8 L1471.5,1170.4 L1473.7,1169.9 L1476.0,1169.5 L1478.3,1169.0 L1480.5,1168.6 L1482.8,1168.1 L1485.0,1167.6 L1487.3,1167.1 L1489.6,1166.5 L1491.8,1166.0 L1494.1,1165.5 L1496.3,1164.9 L1498.6,1164.4 L1500.9,1163.8 L1503.1,1163.2 L1505.4,1162.7 L1507.6,1162.1 L1509.9,1161.5 L1512.2,1160.9 L1514.4,1160.2 L1516.7,1159.6 L1518.9,1159.0 L1521.2,1158.3 L1523.5,1157.7 L1525.7,1157.0 L1528.0,1156.4 L1530.2,1155.7 L1532.5,1155.0 L1534.8,1154.4 L1537.0,1153.7 L1539.3,1153.0 L1541.5,1152.3 L1543.8,1151.6 L1546.1,1150.9 L1548.3,1150.2 L1550.6,1149.5 L1552.8,1148.8 L1555.1,1148.1 L1557.4,1147.4 L1559.6,1146.6 L1561.9,1145.9 L1564.1,1145.2 L1566.4,1144.5 L1568.7,1143.8 L1570.9,1143.1 L1573.2,1142.4 L1575.4,1141.6 L1577.7,1140.9 L1580.0,1140.2 L1582.2,1139.5 L1584.5,1138.8 L1586.7,1138.1 L1589.0,1137.4 L1591.2,1136.7 L1593.5,1136.1 L1595.8,1135.4 L1598.0,1134.7 L1600.2,1134.0 L1602.5,1133.4 L1604.8,1132.7 L1607.0,1132.1 L1609.2,1131.4 L1611.5,1130.8 L1613.8,1130.2 L1616.0,1129.6 L1618.2,1128.9 L1620.5,1128.3 L1622.8,1127.8 L1625.0,1127.2 L1627.2,1126.6 L1629.5,1126.0 L1631.8,1125.5 L1634.0,1124.9 L1636.2,1124.4 L1638.5,1123.9 L1640.8,1123.3 L1643.0,1122.8 L1645.2,1122.3 L1647.5,1121.9 L1649.8,1121.4 L1652.0,1120.9 L1654.2,1120.5 L1656.5,1120.0 L1658.8,1119.6 L1661.0,1119.1 L1663.2,1118.7 L1665.5,1118.3 L1667.8,1117.9 L1670.0,1117.5 L1672.2,1117.2 L1674.5,1116.8 L1676.8,1116.4 L1679.0,1116.1 L1681.2,1115.8 L1683.5,1115.4 L1685.8,1115.1 L1688.0,1114.8 L1690.2,1114.5 L1692.5,1114.2 L1694.8,1113.9 L1697.0,1113.6 L1699.2,1113.4 L1701.5,1113.1 L1703.8,1112.8 L1706.0,1112.6 L1708.2,1112.3 L1710.5,1112.1 L1712.8,1111.9 L1715.0,1111.6 L1717.2,1111.4 L1719.5,1111.2 L1721.8,1111.0 L1724.0,1110.7 L1726.2,1110.5 L1728.5,1110.3 L1730.8,1110.1 L1733.0,1109.9 L1735.2,1109.7 L1737.5,1109.5 L1739.8,1109.3 L1742.0,1109.1 L1744.2,1108.9 L1746.5,1108.7 L1748.8,1108.5 L1751.0,1108.3 L1753.2,1108.1 L1755.5,1107.9 L1757.8,1107.7 L1760.0,1107.4 L1762.2,1107.2 L1764.5,1107.0 L1766.8,1106.8 L1769.0,1106.5 L1771.2,1106.3 L1773.5,1106.1 L1775.8,1105.8 L1778.0,1105.6 L1780.2,1105.3 L1782.5,1105.0 L1784.8,1104.8 L1787.0,1104.5 L1789.2,1104.2 L1791.5,1103.9 L1793.8,1103.6 L1796.0,1103.3 L1798.2,1103.0 L1800.5,1102.7 L1802.8,1102.3 L1805.0,1102.0 L1807.2,1101.6 L1809.5,1101.3 L1811.8,1100.9 L1814.0,1100.5 L1816.3,1100.1 L1818.6,1099.7 L1820.8,1099.3 L1823.1,1098.9 L1825.4,1098.4 L1827.7,1098.0 L1830.0,1097.5 L1832.3,1097.1 L1834.5,1096.6 L1836.8,1096.1 L1839.1,1095.6 L1841.4,1095.1 L1843.7,1094.6 L1845.9,1094.1 L1848.2,1093.5 L1850.5,1093.0 L1852.8,1092.4 L1855.1,1091.9 L1857.4,1091.3 L1859.6,1090.7 L1861.9,1090.1 L1864.2,1089.5 L1866.5,1088.9 L1868.8,1088.3 L1871.0,1087.7 L1873.3,1087.0 L1875.6,1086.4 L1877.9,1085.7 L1880.2,1085.1 L1882.5,1084.4 L1884.7,1083.8 L1887.0,1083.1 L1889.3,1082.4 L1891.6,1081.7 L1893.9,1081.0 L1896.2,1080.3 L1898.4,1079.7 L1900.7,1079.0 L1903.0,1078.2 L1905.3,1077.5 L1907.6,1076.8 L1909.8,1076.1 L1912.1,1075.4 L1914.4,1074.7 L1916.7,1074.0 L1919.0,1073.3 L1921.3,1072.6 L1923.5,1071.8 L1925.8,1071.1 L1928.1,1070.4 L1930.4,1069.7 L1932.7,1069.0 L1934.9,1068.3 L1937.2,1067.6 L1939.5,1066.9 L1941.8,1066.2 L1944.1,1065.5 L1946.4,1064.8 L1948.6,1064.1 L1950.9,1063.4 L1953.2,1062.8 L1955.5,1062.1 L1957.8,1061.4 L1960.0,1060.8 L1962.3,1060.1 L1964.6,1059.5 L1966.9,1058.9 L1969.2,1058.2 L1971.5,1057.6 L1973.7,1057.0 L1976.0,1056.4 L1978.3,1055.8 L1980.6,1055.2 L1982.9,1054.6 L1985.2,1054.1 L1987.4,1053.5 L1989.7,1053.0 L1992.0,1052.4 L1994.3,1051.9 L1996.6,1051.4 L1998.8,1050.9 L2001.1,1050.4 L2003.4,1049.9 L2005.7,1049.4 L2008.0,1048.9 L2010.3,1048.5 L2012.5,1048.0 L2014.8,1047.6 L2017.1,1047.2 L2019.4,1046.8 L2021.7,1046.4 L2023.9,1046.0 L2026.2,1045.6 L2028.5,1045.2 L2030.8,1044.8 L2033.1,1044.5 L2035.4,1044.1 L2037.6,1043.8 L2039.9,1043.5 L2042.2,1043.1" stroke="#00ff00" stroke-dasharray="35.5 27.75"/>
</g>
<text transform="translate(216.46,1483.00) scale(1.0,1)" font-size="55.0">0</text>
<text transform="translate(428.18,1483.00) scale(1.0,1)" font-size="55.0">50</text>
<text transform="translate(641.10,1483.00) scale(1.0,1)" font-size="55.0">100</text>
<text transform="translate(865.10,1483.00) scale(1.0,1)" font-size="55.0">150</text>
<text transform="translate(1093.81,1483.00) scale(1.0,1)" font-size="55.0">200</text>
<text transform="translate(1319.81,1483.00) scale(1.0,1)" font-size="55.0">250</text>
<text transform="translate(1546.14,1483.00) scale(1.0,1)" font-size="55.0">300</text>
<text transform="translate(1771.14,1483.00) scale(1.0,1)" font-size="55.0">350</text>
<text transform="translate(1997.56,1483.00) scale(1.0,1)" font-size="55.0">400</text>
<text transform="translate(187.10,1346.80) scale(1.0,1)" font-size="55.0">1</text>
<text transform="translate(187.18,1255.20) scale(1.0,1)" font-size="55.0">2</text>
<text transform="translate(186.83,1162.60) scale(1.0,1)" font-size="55.0">3</text>
<text transform="translate(186.02,1071.50) scale(1.0,1)" font-size="55.0">4</text>
<rect x="483.00" y="116.90" width="308.20" height="179.10" fill="#fff" stroke="#000" stroke-width="4" shape-rendering="crispEdges"/>
<line x1="666.20" y1="116.90" x2="666.20" y2="121.70" stroke="#000" stroke-width="3" shape-rendering="crispEdges"/>
<line x1="770.60" y1="116.90" x2="770.60" y2="121.70" stroke="#000" stroke-width="3" shape-rendering="crispEdges"/>
<line x1="791.20" y1="184.00" x2="786.40" y2="184.00" stroke="#000" stroke-width="3" shape-rendering="crispEdges"/>
<line x1="791.20" y1="246.00" x2="786.40" y2="246.00" stroke="#000" stroke-width="3" shape-rendering="crispEdges"/>
<clipPath id="c4"><rect x="481.00" y="114.90" width="315.20" height="183.10"/></clipPath>
<g clip-path="url(#c4)" fill="none" stroke-width="13" stroke-linejoin="round" shape-rendering="crispEdges">
<path d="M646.0,321.8 L826.0,214.8" stroke="#0000ff"/>
<path d="M674.3,304.9 L814.3,221.8" stroke="#ff00ff" stroke-dasharray="33 27"/>
<path d="M481.2,163.0 L601.2,91.7" stroke="#00ff00" stroke-dasharray="30 30.5"/>
</g>
<text transform="translate(363.12,142.70) scale(1.0,1)" font-size="55.0">0.92</text>
<text transform="translate(393.55,204.20) scale(1.0,1)" font-size="55.0">0.9</text>
<text transform="translate(362.74,267.60) scale(1.0,1)" font-size="55.0">0.88</text>
<text transform="translate(532.42,366.30) scale(1.0,1)" font-size="55.0">84</text>
<text transform="translate(637.23,366.30) scale(1.0,1)" font-size="55.0">86</text>
<text transform="translate(741.11,366.30) scale(1.0,1)" font-size="55.0">88</text>
<rect x="857.80" y="666.60" width="300.80" height="134.50" fill="#fff" stroke="#000" stroke-width="4" shape-rendering="crispEdges"/>
<line x1="903.90" y1="801.10" x2="903.90" y2="796.30" stroke="#000" stroke-width="3" shape-rendering="crispEdges"/>
<line x1="1141.90" y1="801.10" x2="1141.90" y2="796.30" stroke="#000" stroke-width="3" shape-rendering="crispEdges"/>
<line x1="1158.60" y1="696.80" x2="1153.80" y2="696.80" stroke="#000" stroke-width="3" shape-rendering="crispEdges"/>
<line x1="1158.60" y1="762.70" x2="1153.80" y2="762.70" stroke="#000" stroke-width="3" shape-rendering="crispEdges"/>
<clipPath id="c5"><rect x="859.80" y="664.60" width="303.30" height="138.50"/></clipPath>
<g clip-path="url(#c5)" fill="none" stroke-width="13" stroke-linejoin="round" shape-rendering="crispEdges">
<path d="M832.5,698.4 L834.9,698.5 L837.3,698.6 L839.6,698.7 L842.0,698.9 L844.4,699.0 L846.8,699.1 L849.2,699.3 L851.5,699.4 L853.9,699.6 L856.3,699.7 L858.7,699.9 L861.1,700.0 L863.4,700.2 L865.8,700.4 L868.2,700.5 L870.6,700.7 L873.0,700.9 L875.3,701.1 L877.7,701.2 L880.1,701.4 L882.5,701.6 L884.9,701.8 L887.2,702.0 L889.6,702.2 L892.0,702.4 L894.4,702.7 L896.8,702.9 L899.1,703.1 L901.5,703.3 L903.9,703.5 L906.3,703.8 L908.7,704.0 L911.0,704.3 L913.4,704.5 L915.8,704.7 L918.2,705.0 L920.6,705.3 L922.9,705.5 L925.3,705.8 L927.7,706.0 L930.1,706.3 L932.5,706.6 L934.8,706.9 L937.2,707.2 L939.6,707.4 L942.0,707.7 L944.4,708.0 L946.7,708.3 L949.1,708.6 L951.5,708.9 L953.9,709.3 L956.3,709.6 L958.6,709.9 L961.0,710.2 L963.4,710.5 L965.8,710.9 L968.2,711.2 L970.5,711.6 L972.9,711.9 L975.3,712.2 L977.7,712.6 L980.1,712.9 L982.4,713.3 L984.8,713.7 L987.2,714.0 L989.6,714.4 L992.0,714.8 L994.3,715.2 L996.7,715.5 L999.1,715.9 L1001.5,716.3 L1003.9,716.7 L1006.2,717.1 L1008.6,717.5 L1011.0,717.9 L1013.4,718.3 L1015.8,718.7 L1018.1,719.2 L1020.5,719.6 L1022.9,720.0 L1025.3,720.4 L1027.7,720.9 L1030.0,721.3 L1032.4,721.8 L1034.8,722.2 L1037.2,722.6 L1039.6,723.1 L1041.9,723.6 L1044.3,724.0 L1046.7,724.5 L1049.1,725.0 L1051.5,725.4 L1053.8,725.9 L1056.2,726.4 L1058.6,726.9 L1061.0,727.4 L1063.4,727.9 L1065.7,728.3 L1068.1,728.8 L1070.5,729.4 L1072.9,729.9 L1075.3,730.4 L1077.6,730.9 L1080.0,731.4 L1082.4,731.9 L1084.8,732.5 L1087.2,733.0 L1089.5,733.5 L1091.9,734.1 L1094.3,734.6 L1096.7,735.2 L1099.1,735.7 L1101.4,736.3 L1103.8,736.8 L1106.2,737.4 L1108.6,738.0 L1111.0,738.5 L1113.3,739.1 L1115.7,739.7 L1118.1,740.3 L1120.5,740.8 L1122.9,741.4 L1125.2,742.0 L1127.6,742.6 L1130.0,743.2 L1132.4,743.8 L1134.8,744.5 L1137.1,745.1 L1139.5,745.7 L1141.9,746.3 L1144.3,746.9 L1146.7,747.6 L1149.0,748.2 L1151.4,748.8 L1153.8,749.5 L1156.2,750.1 L1158.6,750.8 L1160.9,751.4 L1163.3,752.1 L1165.7,752.7 L1168.1,753.4 L1170.5,754.1 L1172.8,754.7 L1175.2,755.4 L1177.6,756.1 L1180.0,756.8 L1182.4,757.5 L1184.7,758.2 L1187.1,758.9" stroke="#0000ff"/>
<path d="M856.3,704.3 L858.7,704.5 L861.1,704.6 L863.4,704.8 L865.8,705.0 L868.2,705.1 L870.6,705.3 L873.0,705.5 L875.3,705.7 L877.7,705.9 L880.1,706.0 L882.5,706.2 L884.9,706.4 L887.2,706.6 L889.6,706.8 L892.0,707.1 L894.4,707.3 L896.8,707.5 L899.1,707.7 L901.5,707.9 L903.9,708.2 L906.3,708.4 L908.7,708.6 L911.0,708.9 L913.4,709.1 L915.8,709.4 L918.2,709.6 L920.6,709.9 L922.9,710.1 L925.3,710.4 L927.7,710.7 L930.1,710.9 L932.5,711.2 L934.8,711.5 L937.2,711.8 L939.6,712.1 L942.0,712.4 L944.4,712.6 L946.7,712.9 L949.1,713.3 L951.5,713.6 L953.9,713.9 L956.3,714.2 L958.6,714.5 L961.0,714.8 L963.4,715.2 L965.8,715.5 L968.2,715.8 L970.5,716.2 L972.9,716.5 L975.3,716.9 L977.7,717.2 L980.1,717.6 L982.4,717.9 L984.8,718.3 L987.2,718.6 L989.6,719.0 L992.0,719.4 L994.3,719.8 L996.7,720.2 L999.1,720.5 L1001.5,720.9 L1003.9,721.3 L1006.2,721.7 L1008.6,722.1 L1011.0,722.5 L1013.4,722.9 L1015.8,723.4 L1018.1,723.8 L1020.5,724.2 L1022.9,724.6 L1025.3,725.1 L1027.7,725.5 L1030.0,725.9 L1032.4,726.4 L1034.8,726.8 L1037.2,727.3 L1039.6,727.7 L1041.9,728.2 L1044.3,728.6 L1046.7,729.1 L1049.1,729.6 L1051.5,730.0 L1053.8,730.5 L1056.2,731.0 L1058.6,731.5 L1061.0,732.0 L1063.4,732.5 L1065.7,733.0 L1068.1,733.5 L1070.5,734.0 L1072.9,734.5 L1075.3,735.0 L1077.6,735.5 L1080.0,736.0 L1082.4,736.5 L1084.8,737.1 L1087.2,737.6 L1089.5,738.1 L1091.9,738.7 L1094.3,739.2 L1096.7,739.8 L1099.1,740.3 L1101.4,740.9 L1103.8,741.4 L1106.2,742.0 L1108.6,742.6 L1111.0,743.1 L1113.3,743.7 L1115.7,744.3 L1118.1,744.9 L1120.5,745.5 L1122.9,746.1 L1125.2,746.6 L1127.6,747.2 L1130.0,747.8 L1132.4,748.5 L1134.8,749.1 L1137.1,749.7 L1139.5,750.3 L1141.9,750.9 L1144.3,751.5 L1146.7,752.2 L1149.0,752.8 L1151.4,753.4 L1153.8,754.1 L1156.2,754.7 L1158.6,755.4 L1160.9,756.0 L1163.3,756.7 L1165.7,757.4 L1168.1,758.0 L1170.5,758.7 L1172.8,759.4 L1175.2,760.0 L1177.6,760.7 L1180.0,761.4 L1182.4,762.1 L1184.7,762.8 L1187.1,763.5" stroke="#ff00ff" stroke-dasharray="33.5 30"/>
<path d="M856.3,713.3 L858.7,713.9 L861.1,714.4 L863.4,714.9 L865.8,715.5 L868.2,716.0 L870.6,716.6 L873.0,717.1 L875.3,717.7 L877.7,718.3 L880.1,718.8 L882.5,719.4 L884.9,720.0 L887.2,720.6 L889.6,721.1 L892.0,721.7 L894.4,722.3 L896.8,722.9 L899.1,723.5 L901.5,724.1 L903.9,724.7 L906.3,725.3 L908.7,726.0 L911.0,726.6 L913.4,727.2 L915.8,727.8 L918.2,728.5 L920.6,729.1 L922.9,729.7 L925.3,730.4 L927.7,731.0 L930.1,731.7 L932.5,732.3 L934.8,733.0 L937.2,733.7 L939.6,734.3 L942.0,735.0 L944.4,735.7 L946.7,736.3 L949.1,737.0 L951.5,737.7 L953.9,738.4 L956.3,739.1 L958.6,739.8 L961.0,740.5 L963.4,741.2 L965.8,741.9 L968.2,742.6 L970.5,743.4 L972.9,744.1 L975.3,744.8 L977.7,745.5 L980.1,746.3 L982.4,747.0 L984.8,747.7 L987.2,748.5 L989.6,749.2 L992.0,750.0 L994.3,750.8 L996.7,751.5 L999.1,752.3 L1001.5,753.0 L1003.9,753.8 L1006.2,754.6 L1008.6,755.4 L1011.0,756.2 L1013.4,757.0 L1015.8,757.7 L1018.1,758.5 L1020.5,759.3 L1022.9,760.1 L1025.3,761.0 L1027.7,761.8 L1030.0,762.6 L1032.4,763.4 L1034.8,764.2 L1037.2,765.1 L1039.6,765.9 L1041.9,766.7 L1044.3,767.6 L1046.7,768.4 L1049.1,769.3 L1051.5,770.1 L1053.8,771.0 L1056.2,771.8 L1058.6,772.7 L1061.0,773.6 L1063.4,774.4 L1065.7,775.3 L1068.1,776.2 L1070.5,777.1 L1072.9,778.0 L1075.3,778.8 L1077.6,779.7 L1080.0,780.6 L1082.4,781.5 L1084.8,782.4 L1087.2,783.4 L1089.5,784.3 L1091.9,785.2 L1094.3,786.1 L1096.7,787.0 L1099.1,788.0 L1101.4,788.9 L1103.8,789.8 L1106.2,790.8 L1108.6,791.7 L1111.0,792.7 L1113.3,793.6 L1115.7,794.6 L1118.1,795.6 L1120.5,796.5 L1122.9,797.5 L1125.2,798.5 L1127.6,799.4 L1130.0,800.4 L1132.4,801.4 L1134.8,802.4 L1137.1,803.4 L1139.5,804.4 L1141.9,805.4 L1144.3,806.4 L1146.7,807.4 L1149.0,808.4 L1151.4,809.4 L1153.8,810.4 L1156.2,811.5 L1158.6,812.5 L1160.9,813.5 L1163.3,814.6 L1165.7,815.6 L1168.1,816.7 L1170.5,817.7 L1172.8,818.8 L1175.2,819.8 L1177.6,820.9 L1180.0,821.9 L1182.4,823.0 L1184.7,824.1 L1187.1,825.1" stroke="#00ff00" stroke-dasharray="32 29.5"/>
</g>
<text transform="translate(754.58,717.50) scale(1.0,1)" font-size="55.0">120</text>
<text transform="translate(755.04,784.70) scale(1.0,1)" font-size="55.0">119</text>
<text transform="translate(863.00,866.60) scale(1.0,1)" font-size="55.0">160</text>
<text transform="translate(1101.18,866.60) scale(1.0,1)" font-size="55.0">165</text>
<rect x="1207.80" y="1076.20" width="376.20" height="253.30" fill="#fff" stroke="#000" stroke-width="4" shape-rendering="crispEdges"/>
<line x1="1246.00" y1="1076.20" x2="1246.00" y2="1081.00" stroke="#000" stroke-width="3" shape-rendering="crispEdges"/>
<line x1="1467.40" y1="1076.20" x2="1467.40" y2="1081.00" stroke="#000" stroke-width="3" shape-rendering="crispEdges"/>
<line x1="1207.80" y1="1150.80" x2="1212.60" y2="1150.80" stroke="#000" stroke-width="3" shape-rendering="crispEdges"/>
<clipPath id="c6"><rect x="1209.80" y="1074.20" width="377.70" height="257.30"/></clipPath>
<g clip-path="url(#c6)" fill="none" stroke-width="13" stroke-linejoin="round" shape-rendering="crispEdges">
<path d="M1190.0,1239.7 L1600.0,1109.7" stroke="#0000ff"/>
<path d="M1207.8,1220.8 L1620.0,1083.1" stroke="#ff00ff" stroke-dasharray="33 28"/>
<path d="M1207.8,1296.2 L1620.0,1114.0" stroke="#00ff00" stroke-dasharray="34 28"/>
</g>
<text transform="translate(1091.76,1171.50) scale(1.0,1)" font-size="55.0">2.15</text>
<text transform="translate(1091.07,1318.10) scale(1.0,1)" font-size="55.0">2.14</text>
<text transform="translate(1179.15,1400.50) scale(1.0,1)" font-size="55.0">214.5</text>
<text transform="translate(1424.89,1400.50) scale(1.0,1)" font-size="55.0">215</text>
<rect x="1438" y="46" width="579" height="237" fill="#fff" stroke="#000" stroke-width="4" shape-rendering="crispEdges"/>
<line x1="1470.6" y1="87.5" x2="1643.2" y2="87.5" stroke="#0000ff" stroke-width="13"/>
<line x1="1470.6" y1="163" x2="1640" y2="163" stroke="#ff00ff" stroke-width="12.2" stroke-dasharray="34.5 32"/>
<line x1="1470.6" y1="238.3" x2="1640" y2="238.3" stroke="#00ff00" stroke-width="12.2" stroke-dasharray="34.5 32"/>
<text transform="translate(1662.52,112.50) scale(1.016,1)" font-size="55.0">Desired value</text>
<text transform="translate(1664.02,187.70) scale(1.016,1)" font-size="55.0">PBF</text>
<text transform="translate(1663.74,262.90) scale(1.016,1)" font-size="55.0">TBF</text>
<text transform="rotate(-90)"><tspan class="di" x="-309.85" y="91.83" font-size="71.89" textLength="38.82" lengthAdjust="spacingAndGlyphs">χ</tspan><tspan class="sd" x="-265.52" y="99.20" font-size="60.14" textLength="25.71" lengthAdjust="spacingAndGlyphs">1</tspan><tspan class="sr" x="-227.00" y="92.26" font-size="93.19" textLength="23.47" lengthAdjust="spacingAndGlyphs">(</tspan><tspan class="si" x="-200.98" y="91.40" font-size="80.43" textLength="75.46" lengthAdjust="spacingAndGlyphs">m</tspan><tspan class="sr" x="-121.77" y="92.26" font-size="93.19" textLength="23.47" lengthAdjust="spacingAndGlyphs">)</tspan></text>
<text transform="rotate(-90)"><tspan class="di" x="-830.90" y="83.11" font-size="72.41" textLength="39.33" lengthAdjust="spacingAndGlyphs">χ</tspan><tspan class="sd" x="-786.56" y="91.40" font-size="60.41" textLength="27.94" lengthAdjust="spacingAndGlyphs">2</tspan><tspan class="sr" x="-750.25" y="83.34" font-size="93.30" textLength="24.63" lengthAdjust="spacingAndGlyphs">(</tspan><tspan class="si" x="-722.30" y="83.20" font-size="82.13" textLength="76.02" lengthAdjust="spacingAndGlyphs">m</tspan><tspan class="sr" x="-643.28" y="83.34" font-size="93.30" textLength="24.63" lengthAdjust="spacingAndGlyphs">)</tspan></text>
<text transform="rotate(-90)"><tspan class="si" x="-1366.57" y="138.49" font-size="92.58" textLength="53.94" lengthAdjust="spacingAndGlyphs">ψ</tspan><tspan class="sr" x="-1305.15" y="142.34" font-size="93.30" textLength="24.63" lengthAdjust="spacingAndGlyphs">(</tspan><tspan class="si" x="-1277.18" y="141.80" font-size="80.65" textLength="36.31" lengthAdjust="spacingAndGlyphs">r</tspan><tspan class="si" x="-1234.62" y="141.28" font-size="79.63" textLength="43.92" lengthAdjust="spacingAndGlyphs">a</tspan><tspan class="si" x="-1188.87" y="141.23" font-size="84.93" textLength="42.46" lengthAdjust="spacingAndGlyphs">d</tspan><tspan class="sr" x="-1143.78" y="142.34" font-size="93.30" textLength="24.63" lengthAdjust="spacingAndGlyphs">)</tspan></text>
<text><tspan class="si" x="997.52" y="1581.68" font-size="93.76" textLength="27.03" lengthAdjust="spacingAndGlyphs">t</tspan><tspan class="si" x="1025.94" y="1582.10" font-size="85.03" textLength="30.26" lengthAdjust="spacingAndGlyphs">i</tspan><tspan class="si" x="1056.82" y="1582.10" font-size="81.50" textLength="75.58" lengthAdjust="spacingAndGlyphs">m</tspan><tspan class="si" x="1133.95" y="1581.81" font-size="80.88" textLength="36.81" lengthAdjust="spacingAndGlyphs">e</tspan><tspan class="sr" x="1175.88" y="1582.07" font-size="92.20" textLength="24.38" lengthAdjust="spacingAndGlyphs">(</tspan><tspan class="si" x="1207.02" y="1581.81" font-size="80.88" textLength="34.46" lengthAdjust="spacingAndGlyphs">s</tspan><tspan class="sr" x="1244.94" y="1582.07" font-size="92.20" textLength="24.38" lengthAdjust="spacingAndGlyphs">)</tspan></text>
</svg>
</body></html>
